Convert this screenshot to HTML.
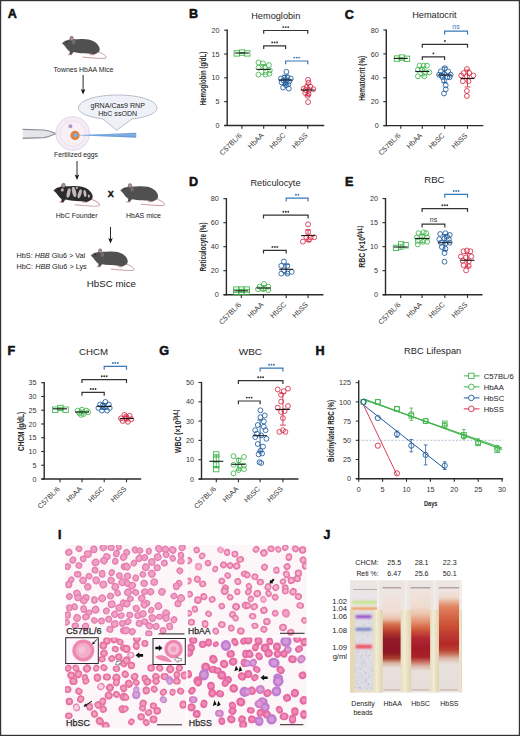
<!DOCTYPE html>
<html><head><meta charset="utf-8"><title>Figure</title>
<style>html,body{margin:0;padding:0;background:#fff;} svg{display:block;} text{font-family:"Liberation Sans", sans-serif;}</style>
</head><body>
<svg width="520" height="736" viewBox="0 0 520 736">
<rect x="0" y="0" width="520" height="736" fill="#fff"/>
<text x="7.70" y="18.30" font-size="12.6" text-anchor="start" font-weight="bold" fill="#111" stroke="#111" stroke-width="0.55" stroke-linejoin="round">A</text>
<g transform="translate(62,43.3) scale(1.0)"><path d="M35.5,8.3 C40,9.8 44.5,12.3 44.2,14.4 C43.8,16 32,14.7 20.8,13.8" fill="none" stroke="#c99a9c" stroke-width="1" stroke-linecap="round"/><path d="M28,10 L32.5,10.2 L32,11.9 L27.5,11.9 Z" fill="#d8a9aa"/><path d="M6.2,10.5 L9.6,10.5 L10.2,12 L5.8,12 Z" fill="#d8a9aa"/><path d="M0,0 C1.5,-1.6 3,-2.6 4.6,-2.9 C6.5,-3.4 8,-4 9,-4.2 C12,-4.2 14,-3.8 16,-4 C20,-4.4 24,-4.4 27.5,-3.6 C31.5,-2.6 35.8,0 37.2,3.6 C38.2,6.2 37.6,8.2 36,9.2 L33.6,10.6 L31.4,11.2 L28.6,10.4 C25,10.2 20,10 15,9.4 L11.6,8.8 L9.6,11.1 L7.4,11.1 L7.9,8.4 C6,7 4.2,5 3,3 C1.8,1.5 0.6,0.6 0,0 Z" fill="#505050"/><ellipse cx="11.8" cy="-1.2" rx="1.8" ry="2.6" fill="#7b7273" opacity="0.8"/><ellipse cx="9.6" cy="-4.9" rx="2.0" ry="2.3" fill="#857779"/><ellipse cx="9.8" cy="-4.6" rx="1.0" ry="1.3" fill="#b99c9e"/><circle cx="4.8" cy="-1.4" r="0.6" fill="#111"/><circle cx="0.3" cy="0.1" r="0.6" fill="#b99c9e"/></g>
<text x="83.50" y="72.30" font-size="6.95" text-anchor="middle" font-weight="normal" fill="#222" >Townes HbAA Mice</text>
<line x1="83.1" y1="75" x2="83.1" y2="90.5" stroke="#111" stroke-width="0.9"/>
<path d="M80.8,89.0 L83.1,94.5 L85.39999999999999,89.0 L83.1,90.2 Z" fill="#111"/>
<path d="M103,119 C88,117 78.5,113 78.5,108 C78.5,100.5 96,95 117.7,95 C139.5,95 157,100.5 157,108 C157,113 148,117 132,119 L116.6,130.3 Z" fill="#eef2f8" stroke="#8d96a6" stroke-width="0.6"/>
<text x="117.70" y="107.60" font-size="7.1" text-anchor="middle" font-weight="normal" fill="#222" >gRNA/Cas9 RNP</text>
<text x="117.70" y="115.60" font-size="7.1" text-anchor="middle" font-weight="normal" fill="#222" >HbC ssODN</text>
<path d="M22.7,129.5 L44,130 C49,130.5 52,132 55.8,133.6 C52,135.3 49,136.8 44,137.5 L22.7,138.3 Z" fill="#e4e5e9"/>
<path d="M22.7,129.4 L44,130 C49,130.5 52,132 55.8,133.6 M22.7,138.4 L44,137.6 C49,136.9 52,135.3 55.8,133.6" fill="none" stroke="#8a8e96" stroke-width="1.2"/>
<circle cx="72.7" cy="133.5" r="16.8" fill="#f3ecf7" stroke="#ddcde8" stroke-width="0.8"/>
<circle cx="72.7" cy="133.5" r="12.6" fill="#f8f0f6" stroke="#ecd2e4" stroke-width="0.6"/>
<circle cx="70.4" cy="126.2" r="2" fill="#b197c4"/>
<circle cx="75" cy="135.4" r="4.6" fill="#e07f3a"/>
<circle cx="75.6" cy="135.3" r="2.2" fill="#8aaed6"/>
<path d="M75.5,135.2 L136.2,132.7 L136.2,137.7 Z" fill="#6c9fd8"/>
<path d="M78,135 L136.2,134.2 L136.2,135.4 Z" fill="#8fbbe8"/>
<text x="76.00" y="157.00" font-size="6.77" text-anchor="middle" font-weight="normal" fill="#222" >Fertilized eggs</text>
<line x1="77" y1="161" x2="77" y2="176" stroke="#111" stroke-width="0.9"/>
<path d="M74.7,174.5 L77,180 L79.3,174.5 L77,175.7 Z" fill="#111"/>
<g transform="translate(53.5,190.4) scale(1.04)"><path d="M35.5,8.3 C40,9.8 44.5,12.3 44.2,14.4 C43.8,16 32,14.7 20.8,13.8" fill="none" stroke="#c99a9c" stroke-width="1" stroke-linecap="round"/><path d="M28,10 L32.5,10.2 L32,11.9 L27.5,11.9 Z" fill="#d8a9aa"/><path d="M6.2,10.5 L9.6,10.5 L10.2,12 L5.8,12 Z" fill="#d8a9aa"/><path d="M0,0 C1.5,-1.6 3,-2.6 4.6,-2.9 C6.5,-3.4 8,-4 9,-4.2 C12,-4.2 14,-3.8 16,-4 C20,-4.4 24,-4.4 27.5,-3.6 C31.5,-2.6 35.8,0 37.2,3.6 C38.2,6.2 37.6,8.2 36,9.2 L33.6,10.6 L31.4,11.2 L28.6,10.4 C25,10.2 20,10 15,9.4 L11.6,8.8 L9.6,11.1 L7.4,11.1 L7.9,8.4 C6,7 4.2,5 3,3 C1.8,1.5 0.6,0.6 0,0 Z" fill="#2c2c2c"/><ellipse cx="14.5" cy="2.5" rx="1.7" ry="4.6" transform="rotate(12 14.5 2.5)" fill="#c4b8b9"/><ellipse cx="19.8" cy="1.5" rx="1.9" ry="5.0" transform="rotate(-12 19.8 1.5)" fill="#c4b8b9"/><ellipse cx="25.2" cy="3.2" rx="1.6" ry="4.4" transform="rotate(18 25.2 3.2)" fill="#c4b8b9"/><ellipse cx="30.2" cy="3.0" rx="1.4" ry="3.4" transform="rotate(-8 30.2 3.0)" fill="#c4b8b9"/><ellipse cx="8.5" cy="-0.5" rx="1.4" ry="1.6" transform="rotate(0 8.5 -0.5)" fill="#c4b8b9"/><ellipse cx="22.5" cy="-2.5" rx="1.2" ry="1.0" transform="rotate(0 22.5 -2.5)" fill="#c4b8b9"/><ellipse cx="34" cy="5.5" rx="1.0" ry="1.6" transform="rotate(0 34 5.5)" fill="#c4b8b9"/><ellipse cx="9.6" cy="-4.9" rx="2.0" ry="2.3" fill="#857779"/><ellipse cx="9.8" cy="-4.6" rx="1.0" ry="1.3" fill="#b99c9e"/><circle cx="4.8" cy="-1.4" r="0.6" fill="#111"/><circle cx="0.3" cy="0.1" r="0.6" fill="#b99c9e"/></g>
<text x="110.70" y="197.40" font-size="9" text-anchor="middle" font-weight="bold" fill="#111" stroke="#111" stroke-width="0.4">X</text>
<g transform="translate(120.4,190.4) scale(1.0)"><path d="M35.5,8.3 C40,9.8 44.5,12.3 44.2,14.4 C43.8,16 32,14.7 20.8,13.8" fill="none" stroke="#c99a9c" stroke-width="1" stroke-linecap="round"/><path d="M28,10 L32.5,10.2 L32,11.9 L27.5,11.9 Z" fill="#d8a9aa"/><path d="M6.2,10.5 L9.6,10.5 L10.2,12 L5.8,12 Z" fill="#d8a9aa"/><path d="M0,0 C1.5,-1.6 3,-2.6 4.6,-2.9 C6.5,-3.4 8,-4 9,-4.2 C12,-4.2 14,-3.8 16,-4 C20,-4.4 24,-4.4 27.5,-3.6 C31.5,-2.6 35.8,0 37.2,3.6 C38.2,6.2 37.6,8.2 36,9.2 L33.6,10.6 L31.4,11.2 L28.6,10.4 C25,10.2 20,10 15,9.4 L11.6,8.8 L9.6,11.1 L7.4,11.1 L7.9,8.4 C6,7 4.2,5 3,3 C1.8,1.5 0.6,0.6 0,0 Z" fill="#505050"/><ellipse cx="11.8" cy="-1.2" rx="1.8" ry="2.6" fill="#7b7273" opacity="0.8"/><ellipse cx="9.6" cy="-4.9" rx="2.0" ry="2.3" fill="#857779"/><ellipse cx="9.8" cy="-4.6" rx="1.0" ry="1.3" fill="#b99c9e"/><circle cx="4.8" cy="-1.4" r="0.6" fill="#111"/><circle cx="0.3" cy="0.1" r="0.6" fill="#b99c9e"/></g>
<text x="76.70" y="217.80" font-size="6.96" text-anchor="middle" font-weight="normal" fill="#222" >HbC Founder</text>
<text x="143.50" y="217.80" font-size="7.0" text-anchor="middle" font-weight="normal" fill="#222" >HbAS mice</text>
<line x1="110.5" y1="227" x2="110.5" y2="239.5" stroke="#111" stroke-width="0.9"/>
<path d="M108.2,238.0 L110.5,243.5 L112.8,238.0 L110.5,239.2 Z" fill="#111"/>
<text x="16.60" y="257.50" font-size="7.25" text-anchor="start" font-weight="normal" fill="#222" >HbS: <tspan font-style="italic">HBB</tspan> Glu6 &gt; Val</text>
<text x="16.60" y="268.90" font-size="7.25" text-anchor="start" font-weight="normal" fill="#222" >HbC: <tspan font-style="italic">HBB</tspan> Glu6 &gt; Lys</text>
<g transform="translate(90.8,255.6) scale(0.98)"><path d="M35.5,8.3 C40,9.8 44.5,12.3 44.2,14.4 C43.8,16 32,14.7 20.8,13.8" fill="none" stroke="#c99a9c" stroke-width="1" stroke-linecap="round"/><path d="M28,10 L32.5,10.2 L32,11.9 L27.5,11.9 Z" fill="#d8a9aa"/><path d="M6.2,10.5 L9.6,10.5 L10.2,12 L5.8,12 Z" fill="#d8a9aa"/><path d="M0,0 C1.5,-1.6 3,-2.6 4.6,-2.9 C6.5,-3.4 8,-4 9,-4.2 C12,-4.2 14,-3.8 16,-4 C20,-4.4 24,-4.4 27.5,-3.6 C31.5,-2.6 35.8,0 37.2,3.6 C38.2,6.2 37.6,8.2 36,9.2 L33.6,10.6 L31.4,11.2 L28.6,10.4 C25,10.2 20,10 15,9.4 L11.6,8.8 L9.6,11.1 L7.4,11.1 L7.9,8.4 C6,7 4.2,5 3,3 C1.8,1.5 0.6,0.6 0,0 Z" fill="#505050"/><ellipse cx="11.8" cy="-1.2" rx="1.8" ry="2.6" fill="#7b7273" opacity="0.8"/><ellipse cx="9.6" cy="-4.9" rx="2.0" ry="2.3" fill="#857779"/><ellipse cx="9.8" cy="-4.6" rx="1.0" ry="1.3" fill="#b99c9e"/><circle cx="4.8" cy="-1.4" r="0.6" fill="#111"/><circle cx="0.3" cy="0.1" r="0.6" fill="#b99c9e"/></g>
<text x="111.40" y="287.40" font-size="9.75" text-anchor="middle" font-weight="normal" fill="#222" >HbSC mice</text>
<text x="188.90" y="18.40" font-size="12.6" text-anchor="start" font-weight="bold" fill="#111" stroke="#111" stroke-width="0.55" stroke-linejoin="round">B</text>
<text x="275.75" y="18.50" font-size="9.2" text-anchor="middle" font-weight="normal" fill="#1e1e1e" >Hemoglobin</text>
<line x1="227.2" y1="29.599999999999998" x2="227.2" y2="126.1" stroke="#2a2a2a" stroke-width="1.4"/>
<line x1="224.39999999999998" y1="125.5" x2="324.2" y2="125.5" stroke="#2a2a2a" stroke-width="1.4"/>
<line x1="224.2" y1="125.50" x2="227.2" y2="125.50" stroke="#2a2a2a" stroke-width="1.1"/>
<text x="219.60" y="128.10" font-size="7.2" text-anchor="end" font-weight="normal" fill="#333" >0</text>
<line x1="224.2" y1="101.67" x2="227.2" y2="101.67" stroke="#2a2a2a" stroke-width="1.1"/>
<text x="219.60" y="104.27" font-size="7.2" text-anchor="end" font-weight="normal" fill="#333" >5</text>
<line x1="224.2" y1="77.85" x2="227.2" y2="77.85" stroke="#2a2a2a" stroke-width="1.1"/>
<text x="219.60" y="80.45" font-size="7.2" text-anchor="end" font-weight="normal" fill="#333" >10</text>
<line x1="224.2" y1="54.03" x2="227.2" y2="54.03" stroke="#2a2a2a" stroke-width="1.1"/>
<text x="219.60" y="56.63" font-size="7.2" text-anchor="end" font-weight="normal" fill="#333" >15</text>
<line x1="224.2" y1="30.20" x2="227.2" y2="30.20" stroke="#2a2a2a" stroke-width="1.1"/>
<text x="219.60" y="32.80" font-size="7.2" text-anchor="end" font-weight="normal" fill="#333" >20</text>
<line x1="241.90" y1="125.5" x2="241.90" y2="128.7" stroke="#2a2a2a" stroke-width="1.1"/>
<text x="242.30" y="135.90" font-size="7.2" text-anchor="end" fill="#333" transform="rotate(-45 242.30 135.90)">C57BL/6</text>
<line x1="263.70" y1="125.5" x2="263.70" y2="128.7" stroke="#2a2a2a" stroke-width="1.1"/>
<text x="264.10" y="135.90" font-size="7.2" text-anchor="end" fill="#333" transform="rotate(-45 264.10 135.90)">HbAA</text>
<line x1="285.60" y1="125.5" x2="285.60" y2="128.7" stroke="#2a2a2a" stroke-width="1.1"/>
<text x="286.00" y="135.90" font-size="7.2" text-anchor="end" fill="#333" transform="rotate(-45 286.00 135.90)">HbSC</text>
<line x1="307.80" y1="125.5" x2="307.80" y2="128.7" stroke="#2a2a2a" stroke-width="1.1"/>
<text x="308.20" y="135.90" font-size="7.2" text-anchor="end" fill="#333" transform="rotate(-45 308.20 135.90)">HbSS</text>
<text x="0" y="0" font-size="9.5" font-weight="bold" text-anchor="middle" fill="#262626" textLength="53.3" lengthAdjust="spacingAndGlyphs" transform="translate(205.80,78.50) rotate(-90)">Hemoglobin (g/dL)</text>
<rect x="234.10" y="50.70" width="5.4" height="5.4" fill="none" stroke="#3db34a" stroke-width="0.85"/>
<rect x="239.30" y="49.90" width="5.4" height="5.4" fill="none" stroke="#3db34a" stroke-width="0.85"/>
<rect x="244.60" y="50.70" width="5.4" height="5.4" fill="none" stroke="#3db34a" stroke-width="0.85"/>
<path d="M238.90,52.51 H244.90 M238.90,53.49 H244.90 M241.90,52.51 V53.49" stroke="#3db34a" stroke-width="0.85" fill="none"/>
<line x1="234.90" y1="53.00" x2="248.90" y2="53.00" stroke="#1a1a1a" stroke-width="1.1"/>
<circle cx="258.50" cy="62.50" r="2.45" fill="none" stroke="#3db34a" stroke-width="0.85"/>
<circle cx="262.90" cy="63.40" r="2.45" fill="none" stroke="#3db34a" stroke-width="0.85"/>
<circle cx="268.90" cy="65.10" r="2.45" fill="none" stroke="#3db34a" stroke-width="0.85"/>
<circle cx="258.50" cy="67.70" r="2.45" fill="none" stroke="#3db34a" stroke-width="0.85"/>
<circle cx="264.60" cy="67.70" r="2.45" fill="none" stroke="#3db34a" stroke-width="0.85"/>
<circle cx="269.80" cy="70.30" r="2.45" fill="none" stroke="#3db34a" stroke-width="0.85"/>
<circle cx="258.50" cy="74.60" r="2.45" fill="none" stroke="#3db34a" stroke-width="0.85"/>
<circle cx="265.50" cy="74.60" r="2.45" fill="none" stroke="#3db34a" stroke-width="0.85"/>
<circle cx="269.40" cy="73.70" r="2.45" fill="none" stroke="#3db34a" stroke-width="0.85"/>
<path d="M260.70,64.64 H266.70 M260.70,74.16 H266.70 M263.70,64.64 V74.16" stroke="#3db34a" stroke-width="0.85" fill="none"/>
<line x1="256.70" y1="69.40" x2="270.70" y2="69.40" stroke="#1a1a1a" stroke-width="1.1"/>
<circle cx="286.40" cy="71.80" r="2.45" fill="none" stroke="#1f5c9e" stroke-width="0.85"/>
<circle cx="281.10" cy="78.50" r="2.45" fill="none" stroke="#1f5c9e" stroke-width="0.85"/>
<circle cx="284.50" cy="77.50" r="2.45" fill="none" stroke="#1f5c9e" stroke-width="0.85"/>
<circle cx="287.40" cy="77.10" r="2.45" fill="none" stroke="#1f5c9e" stroke-width="0.85"/>
<circle cx="290.80" cy="78.50" r="2.45" fill="none" stroke="#1f5c9e" stroke-width="0.85"/>
<circle cx="283.50" cy="80.40" r="2.45" fill="none" stroke="#1f5c9e" stroke-width="0.85"/>
<circle cx="286.40" cy="80.40" r="2.45" fill="none" stroke="#1f5c9e" stroke-width="0.85"/>
<circle cx="289.30" cy="81.40" r="2.45" fill="none" stroke="#1f5c9e" stroke-width="0.85"/>
<circle cx="281.60" cy="82.30" r="2.45" fill="none" stroke="#1f5c9e" stroke-width="0.85"/>
<circle cx="285.50" cy="83.30" r="2.45" fill="none" stroke="#1f5c9e" stroke-width="0.85"/>
<circle cx="288.30" cy="84.30" r="2.45" fill="none" stroke="#1f5c9e" stroke-width="0.85"/>
<circle cx="283.10" cy="87.60" r="2.45" fill="none" stroke="#1f5c9e" stroke-width="0.85"/>
<circle cx="288.80" cy="88.60" r="2.45" fill="none" stroke="#1f5c9e" stroke-width="0.85"/>
<circle cx="285.90" cy="85.20" r="2.45" fill="none" stroke="#1f5c9e" stroke-width="0.85"/>
<path d="M282.60,75.34 H288.60 M282.60,84.66 H288.60 M285.60,75.34 V84.66" stroke="#1f5c9e" stroke-width="0.85" fill="none"/>
<line x1="278.60" y1="80.00" x2="292.60" y2="80.00" stroke="#1a1a1a" stroke-width="1.1"/>
<circle cx="308.10" cy="79.90" r="2.45" fill="none" stroke="#d42a44" stroke-width="0.85"/>
<circle cx="308.50" cy="82.80" r="2.45" fill="none" stroke="#d42a44" stroke-width="0.85"/>
<circle cx="303.70" cy="88.60" r="2.45" fill="none" stroke="#d42a44" stroke-width="0.85"/>
<circle cx="306.60" cy="87.20" r="2.45" fill="none" stroke="#d42a44" stroke-width="0.85"/>
<circle cx="310.50" cy="86.70" r="2.45" fill="none" stroke="#d42a44" stroke-width="0.85"/>
<circle cx="313.30" cy="89.10" r="2.45" fill="none" stroke="#d42a44" stroke-width="0.85"/>
<circle cx="305.70" cy="90.00" r="2.45" fill="none" stroke="#d42a44" stroke-width="0.85"/>
<circle cx="309.00" cy="90.00" r="2.45" fill="none" stroke="#d42a44" stroke-width="0.85"/>
<circle cx="305.20" cy="92.90" r="2.45" fill="none" stroke="#d42a44" stroke-width="0.85"/>
<circle cx="308.50" cy="93.90" r="2.45" fill="none" stroke="#d42a44" stroke-width="0.85"/>
<circle cx="307.60" cy="95.80" r="2.45" fill="none" stroke="#d42a44" stroke-width="0.85"/>
<circle cx="308.10" cy="102.10" r="2.45" fill="none" stroke="#d42a44" stroke-width="0.85"/>
<path d="M304.80,84.13 H310.80 M304.80,95.87 H310.80 M307.80,84.13 V95.87" stroke="#d42a44" stroke-width="0.85" fill="none"/>
<line x1="300.80" y1="90.00" x2="314.80" y2="90.00" stroke="#1a1a1a" stroke-width="1.1"/>
<path d="M263.70,33.80 L263.70,30.50 L307.80,30.50 L307.80,33.80" fill="none" stroke="#333" stroke-width="1.2"/>
<circle cx="283.30" cy="27.10" r="0.95" fill="#333"/>
<circle cx="285.75" cy="27.10" r="0.95" fill="#333"/>
<circle cx="288.20" cy="27.10" r="0.95" fill="#333"/>
<path d="M263.70,49.10 L263.70,45.80 L285.60,45.80 L285.60,49.10" fill="none" stroke="#333" stroke-width="1.2"/>
<circle cx="272.20" cy="42.40" r="0.95" fill="#333"/>
<circle cx="274.65" cy="42.40" r="0.95" fill="#333"/>
<circle cx="277.10" cy="42.40" r="0.95" fill="#333"/>
<path d="M285.60,64.30 L285.60,61.00 L307.80,61.00 L307.80,64.30" fill="none" stroke="#3a78b8" stroke-width="1.2"/>
<circle cx="294.25" cy="57.60" r="0.95" fill="#3a78b8"/>
<circle cx="296.70" cy="57.60" r="0.95" fill="#3a78b8"/>
<circle cx="299.15" cy="57.60" r="0.95" fill="#3a78b8"/>
<text x="344.70" y="18.50" font-size="12.6" text-anchor="start" font-weight="bold" fill="#111" stroke="#111" stroke-width="0.55" stroke-linejoin="round">C</text>
<text x="434.40" y="18.10" font-size="9.2" text-anchor="middle" font-weight="normal" fill="#1e1e1e" >Hematocrit</text>
<line x1="386.3" y1="29.4" x2="386.3" y2="126.19999999999999" stroke="#2a2a2a" stroke-width="1.4"/>
<line x1="383.5" y1="125.6" x2="483.3" y2="125.6" stroke="#2a2a2a" stroke-width="1.4"/>
<line x1="383.3" y1="125.60" x2="386.3" y2="125.60" stroke="#2a2a2a" stroke-width="1.1"/>
<text x="378.70" y="128.20" font-size="7.2" text-anchor="end" font-weight="normal" fill="#333" >0</text>
<line x1="383.3" y1="101.70" x2="386.3" y2="101.70" stroke="#2a2a2a" stroke-width="1.1"/>
<text x="378.70" y="104.30" font-size="7.2" text-anchor="end" font-weight="normal" fill="#333" >20</text>
<line x1="383.3" y1="77.80" x2="386.3" y2="77.80" stroke="#2a2a2a" stroke-width="1.1"/>
<text x="378.70" y="80.40" font-size="7.2" text-anchor="end" font-weight="normal" fill="#333" >40</text>
<line x1="383.3" y1="53.90" x2="386.3" y2="53.90" stroke="#2a2a2a" stroke-width="1.1"/>
<text x="378.70" y="56.50" font-size="7.2" text-anchor="end" font-weight="normal" fill="#333" >60</text>
<line x1="383.3" y1="30.00" x2="386.3" y2="30.00" stroke="#2a2a2a" stroke-width="1.1"/>
<text x="378.70" y="32.60" font-size="7.2" text-anchor="end" font-weight="normal" fill="#333" >80</text>
<line x1="400.80" y1="125.6" x2="400.80" y2="128.79999999999998" stroke="#2a2a2a" stroke-width="1.1"/>
<text x="401.20" y="136.00" font-size="7.2" text-anchor="end" fill="#333" transform="rotate(-45 401.20 136.00)">C57BL/6</text>
<line x1="422.30" y1="125.6" x2="422.30" y2="128.79999999999998" stroke="#2a2a2a" stroke-width="1.1"/>
<text x="422.70" y="136.00" font-size="7.2" text-anchor="end" fill="#333" transform="rotate(-45 422.70 136.00)">HbAA</text>
<line x1="444.60" y1="125.6" x2="444.60" y2="128.79999999999998" stroke="#2a2a2a" stroke-width="1.1"/>
<text x="445.00" y="136.00" font-size="7.2" text-anchor="end" fill="#333" transform="rotate(-45 445.00 136.00)">HbSC</text>
<line x1="467.50" y1="125.6" x2="467.50" y2="128.79999999999998" stroke="#2a2a2a" stroke-width="1.1"/>
<text x="467.90" y="136.00" font-size="7.2" text-anchor="end" fill="#333" transform="rotate(-45 467.90 136.00)">HbSS</text>
<text x="0" y="0" font-size="9.5" font-weight="bold" text-anchor="middle" fill="#262626" textLength="45" lengthAdjust="spacingAndGlyphs" transform="translate(364.90,78.30) rotate(-90)">Hematocrit (%)</text>
<rect x="394.30" y="55.90" width="5.4" height="5.4" fill="none" stroke="#3db34a" stroke-width="0.85"/>
<rect x="399.30" y="54.90" width="5.4" height="5.4" fill="none" stroke="#3db34a" stroke-width="0.85"/>
<rect x="404.30" y="56.10" width="5.4" height="5.4" fill="none" stroke="#3db34a" stroke-width="0.85"/>
<path d="M397.80,57.75 H403.80 M397.80,59.05 H403.80 M400.80,57.75 V59.05" stroke="#3db34a" stroke-width="0.85" fill="none"/>
<line x1="393.80" y1="58.40" x2="407.80" y2="58.40" stroke="#1a1a1a" stroke-width="1.1"/>
<circle cx="419.50" cy="65.70" r="2.45" fill="none" stroke="#3db34a" stroke-width="0.85"/>
<circle cx="423.60" cy="65.70" r="2.45" fill="none" stroke="#3db34a" stroke-width="0.85"/>
<circle cx="426.90" cy="65.70" r="2.45" fill="none" stroke="#3db34a" stroke-width="0.85"/>
<circle cx="417.90" cy="69.80" r="2.45" fill="none" stroke="#3db34a" stroke-width="0.85"/>
<circle cx="422.00" cy="69.80" r="2.45" fill="none" stroke="#3db34a" stroke-width="0.85"/>
<circle cx="425.20" cy="72.30" r="2.45" fill="none" stroke="#3db34a" stroke-width="0.85"/>
<circle cx="429.30" cy="72.30" r="2.45" fill="none" stroke="#3db34a" stroke-width="0.85"/>
<circle cx="417.90" cy="76.30" r="2.45" fill="none" stroke="#3db34a" stroke-width="0.85"/>
<circle cx="424.40" cy="76.30" r="2.45" fill="none" stroke="#3db34a" stroke-width="0.85"/>
<path d="M419.30,67.11 H425.30 M419.30,75.89 H425.30 M422.30,67.11 V75.89" stroke="#3db34a" stroke-width="0.85" fill="none"/>
<line x1="415.30" y1="71.50" x2="429.30" y2="71.50" stroke="#1a1a1a" stroke-width="1.1"/>
<circle cx="444.80" cy="68.20" r="2.45" fill="none" stroke="#1f5c9e" stroke-width="0.85"/>
<circle cx="440.80" cy="71.40" r="2.45" fill="none" stroke="#1f5c9e" stroke-width="0.85"/>
<circle cx="448.10" cy="71.40" r="2.45" fill="none" stroke="#1f5c9e" stroke-width="0.85"/>
<circle cx="439.10" cy="74.70" r="2.45" fill="none" stroke="#1f5c9e" stroke-width="0.85"/>
<circle cx="444.00" cy="73.90" r="2.45" fill="none" stroke="#1f5c9e" stroke-width="0.85"/>
<circle cx="450.60" cy="74.70" r="2.45" fill="none" stroke="#1f5c9e" stroke-width="0.85"/>
<circle cx="442.40" cy="77.20" r="2.45" fill="none" stroke="#1f5c9e" stroke-width="0.85"/>
<circle cx="447.30" cy="77.20" r="2.45" fill="none" stroke="#1f5c9e" stroke-width="0.85"/>
<circle cx="444.00" cy="80.40" r="2.45" fill="none" stroke="#1f5c9e" stroke-width="0.85"/>
<circle cx="445.70" cy="85.30" r="2.45" fill="none" stroke="#1f5c9e" stroke-width="0.85"/>
<circle cx="445.70" cy="89.40" r="2.45" fill="none" stroke="#1f5c9e" stroke-width="0.85"/>
<circle cx="444.00" cy="93.50" r="2.45" fill="none" stroke="#1f5c9e" stroke-width="0.85"/>
<circle cx="441.60" cy="75.50" r="2.45" fill="none" stroke="#1f5c9e" stroke-width="0.85"/>
<circle cx="449.70" cy="77.20" r="2.45" fill="none" stroke="#1f5c9e" stroke-width="0.85"/>
<path d="M441.60,67.29 H447.60 M441.60,82.71 H447.60 M444.60,67.29 V82.71" stroke="#1f5c9e" stroke-width="0.85" fill="none"/>
<line x1="437.60" y1="75.00" x2="451.60" y2="75.00" stroke="#1a1a1a" stroke-width="1.1"/>
<circle cx="466.90" cy="69.00" r="2.45" fill="none" stroke="#d42a44" stroke-width="0.85"/>
<circle cx="463.60" cy="73.10" r="2.45" fill="none" stroke="#d42a44" stroke-width="0.85"/>
<circle cx="469.30" cy="73.10" r="2.45" fill="none" stroke="#d42a44" stroke-width="0.85"/>
<circle cx="473.40" cy="75.50" r="2.45" fill="none" stroke="#d42a44" stroke-width="0.85"/>
<circle cx="461.20" cy="75.50" r="2.45" fill="none" stroke="#d42a44" stroke-width="0.85"/>
<circle cx="466.90" cy="76.30" r="2.45" fill="none" stroke="#d42a44" stroke-width="0.85"/>
<circle cx="462.80" cy="81.20" r="2.45" fill="none" stroke="#d42a44" stroke-width="0.85"/>
<circle cx="468.50" cy="81.20" r="2.45" fill="none" stroke="#d42a44" stroke-width="0.85"/>
<circle cx="466.90" cy="91.00" r="2.45" fill="none" stroke="#d42a44" stroke-width="0.85"/>
<circle cx="466.90" cy="96.00" r="2.45" fill="none" stroke="#d42a44" stroke-width="0.85"/>
<path d="M464.50,70.01 H470.50 M464.50,86.99 H470.50 M467.50,70.01 V86.99" stroke="#d42a44" stroke-width="0.85" fill="none"/>
<line x1="460.50" y1="78.50" x2="474.50" y2="78.50" stroke="#1a1a1a" stroke-width="1.1"/>
<path d="M444.60,34.50 L444.60,31.20 L467.50,31.20 L467.50,34.50" fill="none" stroke="#3a78b8" stroke-width="1.2"/>
<text x="456.05" y="29.00" font-size="7.0" text-anchor="middle" font-weight="normal" fill="#3a78b8" >ns</text>
<path d="M422.30,47.70 L422.30,44.40 L467.50,44.40 L467.50,47.70" fill="none" stroke="#333" stroke-width="1.2"/>
<circle cx="444.90" cy="41.00" r="0.95" fill="#333"/>
<path d="M422.30,60.10 L422.30,56.80 L444.60,56.80 L444.60,60.10" fill="none" stroke="#333" stroke-width="1.2"/>
<circle cx="433.45" cy="53.40" r="0.95" fill="#333"/>
<text x="188.90" y="185.80" font-size="12.6" text-anchor="start" font-weight="bold" fill="#111" stroke="#111" stroke-width="0.55" stroke-linejoin="round">D</text>
<text x="275.50" y="186.00" font-size="9.2" text-anchor="middle" font-weight="normal" fill="#1e1e1e" >Reticulocyte</text>
<line x1="226.4" y1="198.1" x2="226.4" y2="295.3" stroke="#2a2a2a" stroke-width="1.4"/>
<line x1="223.6" y1="294.7" x2="323.4" y2="294.7" stroke="#2a2a2a" stroke-width="1.4"/>
<line x1="223.4" y1="294.70" x2="226.4" y2="294.70" stroke="#2a2a2a" stroke-width="1.1"/>
<text x="218.80" y="297.30" font-size="7.2" text-anchor="end" font-weight="normal" fill="#333" >0</text>
<line x1="223.4" y1="270.70" x2="226.4" y2="270.70" stroke="#2a2a2a" stroke-width="1.1"/>
<text x="218.80" y="273.30" font-size="7.2" text-anchor="end" font-weight="normal" fill="#333" >20</text>
<line x1="223.4" y1="246.70" x2="226.4" y2="246.70" stroke="#2a2a2a" stroke-width="1.1"/>
<text x="218.80" y="249.30" font-size="7.2" text-anchor="end" font-weight="normal" fill="#333" >40</text>
<line x1="223.4" y1="222.70" x2="226.4" y2="222.70" stroke="#2a2a2a" stroke-width="1.1"/>
<text x="218.80" y="225.30" font-size="7.2" text-anchor="end" font-weight="normal" fill="#333" >60</text>
<line x1="223.4" y1="198.70" x2="226.4" y2="198.70" stroke="#2a2a2a" stroke-width="1.1"/>
<text x="218.80" y="201.30" font-size="7.2" text-anchor="end" font-weight="normal" fill="#333" >80</text>
<line x1="241.30" y1="294.7" x2="241.30" y2="297.9" stroke="#2a2a2a" stroke-width="1.1"/>
<text x="241.70" y="305.10" font-size="7.2" text-anchor="end" fill="#333" transform="rotate(-45 241.70 305.10)">C57BL/6</text>
<line x1="263.50" y1="294.7" x2="263.50" y2="297.9" stroke="#2a2a2a" stroke-width="1.1"/>
<text x="263.90" y="305.10" font-size="7.2" text-anchor="end" fill="#333" transform="rotate(-45 263.90 305.10)">HbAA</text>
<line x1="286.20" y1="294.7" x2="286.20" y2="297.9" stroke="#2a2a2a" stroke-width="1.1"/>
<text x="286.60" y="305.10" font-size="7.2" text-anchor="end" fill="#333" transform="rotate(-45 286.60 305.10)">HbSC</text>
<line x1="308.10" y1="294.7" x2="308.10" y2="297.9" stroke="#2a2a2a" stroke-width="1.1"/>
<text x="308.50" y="305.10" font-size="7.2" text-anchor="end" fill="#333" transform="rotate(-45 308.50 305.10)">HbSS</text>
<text x="0" y="0" font-size="9.5" font-weight="bold" text-anchor="middle" fill="#262626" textLength="49" lengthAdjust="spacingAndGlyphs" transform="translate(206.20,247.00) rotate(-90)">Reticulocyte (%)</text>
<rect x="233.60" y="286.90" width="5.4" height="5.4" fill="none" stroke="#3db34a" stroke-width="0.85"/>
<rect x="238.80" y="286.90" width="5.4" height="5.4" fill="none" stroke="#3db34a" stroke-width="0.85"/>
<rect x="244.00" y="286.90" width="5.4" height="5.4" fill="none" stroke="#3db34a" stroke-width="0.85"/>
<rect x="233.60" y="289.30" width="5.4" height="5.4" fill="none" stroke="#3db34a" stroke-width="0.85"/>
<rect x="238.80" y="289.30" width="5.4" height="5.4" fill="none" stroke="#3db34a" stroke-width="0.85"/>
<rect x="244.00" y="289.30" width="5.4" height="5.4" fill="none" stroke="#3db34a" stroke-width="0.85"/>
<path d="M238.30,289.49 H244.30 M238.30,292.11 H244.30 M241.30,289.49 V292.11" stroke="#3db34a" stroke-width="0.85" fill="none"/>
<line x1="234.30" y1="290.80" x2="248.30" y2="290.80" stroke="#1a1a1a" stroke-width="1.1"/>
<circle cx="264.00" cy="284.00" r="2.45" fill="none" stroke="#3db34a" stroke-width="0.85"/>
<circle cx="259.70" cy="286.60" r="2.45" fill="none" stroke="#3db34a" stroke-width="0.85"/>
<circle cx="268.30" cy="286.60" r="2.45" fill="none" stroke="#3db34a" stroke-width="0.85"/>
<circle cx="258.00" cy="289.20" r="2.45" fill="none" stroke="#3db34a" stroke-width="0.85"/>
<circle cx="263.10" cy="289.20" r="2.45" fill="none" stroke="#3db34a" stroke-width="0.85"/>
<circle cx="268.30" cy="290.10" r="2.45" fill="none" stroke="#3db34a" stroke-width="0.85"/>
<path d="M260.50,285.67 H266.50 M260.50,290.33 H266.50 M263.50,285.67 V290.33" stroke="#3db34a" stroke-width="0.85" fill="none"/>
<line x1="256.50" y1="288.00" x2="270.50" y2="288.00" stroke="#1a1a1a" stroke-width="1.1"/>
<circle cx="283.90" cy="261.50" r="2.45" fill="none" stroke="#1f5c9e" stroke-width="0.85"/>
<circle cx="281.30" cy="265.80" r="2.45" fill="none" stroke="#1f5c9e" stroke-width="0.85"/>
<circle cx="287.40" cy="265.80" r="2.45" fill="none" stroke="#1f5c9e" stroke-width="0.85"/>
<circle cx="283.90" cy="270.20" r="2.45" fill="none" stroke="#1f5c9e" stroke-width="0.85"/>
<circle cx="281.30" cy="273.60" r="2.45" fill="none" stroke="#1f5c9e" stroke-width="0.85"/>
<circle cx="287.40" cy="273.60" r="2.45" fill="none" stroke="#1f5c9e" stroke-width="0.85"/>
<circle cx="291.70" cy="271.90" r="2.45" fill="none" stroke="#1f5c9e" stroke-width="0.85"/>
<path d="M283.20,264.65 H289.20 M283.20,273.95 H289.20 M286.20,264.65 V273.95" stroke="#1f5c9e" stroke-width="0.85" fill="none"/>
<line x1="279.20" y1="269.30" x2="293.20" y2="269.30" stroke="#1a1a1a" stroke-width="1.1"/>
<circle cx="308.10" cy="224.30" r="2.45" fill="none" stroke="#d42a44" stroke-width="0.85"/>
<circle cx="308.10" cy="232.10" r="2.45" fill="none" stroke="#d42a44" stroke-width="0.85"/>
<circle cx="306.40" cy="237.30" r="2.45" fill="none" stroke="#d42a44" stroke-width="0.85"/>
<circle cx="310.70" cy="237.30" r="2.45" fill="none" stroke="#d42a44" stroke-width="0.85"/>
<circle cx="302.90" cy="241.60" r="2.45" fill="none" stroke="#d42a44" stroke-width="0.85"/>
<circle cx="309.00" cy="239.90" r="2.45" fill="none" stroke="#d42a44" stroke-width="0.85"/>
<circle cx="314.20" cy="237.30" r="2.45" fill="none" stroke="#d42a44" stroke-width="0.85"/>
<path d="M305.10,229.78 H311.10 M305.10,241.42 H311.10 M308.10,229.78 V241.42" stroke="#d42a44" stroke-width="0.85" fill="none"/>
<line x1="301.10" y1="235.60" x2="315.10" y2="235.60" stroke="#1a1a1a" stroke-width="1.1"/>
<path d="M286.20,201.50 L286.20,198.20 L308.10,198.20 L308.10,201.50" fill="none" stroke="#3a78b8" stroke-width="1.2"/>
<circle cx="295.92" cy="194.80" r="0.95" fill="#3a78b8"/>
<circle cx="298.38" cy="194.80" r="0.95" fill="#3a78b8"/>
<path d="M263.50,218.40 L263.50,215.10 L308.10,215.10 L308.10,218.40" fill="none" stroke="#333" stroke-width="1.2"/>
<circle cx="283.35" cy="211.70" r="0.95" fill="#333"/>
<circle cx="285.80" cy="211.70" r="0.95" fill="#333"/>
<circle cx="288.25" cy="211.70" r="0.95" fill="#333"/>
<path d="M263.50,253.60 L263.50,250.30 L286.20,250.30 L286.20,253.60" fill="none" stroke="#333" stroke-width="1.2"/>
<circle cx="272.40" cy="246.90" r="0.95" fill="#333"/>
<circle cx="274.85" cy="246.90" r="0.95" fill="#333"/>
<circle cx="277.30" cy="246.90" r="0.95" fill="#333"/>
<text x="344.90" y="185.80" font-size="12.6" text-anchor="start" font-weight="bold" fill="#111" stroke="#111" stroke-width="0.55" stroke-linejoin="round">E</text>
<text x="434.4" y="182.7" font-size="9.5" text-anchor="middle" fill="#1e1e1e" textLength="20.4" lengthAdjust="spacingAndGlyphs">RBC</text>
<line x1="385.5" y1="198.0" x2="385.5" y2="295.3" stroke="#2a2a2a" stroke-width="1.4"/>
<line x1="382.7" y1="294.7" x2="482.5" y2="294.7" stroke="#2a2a2a" stroke-width="1.4"/>
<line x1="382.5" y1="294.70" x2="385.5" y2="294.70" stroke="#2a2a2a" stroke-width="1.1"/>
<text x="377.90" y="297.30" font-size="7.2" text-anchor="end" font-weight="normal" fill="#333" >0</text>
<line x1="382.5" y1="270.68" x2="385.5" y2="270.68" stroke="#2a2a2a" stroke-width="1.1"/>
<text x="377.90" y="273.28" font-size="7.2" text-anchor="end" font-weight="normal" fill="#333" >5</text>
<line x1="382.5" y1="246.65" x2="385.5" y2="246.65" stroke="#2a2a2a" stroke-width="1.1"/>
<text x="377.90" y="249.25" font-size="7.2" text-anchor="end" font-weight="normal" fill="#333" >10</text>
<line x1="382.5" y1="222.62" x2="385.5" y2="222.62" stroke="#2a2a2a" stroke-width="1.1"/>
<text x="377.90" y="225.22" font-size="7.2" text-anchor="end" font-weight="normal" fill="#333" >15</text>
<line x1="382.5" y1="198.60" x2="385.5" y2="198.60" stroke="#2a2a2a" stroke-width="1.1"/>
<text x="377.90" y="201.20" font-size="7.2" text-anchor="end" font-weight="normal" fill="#333" >20</text>
<line x1="400.70" y1="294.7" x2="400.70" y2="297.9" stroke="#2a2a2a" stroke-width="1.1"/>
<text x="401.10" y="305.10" font-size="7.2" text-anchor="end" fill="#333" transform="rotate(-45 401.10 305.10)">C57BL/6</text>
<line x1="422.10" y1="294.7" x2="422.10" y2="297.9" stroke="#2a2a2a" stroke-width="1.1"/>
<text x="422.50" y="305.10" font-size="7.2" text-anchor="end" fill="#333" transform="rotate(-45 422.50 305.10)">HbAA</text>
<line x1="444.80" y1="294.7" x2="444.80" y2="297.9" stroke="#2a2a2a" stroke-width="1.1"/>
<text x="445.20" y="305.10" font-size="7.2" text-anchor="end" fill="#333" transform="rotate(-45 445.20 305.10)">HbSC</text>
<line x1="467.50" y1="294.7" x2="467.50" y2="297.9" stroke="#2a2a2a" stroke-width="1.1"/>
<text x="467.90" y="305.10" font-size="7.2" text-anchor="end" fill="#333" transform="rotate(-45 467.90 305.10)">HbSS</text>
<text x="0" y="0" font-size="9.5" font-weight="bold" text-anchor="middle" fill="#262626" textLength="42" lengthAdjust="spacingAndGlyphs" transform="translate(364.90,246.80) rotate(-90)">RBC (×10<tspan font-size="6.5" dy="-3">6/μL)</tspan></tspan></text>
<rect x="393.30" y="245.20" width="5.4" height="5.4" fill="none" stroke="#3db34a" stroke-width="0.85"/>
<rect x="398.50" y="241.70" width="5.4" height="5.4" fill="none" stroke="#3db34a" stroke-width="0.85"/>
<rect x="402.90" y="242.60" width="5.4" height="5.4" fill="none" stroke="#3db34a" stroke-width="0.85"/>
<path d="M397.70,244.71 H403.70 M397.70,249.29 H403.70 M400.70,244.71 V249.29" stroke="#3db34a" stroke-width="0.85" fill="none"/>
<line x1="393.70" y1="247.00" x2="407.70" y2="247.00" stroke="#1a1a1a" stroke-width="1.1"/>
<circle cx="418.50" cy="233.20" r="2.45" fill="none" stroke="#3db34a" stroke-width="0.85"/>
<circle cx="423.70" cy="232.30" r="2.45" fill="none" stroke="#3db34a" stroke-width="0.85"/>
<circle cx="426.30" cy="233.20" r="2.45" fill="none" stroke="#3db34a" stroke-width="0.85"/>
<circle cx="416.80" cy="237.50" r="2.45" fill="none" stroke="#3db34a" stroke-width="0.85"/>
<circle cx="422.00" cy="236.60" r="2.45" fill="none" stroke="#3db34a" stroke-width="0.85"/>
<circle cx="427.20" cy="237.50" r="2.45" fill="none" stroke="#3db34a" stroke-width="0.85"/>
<circle cx="417.70" cy="241.00" r="2.45" fill="none" stroke="#3db34a" stroke-width="0.85"/>
<circle cx="422.90" cy="241.80" r="2.45" fill="none" stroke="#3db34a" stroke-width="0.85"/>
<circle cx="427.20" cy="241.80" r="2.45" fill="none" stroke="#3db34a" stroke-width="0.85"/>
<circle cx="417.70" cy="244.40" r="2.45" fill="none" stroke="#3db34a" stroke-width="0.85"/>
<path d="M419.10,234.16 H425.10 M419.10,242.64 H425.10 M422.10,234.16 V242.64" stroke="#3db34a" stroke-width="0.85" fill="none"/>
<line x1="415.10" y1="238.40" x2="429.10" y2="238.40" stroke="#1a1a1a" stroke-width="1.1"/>
<circle cx="440.20" cy="234.00" r="2.45" fill="none" stroke="#1f5c9e" stroke-width="0.85"/>
<circle cx="445.40" cy="233.20" r="2.45" fill="none" stroke="#1f5c9e" stroke-width="0.85"/>
<circle cx="449.70" cy="234.90" r="2.45" fill="none" stroke="#1f5c9e" stroke-width="0.85"/>
<circle cx="439.30" cy="239.20" r="2.45" fill="none" stroke="#1f5c9e" stroke-width="0.85"/>
<circle cx="444.50" cy="238.40" r="2.45" fill="none" stroke="#1f5c9e" stroke-width="0.85"/>
<circle cx="448.80" cy="239.20" r="2.45" fill="none" stroke="#1f5c9e" stroke-width="0.85"/>
<circle cx="441.00" cy="242.70" r="2.45" fill="none" stroke="#1f5c9e" stroke-width="0.85"/>
<circle cx="445.40" cy="243.50" r="2.45" fill="none" stroke="#1f5c9e" stroke-width="0.85"/>
<circle cx="449.70" cy="242.70" r="2.45" fill="none" stroke="#1f5c9e" stroke-width="0.85"/>
<circle cx="441.90" cy="247.00" r="2.45" fill="none" stroke="#1f5c9e" stroke-width="0.85"/>
<circle cx="445.40" cy="248.70" r="2.45" fill="none" stroke="#1f5c9e" stroke-width="0.85"/>
<circle cx="444.50" cy="253.10" r="2.45" fill="none" stroke="#1f5c9e" stroke-width="0.85"/>
<circle cx="444.50" cy="261.70" r="2.45" fill="none" stroke="#1f5c9e" stroke-width="0.85"/>
<circle cx="447.10" cy="236.60" r="2.45" fill="none" stroke="#1f5c9e" stroke-width="0.85"/>
<path d="M441.80,234.70 H447.80 M441.80,250.70 H447.80 M444.80,234.70 V250.70" stroke="#1f5c9e" stroke-width="0.85" fill="none"/>
<line x1="437.80" y1="242.70" x2="451.80" y2="242.70" stroke="#1a1a1a" stroke-width="1.1"/>
<circle cx="463.50" cy="251.30" r="2.45" fill="none" stroke="#d42a44" stroke-width="0.85"/>
<circle cx="467.00" cy="250.50" r="2.45" fill="none" stroke="#d42a44" stroke-width="0.85"/>
<circle cx="470.40" cy="251.30" r="2.45" fill="none" stroke="#d42a44" stroke-width="0.85"/>
<circle cx="460.90" cy="256.50" r="2.45" fill="none" stroke="#d42a44" stroke-width="0.85"/>
<circle cx="466.10" cy="257.40" r="2.45" fill="none" stroke="#d42a44" stroke-width="0.85"/>
<circle cx="471.30" cy="256.50" r="2.45" fill="none" stroke="#d42a44" stroke-width="0.85"/>
<circle cx="462.70" cy="260.80" r="2.45" fill="none" stroke="#d42a44" stroke-width="0.85"/>
<circle cx="468.70" cy="261.70" r="2.45" fill="none" stroke="#d42a44" stroke-width="0.85"/>
<circle cx="463.50" cy="265.20" r="2.45" fill="none" stroke="#d42a44" stroke-width="0.85"/>
<circle cx="468.70" cy="266.00" r="2.45" fill="none" stroke="#d42a44" stroke-width="0.85"/>
<circle cx="466.10" cy="270.40" r="2.45" fill="none" stroke="#d42a44" stroke-width="0.85"/>
<path d="M464.50,253.55 H470.50 M464.50,267.05 H470.50 M467.50,253.55 V267.05" stroke="#d42a44" stroke-width="0.85" fill="none"/>
<line x1="460.50" y1="260.30" x2="474.50" y2="260.30" stroke="#1a1a1a" stroke-width="1.1"/>
<path d="M444.80,197.70 L444.80,194.40 L467.50,194.40 L467.50,197.70" fill="none" stroke="#3a78b8" stroke-width="1.2"/>
<circle cx="453.70" cy="191.00" r="0.95" fill="#3a78b8"/>
<circle cx="456.15" cy="191.00" r="0.95" fill="#3a78b8"/>
<circle cx="458.60" cy="191.00" r="0.95" fill="#3a78b8"/>
<path d="M422.10,212.00 L422.10,208.70 L467.50,208.70 L467.50,212.00" fill="none" stroke="#333" stroke-width="1.2"/>
<circle cx="442.35" cy="205.30" r="0.95" fill="#333"/>
<circle cx="444.80" cy="205.30" r="0.95" fill="#333"/>
<circle cx="447.25" cy="205.30" r="0.95" fill="#333"/>
<path d="M422.10,227.50 L422.10,224.20 L444.80,224.20 L444.80,227.50" fill="none" stroke="#333" stroke-width="1.2"/>
<text x="433.45" y="222.00" font-size="7.0" text-anchor="middle" font-weight="normal" fill="#333" >ns</text>
<text x="7.50" y="354.50" font-size="12.6" text-anchor="start" font-weight="bold" fill="#111" stroke="#111" stroke-width="0.55" stroke-linejoin="round">F</text>
<text x="93.5" y="354.6" font-size="9.5" text-anchor="middle" fill="#1e1e1e" textLength="28.9" lengthAdjust="spacingAndGlyphs">CHCM</text>
<line x1="44.2" y1="382.09999999999997" x2="44.2" y2="479.6" stroke="#2a2a2a" stroke-width="1.4"/>
<line x1="41.400000000000006" y1="479.0" x2="141.2" y2="479.0" stroke="#2a2a2a" stroke-width="1.4"/>
<line x1="41.2" y1="479.00" x2="44.2" y2="479.00" stroke="#2a2a2a" stroke-width="1.1"/>
<text x="36.60" y="481.60" font-size="7.2" text-anchor="end" font-weight="normal" fill="#333" >0</text>
<line x1="41.2" y1="465.24" x2="44.2" y2="465.24" stroke="#2a2a2a" stroke-width="1.1"/>
<text x="36.60" y="467.84" font-size="7.2" text-anchor="end" font-weight="normal" fill="#333" >5</text>
<line x1="41.2" y1="451.49" x2="44.2" y2="451.49" stroke="#2a2a2a" stroke-width="1.1"/>
<text x="36.60" y="454.09" font-size="7.2" text-anchor="end" font-weight="normal" fill="#333" >10</text>
<line x1="41.2" y1="437.73" x2="44.2" y2="437.73" stroke="#2a2a2a" stroke-width="1.1"/>
<text x="36.60" y="440.33" font-size="7.2" text-anchor="end" font-weight="normal" fill="#333" >15</text>
<line x1="41.2" y1="423.97" x2="44.2" y2="423.97" stroke="#2a2a2a" stroke-width="1.1"/>
<text x="36.60" y="426.57" font-size="7.2" text-anchor="end" font-weight="normal" fill="#333" >20</text>
<line x1="41.2" y1="410.21" x2="44.2" y2="410.21" stroke="#2a2a2a" stroke-width="1.1"/>
<text x="36.60" y="412.81" font-size="7.2" text-anchor="end" font-weight="normal" fill="#333" >25</text>
<line x1="41.2" y1="396.46" x2="44.2" y2="396.46" stroke="#2a2a2a" stroke-width="1.1"/>
<text x="36.60" y="399.06" font-size="7.2" text-anchor="end" font-weight="normal" fill="#333" >30</text>
<line x1="41.2" y1="382.70" x2="44.2" y2="382.70" stroke="#2a2a2a" stroke-width="1.1"/>
<text x="36.60" y="385.30" font-size="7.2" text-anchor="end" font-weight="normal" fill="#333" >35</text>
<line x1="60.00" y1="479.0" x2="60.00" y2="482.2" stroke="#2a2a2a" stroke-width="1.1"/>
<text x="60.40" y="489.40" font-size="7.2" text-anchor="end" fill="#333" transform="rotate(-45 60.40 489.40)">C57BL/6</text>
<line x1="82.00" y1="479.0" x2="82.00" y2="482.2" stroke="#2a2a2a" stroke-width="1.1"/>
<text x="82.40" y="489.40" font-size="7.2" text-anchor="end" fill="#333" transform="rotate(-45 82.40 489.40)">HbAA</text>
<line x1="104.20" y1="479.0" x2="104.20" y2="482.2" stroke="#2a2a2a" stroke-width="1.1"/>
<text x="104.60" y="489.40" font-size="7.2" text-anchor="end" fill="#333" transform="rotate(-45 104.60 489.40)">HbSC</text>
<line x1="126.50" y1="479.0" x2="126.50" y2="482.2" stroke="#2a2a2a" stroke-width="1.1"/>
<text x="126.90" y="489.40" font-size="7.2" text-anchor="end" fill="#333" transform="rotate(-45 126.90 489.40)">HbSS</text>
<text x="0" y="0" font-size="9.5" font-weight="bold" text-anchor="middle" fill="#262626" textLength="39" lengthAdjust="spacingAndGlyphs" transform="translate(23.70,431.40) rotate(-90)">CHCM (g/dL)</text>
<rect x="52.50" y="407.00" width="5.4" height="5.4" fill="none" stroke="#3db34a" stroke-width="0.85"/>
<rect x="57.70" y="405.30" width="5.4" height="5.4" fill="none" stroke="#3db34a" stroke-width="0.85"/>
<rect x="62.90" y="407.00" width="5.4" height="5.4" fill="none" stroke="#3db34a" stroke-width="0.85"/>
<path d="M57.00,407.74 H63.00 M57.00,409.86 H63.00 M60.00,407.74 V409.86" stroke="#3db34a" stroke-width="0.85" fill="none"/>
<line x1="53.00" y1="408.80" x2="67.00" y2="408.80" stroke="#1a1a1a" stroke-width="1.1"/>
<circle cx="77.70" cy="410.60" r="2.45" fill="none" stroke="#3db34a" stroke-width="0.85"/>
<circle cx="82.00" cy="409.70" r="2.45" fill="none" stroke="#3db34a" stroke-width="0.85"/>
<circle cx="86.30" cy="410.60" r="2.45" fill="none" stroke="#3db34a" stroke-width="0.85"/>
<circle cx="79.40" cy="413.20" r="2.45" fill="none" stroke="#3db34a" stroke-width="0.85"/>
<circle cx="83.70" cy="414.00" r="2.45" fill="none" stroke="#3db34a" stroke-width="0.85"/>
<circle cx="88.10" cy="412.30" r="2.45" fill="none" stroke="#3db34a" stroke-width="0.85"/>
<circle cx="81.10" cy="414.90" r="2.45" fill="none" stroke="#3db34a" stroke-width="0.85"/>
<path d="M79.00,410.04 H85.00 M79.00,413.96 H85.00 M82.00,410.04 V413.96" stroke="#3db34a" stroke-width="0.85" fill="none"/>
<line x1="75.00" y1="412.00" x2="89.00" y2="412.00" stroke="#1a1a1a" stroke-width="1.1"/>
<circle cx="105.40" cy="401.90" r="2.45" fill="none" stroke="#1f5c9e" stroke-width="0.85"/>
<circle cx="100.20" cy="404.50" r="2.45" fill="none" stroke="#1f5c9e" stroke-width="0.85"/>
<circle cx="108.80" cy="404.50" r="2.45" fill="none" stroke="#1f5c9e" stroke-width="0.85"/>
<circle cx="98.40" cy="408.00" r="2.45" fill="none" stroke="#1f5c9e" stroke-width="0.85"/>
<circle cx="103.60" cy="407.10" r="2.45" fill="none" stroke="#1f5c9e" stroke-width="0.85"/>
<circle cx="109.70" cy="408.00" r="2.45" fill="none" stroke="#1f5c9e" stroke-width="0.85"/>
<circle cx="101.90" cy="410.60" r="2.45" fill="none" stroke="#1f5c9e" stroke-width="0.85"/>
<circle cx="107.10" cy="410.60" r="2.45" fill="none" stroke="#1f5c9e" stroke-width="0.85"/>
<circle cx="102.80" cy="405.40" r="2.45" fill="none" stroke="#1f5c9e" stroke-width="0.85"/>
<path d="M101.20,403.57 H107.20 M101.20,409.43 H107.20 M104.20,403.57 V409.43" stroke="#1f5c9e" stroke-width="0.85" fill="none"/>
<line x1="97.20" y1="406.50" x2="111.20" y2="406.50" stroke="#1a1a1a" stroke-width="1.1"/>
<circle cx="124.40" cy="414.90" r="2.45" fill="none" stroke="#d42a44" stroke-width="0.85"/>
<circle cx="129.60" cy="415.80" r="2.45" fill="none" stroke="#d42a44" stroke-width="0.85"/>
<circle cx="120.90" cy="418.40" r="2.45" fill="none" stroke="#d42a44" stroke-width="0.85"/>
<circle cx="126.10" cy="418.40" r="2.45" fill="none" stroke="#d42a44" stroke-width="0.85"/>
<circle cx="131.30" cy="419.20" r="2.45" fill="none" stroke="#d42a44" stroke-width="0.85"/>
<circle cx="122.70" cy="421.00" r="2.45" fill="none" stroke="#d42a44" stroke-width="0.85"/>
<circle cx="127.90" cy="421.80" r="2.45" fill="none" stroke="#d42a44" stroke-width="0.85"/>
<circle cx="126.10" cy="416.60" r="2.45" fill="none" stroke="#d42a44" stroke-width="0.85"/>
<path d="M123.50,416.06 H129.50 M123.50,420.94 H129.50 M126.50,416.06 V420.94" stroke="#d42a44" stroke-width="0.85" fill="none"/>
<line x1="119.50" y1="418.50" x2="133.50" y2="418.50" stroke="#1a1a1a" stroke-width="1.1"/>
<path d="M104.20,369.70 L104.20,366.40 L126.50,366.40 L126.50,369.70" fill="none" stroke="#3a78b8" stroke-width="1.2"/>
<circle cx="112.90" cy="363.00" r="0.95" fill="#3a78b8"/>
<circle cx="115.35" cy="363.00" r="0.95" fill="#3a78b8"/>
<circle cx="117.80" cy="363.00" r="0.95" fill="#3a78b8"/>
<path d="M82.00,382.90 L82.00,379.60 L126.50,379.60 L126.50,382.90" fill="none" stroke="#333" stroke-width="1.2"/>
<circle cx="101.80" cy="376.20" r="0.95" fill="#333"/>
<circle cx="104.25" cy="376.20" r="0.95" fill="#333"/>
<circle cx="106.70" cy="376.20" r="0.95" fill="#333"/>
<path d="M82.00,395.70 L82.00,392.40 L104.20,392.40 L104.20,395.70" fill="none" stroke="#333" stroke-width="1.2"/>
<circle cx="90.65" cy="389.00" r="0.95" fill="#333"/>
<circle cx="93.10" cy="389.00" r="0.95" fill="#333"/>
<circle cx="95.55" cy="389.00" r="0.95" fill="#333"/>
<text x="159.30" y="354.50" font-size="12.6" text-anchor="start" font-weight="bold" fill="#111" stroke="#111" stroke-width="0.55" stroke-linejoin="round">G</text>
<text x="250.4" y="354.6" font-size="9.5" text-anchor="middle" fill="#1e1e1e" textLength="23.5" lengthAdjust="spacingAndGlyphs">WBC</text>
<line x1="201.5" y1="381.9" x2="201.5" y2="479.6" stroke="#2a2a2a" stroke-width="1.4"/>
<line x1="198.7" y1="479.0" x2="298.5" y2="479.0" stroke="#2a2a2a" stroke-width="1.4"/>
<line x1="198.5" y1="479.00" x2="201.5" y2="479.00" stroke="#2a2a2a" stroke-width="1.1"/>
<text x="193.90" y="481.60" font-size="7.2" text-anchor="end" font-weight="normal" fill="#333" >0</text>
<line x1="198.5" y1="459.70" x2="201.5" y2="459.70" stroke="#2a2a2a" stroke-width="1.1"/>
<text x="193.90" y="462.30" font-size="7.2" text-anchor="end" font-weight="normal" fill="#333" >10</text>
<line x1="198.5" y1="440.40" x2="201.5" y2="440.40" stroke="#2a2a2a" stroke-width="1.1"/>
<text x="193.90" y="443.00" font-size="7.2" text-anchor="end" font-weight="normal" fill="#333" >20</text>
<line x1="198.5" y1="421.10" x2="201.5" y2="421.10" stroke="#2a2a2a" stroke-width="1.1"/>
<text x="193.90" y="423.70" font-size="7.2" text-anchor="end" font-weight="normal" fill="#333" >30</text>
<line x1="198.5" y1="401.80" x2="201.5" y2="401.80" stroke="#2a2a2a" stroke-width="1.1"/>
<text x="193.90" y="404.40" font-size="7.2" text-anchor="end" font-weight="normal" fill="#333" >40</text>
<line x1="198.5" y1="382.50" x2="201.5" y2="382.50" stroke="#2a2a2a" stroke-width="1.1"/>
<text x="193.90" y="385.10" font-size="7.2" text-anchor="end" font-weight="normal" fill="#333" >50</text>
<line x1="216.30" y1="479.0" x2="216.30" y2="482.2" stroke="#2a2a2a" stroke-width="1.1"/>
<text x="216.70" y="489.40" font-size="7.2" text-anchor="end" fill="#333" transform="rotate(-45 216.70 489.40)">C57BL/6</text>
<line x1="238.40" y1="479.0" x2="238.40" y2="482.2" stroke="#2a2a2a" stroke-width="1.1"/>
<text x="238.80" y="489.40" font-size="7.2" text-anchor="end" fill="#333" transform="rotate(-45 238.80 489.40)">HbAA</text>
<line x1="260.10" y1="479.0" x2="260.10" y2="482.2" stroke="#2a2a2a" stroke-width="1.1"/>
<text x="260.50" y="489.40" font-size="7.2" text-anchor="end" fill="#333" transform="rotate(-45 260.50 489.40)">HbSC</text>
<line x1="282.90" y1="479.0" x2="282.90" y2="482.2" stroke="#2a2a2a" stroke-width="1.1"/>
<text x="283.30" y="489.40" font-size="7.2" text-anchor="end" fill="#333" transform="rotate(-45 283.30 489.40)">HbSS</text>
<text x="0" y="0" font-size="9.5" font-weight="bold" text-anchor="middle" fill="#262626" textLength="43.4" lengthAdjust="spacingAndGlyphs" transform="translate(180.60,431.30) rotate(-90)">WBC (×10<tspan font-size="6.5" dy="-3">3/μL)</tspan></tspan></text>
<rect x="213.50" y="451.70" width="5.4" height="5.4" fill="none" stroke="#3db34a" stroke-width="0.85"/>
<rect x="213.50" y="456.00" width="5.4" height="5.4" fill="none" stroke="#3db34a" stroke-width="0.85"/>
<rect x="213.50" y="462.10" width="5.4" height="5.4" fill="none" stroke="#3db34a" stroke-width="0.85"/>
<rect x="213.50" y="466.40" width="5.4" height="5.4" fill="none" stroke="#3db34a" stroke-width="0.85"/>
<path d="M213.30,454.78 H219.30 M213.30,467.82 H219.30 M216.30,454.78 V467.82" stroke="#3db34a" stroke-width="0.85" fill="none"/>
<line x1="209.30" y1="461.30" x2="223.30" y2="461.30" stroke="#1a1a1a" stroke-width="1.1"/>
<circle cx="233.50" cy="456.10" r="2.45" fill="none" stroke="#3db34a" stroke-width="0.85"/>
<circle cx="243.90" cy="457.00" r="2.45" fill="none" stroke="#3db34a" stroke-width="0.85"/>
<circle cx="238.70" cy="460.40" r="2.45" fill="none" stroke="#3db34a" stroke-width="0.85"/>
<circle cx="233.50" cy="464.80" r="2.45" fill="none" stroke="#3db34a" stroke-width="0.85"/>
<circle cx="239.60" cy="465.60" r="2.45" fill="none" stroke="#3db34a" stroke-width="0.85"/>
<circle cx="243.90" cy="465.60" r="2.45" fill="none" stroke="#3db34a" stroke-width="0.85"/>
<circle cx="233.50" cy="473.40" r="2.45" fill="none" stroke="#3db34a" stroke-width="0.85"/>
<circle cx="243.90" cy="469.10" r="2.45" fill="none" stroke="#3db34a" stroke-width="0.85"/>
<circle cx="238.70" cy="470.00" r="2.45" fill="none" stroke="#3db34a" stroke-width="0.85"/>
<path d="M235.40,458.41 H241.40 M235.40,470.19 H241.40 M238.40,458.41 V470.19" stroke="#3db34a" stroke-width="0.85" fill="none"/>
<line x1="231.40" y1="464.30" x2="245.40" y2="464.30" stroke="#1a1a1a" stroke-width="1.1"/>
<circle cx="260.40" cy="410.30" r="2.45" fill="none" stroke="#1f5c9e" stroke-width="0.85"/>
<circle cx="264.70" cy="415.50" r="2.45" fill="none" stroke="#1f5c9e" stroke-width="0.85"/>
<circle cx="260.40" cy="417.20" r="2.45" fill="none" stroke="#1f5c9e" stroke-width="0.85"/>
<circle cx="263.80" cy="421.50" r="2.45" fill="none" stroke="#1f5c9e" stroke-width="0.85"/>
<circle cx="257.80" cy="425.00" r="2.45" fill="none" stroke="#1f5c9e" stroke-width="0.85"/>
<circle cx="263.80" cy="426.70" r="2.45" fill="none" stroke="#1f5c9e" stroke-width="0.85"/>
<circle cx="255.20" cy="430.20" r="2.45" fill="none" stroke="#1f5c9e" stroke-width="0.85"/>
<circle cx="265.60" cy="430.20" r="2.45" fill="none" stroke="#1f5c9e" stroke-width="0.85"/>
<circle cx="256.90" cy="433.60" r="2.45" fill="none" stroke="#1f5c9e" stroke-width="0.85"/>
<circle cx="261.20" cy="435.40" r="2.45" fill="none" stroke="#1f5c9e" stroke-width="0.85"/>
<circle cx="255.20" cy="437.10" r="2.45" fill="none" stroke="#1f5c9e" stroke-width="0.85"/>
<circle cx="266.40" cy="438.80" r="2.45" fill="none" stroke="#1f5c9e" stroke-width="0.85"/>
<circle cx="257.80" cy="444.00" r="2.45" fill="none" stroke="#1f5c9e" stroke-width="0.85"/>
<circle cx="263.00" cy="446.60" r="2.45" fill="none" stroke="#1f5c9e" stroke-width="0.85"/>
<circle cx="260.40" cy="450.90" r="2.45" fill="none" stroke="#1f5c9e" stroke-width="0.85"/>
<circle cx="262.10" cy="453.50" r="2.45" fill="none" stroke="#1f5c9e" stroke-width="0.85"/>
<circle cx="258.60" cy="454.40" r="2.45" fill="none" stroke="#1f5c9e" stroke-width="0.85"/>
<circle cx="259.50" cy="462.20" r="2.45" fill="none" stroke="#1f5c9e" stroke-width="0.85"/>
<circle cx="261.20" cy="463.00" r="2.45" fill="none" stroke="#1f5c9e" stroke-width="0.85"/>
<path d="M257.10,420.06 H263.10 M257.10,451.34 H263.10 M260.10,420.06 V451.34" stroke="#1f5c9e" stroke-width="0.85" fill="none"/>
<line x1="253.10" y1="435.70" x2="267.10" y2="435.70" stroke="#1a1a1a" stroke-width="1.1"/>
<circle cx="277.70" cy="389.50" r="2.45" fill="none" stroke="#d42a44" stroke-width="0.85"/>
<circle cx="283.70" cy="391.20" r="2.45" fill="none" stroke="#d42a44" stroke-width="0.85"/>
<circle cx="288.00" cy="388.70" r="2.45" fill="none" stroke="#d42a44" stroke-width="0.85"/>
<circle cx="281.10" cy="394.70" r="2.45" fill="none" stroke="#d42a44" stroke-width="0.85"/>
<circle cx="281.10" cy="401.60" r="2.45" fill="none" stroke="#d42a44" stroke-width="0.85"/>
<circle cx="277.70" cy="407.70" r="2.45" fill="none" stroke="#d42a44" stroke-width="0.85"/>
<circle cx="288.00" cy="406.00" r="2.45" fill="none" stroke="#d42a44" stroke-width="0.85"/>
<circle cx="281.10" cy="412.00" r="2.45" fill="none" stroke="#d42a44" stroke-width="0.85"/>
<circle cx="284.60" cy="411.10" r="2.45" fill="none" stroke="#d42a44" stroke-width="0.85"/>
<circle cx="282.90" cy="418.10" r="2.45" fill="none" stroke="#d42a44" stroke-width="0.85"/>
<circle cx="279.40" cy="431.90" r="2.45" fill="none" stroke="#d42a44" stroke-width="0.85"/>
<circle cx="285.40" cy="431.90" r="2.45" fill="none" stroke="#d42a44" stroke-width="0.85"/>
<circle cx="282.90" cy="430.20" r="2.45" fill="none" stroke="#d42a44" stroke-width="0.85"/>
<path d="M279.90,393.65 H285.90 M279.90,425.15 H285.90 M282.90,393.65 V425.15" stroke="#d42a44" stroke-width="0.85" fill="none"/>
<line x1="275.90" y1="409.40" x2="289.90" y2="409.40" stroke="#1a1a1a" stroke-width="1.1"/>
<path d="M260.10,371.40 L260.10,368.10 L282.90,368.10 L282.90,371.40" fill="none" stroke="#3a78b8" stroke-width="1.2"/>
<circle cx="269.05" cy="364.70" r="0.95" fill="#3a78b8"/>
<circle cx="271.50" cy="364.70" r="0.95" fill="#3a78b8"/>
<circle cx="273.95" cy="364.70" r="0.95" fill="#3a78b8"/>
<path d="M238.40,383.90 L238.40,380.60 L282.90,380.60 L282.90,383.90" fill="none" stroke="#333" stroke-width="1.2"/>
<circle cx="258.20" cy="377.20" r="0.95" fill="#333"/>
<circle cx="260.65" cy="377.20" r="0.95" fill="#333"/>
<circle cx="263.10" cy="377.20" r="0.95" fill="#333"/>
<path d="M238.40,404.30 L238.40,401.00 L260.10,401.00 L260.10,404.30" fill="none" stroke="#333" stroke-width="1.2"/>
<circle cx="246.80" cy="397.60" r="0.95" fill="#333"/>
<circle cx="249.25" cy="397.60" r="0.95" fill="#333"/>
<circle cx="251.70" cy="397.60" r="0.95" fill="#333"/>
<text x="315.60" y="354.50" font-size="12.6" text-anchor="start" font-weight="bold" fill="#111" stroke="#111" stroke-width="0.55" stroke-linejoin="round">H</text>
<text x="432.6" y="354.1" font-size="9.3" text-anchor="middle" fill="#1e1e1e" textLength="57.2" lengthAdjust="spacingAndGlyphs">RBC Lifespan</text>
<line x1="358.7" y1="440.30" x2="503.1" y2="440.30" stroke="#9fb2c6" stroke-width="0.8" stroke-dasharray="2,1.6"/>
<line x1="358.7" y1="380.20" x2="358.7" y2="479.3" stroke="#2a2a2a" stroke-width="1.4"/>
<line x1="355.9" y1="478.7" x2="503.1" y2="478.7" stroke="#2a2a2a" stroke-width="1.4"/>
<line x1="355.7" y1="478.70" x2="358.7" y2="478.70" stroke="#2a2a2a" stroke-width="1"/>
<text x="351.10" y="481.30" font-size="7.2" text-anchor="end" font-weight="normal" fill="#333" >0</text>
<line x1="355.7" y1="459.50" x2="358.7" y2="459.50" stroke="#2a2a2a" stroke-width="1"/>
<text x="351.10" y="462.10" font-size="7.2" text-anchor="end" font-weight="normal" fill="#333" >25</text>
<line x1="355.7" y1="440.30" x2="358.7" y2="440.30" stroke="#2a2a2a" stroke-width="1"/>
<text x="351.10" y="442.90" font-size="7.2" text-anchor="end" font-weight="normal" fill="#333" >50</text>
<line x1="355.7" y1="421.10" x2="358.7" y2="421.10" stroke="#2a2a2a" stroke-width="1"/>
<text x="351.10" y="423.70" font-size="7.2" text-anchor="end" font-weight="normal" fill="#333" >75</text>
<line x1="355.7" y1="401.90" x2="358.7" y2="401.90" stroke="#2a2a2a" stroke-width="1"/>
<text x="351.10" y="404.50" font-size="7.2" text-anchor="end" font-weight="normal" fill="#333" >100</text>
<line x1="355.7" y1="382.70" x2="358.7" y2="382.70" stroke="#2a2a2a" stroke-width="1"/>
<text x="351.10" y="385.30" font-size="7.2" text-anchor="end" font-weight="normal" fill="#333" >125</text>
<line x1="358.70" y1="478.7" x2="358.70" y2="481.7" stroke="#2a2a2a" stroke-width="1.1"/>
<text x="358.70" y="492.00" font-size="7.2" text-anchor="middle" font-weight="normal" fill="#333" >0</text>
<line x1="382.60" y1="478.7" x2="382.60" y2="481.7" stroke="#2a2a2a" stroke-width="1.1"/>
<text x="382.60" y="492.00" font-size="7.2" text-anchor="middle" font-weight="normal" fill="#333" >5</text>
<line x1="406.50" y1="478.7" x2="406.50" y2="481.7" stroke="#2a2a2a" stroke-width="1.1"/>
<text x="406.50" y="492.00" font-size="7.2" text-anchor="middle" font-weight="normal" fill="#333" >10</text>
<line x1="430.40" y1="478.7" x2="430.40" y2="481.7" stroke="#2a2a2a" stroke-width="1.1"/>
<text x="430.40" y="492.00" font-size="7.2" text-anchor="middle" font-weight="normal" fill="#333" >15</text>
<line x1="454.30" y1="478.7" x2="454.30" y2="481.7" stroke="#2a2a2a" stroke-width="1.1"/>
<text x="454.30" y="492.00" font-size="7.2" text-anchor="middle" font-weight="normal" fill="#333" >20</text>
<line x1="478.20" y1="478.7" x2="478.20" y2="481.7" stroke="#2a2a2a" stroke-width="1.1"/>
<text x="478.20" y="492.00" font-size="7.2" text-anchor="middle" font-weight="normal" fill="#333" >25</text>
<line x1="502.10" y1="478.7" x2="502.10" y2="481.7" stroke="#2a2a2a" stroke-width="1.1"/>
<text x="502.10" y="492.00" font-size="7.2" text-anchor="middle" font-weight="normal" fill="#333" >30</text>
<text x="0" y="0" font-size="7.6" font-weight="bold" text-anchor="middle" fill="#262626" textLength="13.4" lengthAdjust="spacingAndGlyphs" transform="translate(430.7,505.5)">Days</text>
<text x="0" y="0" font-size="9.5" font-weight="bold" text-anchor="middle" fill="#262626" textLength="62" lengthAdjust="spacingAndGlyphs" transform="translate(334.4,431) rotate(-90)">Biotinylated RBC (%)</text>
<line x1="363.48" y1="398.83" x2="502.10" y2="449.52" stroke="#3db34a" stroke-width="1.2"/>
<line x1="363.48" y1="399.60" x2="502.10" y2="447.98" stroke="#3db34a" stroke-width="1.0"/>
<line x1="363.48" y1="404.97" x2="444.74" y2="468.72" stroke="#1f5c9e" stroke-width="1.0"/>
<line x1="363.48" y1="404.97" x2="396.94" y2="474.86" stroke="#d42a44" stroke-width="0.9"/>
<path d="M409.48,408.04 H413.08 M411.28,408.04 V420.33 M409.48,420.33 H413.08" stroke="#3db34a" stroke-width="0.8" fill="none"/>
<path d="M462.06,429.55 H465.66 M463.86,429.55 V438.76 M462.06,438.76 H465.66" stroke="#3db34a" stroke-width="0.8" fill="none"/>
<path d="M476.40,438.76 H480.00 M478.20,438.76 V444.91 M476.40,444.91 H480.00" stroke="#3db34a" stroke-width="0.8" fill="none"/>
<path d="M495.52,445.68 H499.12 M497.32,445.68 V451.82 M495.52,451.82 H499.12" stroke="#3db34a" stroke-width="0.8" fill="none"/>
<path d="M442.94,422.64 H446.54 M444.74,422.64 V427.24 M442.94,427.24 H446.54" stroke="#3db34a" stroke-width="0.8" fill="none"/>
<path d="M409.48,439.53 H413.08 M411.28,439.53 V451.82 M409.48,451.82 H413.08" stroke="#1f5c9e" stroke-width="0.8" fill="none"/>
<path d="M423.82,444.91 H427.42 M425.62,444.91 V464.88 M423.82,464.88 H427.42" stroke="#1f5c9e" stroke-width="0.8" fill="none"/>
<path d="M442.94,461.80 H446.54 M444.74,461.80 V469.48 M442.94,469.48 H446.54" stroke="#1f5c9e" stroke-width="0.8" fill="none"/>
<path d="M395.14,431.08 H398.74 M396.94,431.08 V437.23 M395.14,437.23 H398.74" stroke="#1f5c9e" stroke-width="0.8" fill="none"/>
<rect x="361.08" y="399.50" width="4.8" height="4.8" fill="#fff" fill-opacity="0" stroke="#3db34a" stroke-width="0.8"/>
<rect x="375.42" y="399.50" width="4.8" height="4.8" fill="#fff" fill-opacity="0" stroke="#3db34a" stroke-width="0.8"/>
<rect x="394.54" y="406.41" width="4.8" height="4.8" fill="#fff" fill-opacity="0" stroke="#3db34a" stroke-width="0.8"/>
<rect x="408.88" y="413.32" width="4.8" height="4.8" fill="#fff" fill-opacity="0" stroke="#3db34a" stroke-width="0.8"/>
<rect x="423.22" y="418.70" width="4.8" height="4.8" fill="#fff" fill-opacity="0" stroke="#3db34a" stroke-width="0.8"/>
<rect x="442.34" y="421.00" width="4.8" height="4.8" fill="#fff" fill-opacity="0" stroke="#3db34a" stroke-width="0.8"/>
<rect x="461.46" y="432.52" width="4.8" height="4.8" fill="#fff" fill-opacity="0" stroke="#3db34a" stroke-width="0.8"/>
<rect x="475.80" y="440.97" width="4.8" height="4.8" fill="#fff" fill-opacity="0" stroke="#3db34a" stroke-width="0.8"/>
<rect x="494.92" y="447.88" width="4.8" height="4.8" fill="#fff" fill-opacity="0" stroke="#3db34a" stroke-width="0.8"/>
<circle cx="363.48" cy="401.90" r="2.6" fill="none" stroke="#3db34a" stroke-width="0.9"/>
<circle cx="377.82" cy="401.90" r="2.6" fill="none" stroke="#3db34a" stroke-width="0.9"/>
<circle cx="396.94" cy="408.81" r="2.6" fill="none" stroke="#3db34a" stroke-width="0.9"/>
<circle cx="411.28" cy="414.19" r="2.6" fill="none" stroke="#3db34a" stroke-width="0.9"/>
<circle cx="425.62" cy="421.10" r="2.6" fill="none" stroke="#3db34a" stroke-width="0.9"/>
<circle cx="444.74" cy="425.71" r="2.6" fill="none" stroke="#3db34a" stroke-width="0.9"/>
<circle cx="463.86" cy="436.46" r="2.6" fill="none" stroke="#3db34a" stroke-width="0.9"/>
<circle cx="478.20" cy="442.60" r="2.6" fill="none" stroke="#3db34a" stroke-width="0.9"/>
<circle cx="497.32" cy="447.98" r="2.6" fill="none" stroke="#3db34a" stroke-width="0.9"/>
<circle cx="363.48" cy="401.90" r="2.6" fill="none" stroke="#1f5c9e" stroke-width="0.9"/>
<circle cx="377.82" cy="418.03" r="2.6" fill="none" stroke="#1f5c9e" stroke-width="0.9"/>
<circle cx="396.94" cy="434.16" r="2.6" fill="none" stroke="#1f5c9e" stroke-width="0.9"/>
<circle cx="411.28" cy="445.68" r="2.6" fill="none" stroke="#1f5c9e" stroke-width="0.9"/>
<circle cx="425.62" cy="454.89" r="2.6" fill="none" stroke="#1f5c9e" stroke-width="0.9"/>
<circle cx="444.74" cy="465.64" r="2.6" fill="none" stroke="#1f5c9e" stroke-width="0.9"/>
<circle cx="377.82" cy="445.68" r="2.6" fill="none" stroke="#d42a44" stroke-width="0.9"/>
<circle cx="396.94" cy="473.32" r="2.6" fill="none" stroke="#d42a44" stroke-width="0.9"/>
<line x1="463.8" y1="375.9" x2="479.5" y2="375.9" stroke="#3db34a" stroke-width="1"/>
<rect x="468.6" y="373.2" width="5.4" height="5.4" fill="#fff" stroke="#3db34a" stroke-width="0.9"/>
<text x="483.80" y="378.60" font-size="7.7" text-anchor="start" font-weight="normal" fill="#222" >C57BL/6</text>
<line x1="463.8" y1="386.9" x2="479.5" y2="386.9" stroke="#3db34a" stroke-width="1"/>
<circle cx="471.3" cy="386.9" r="2.8" fill="#fff" stroke="#3db34a" stroke-width="0.9"/>
<text x="483.80" y="389.60" font-size="7.7" text-anchor="start" font-weight="normal" fill="#222" >HbAA</text>
<line x1="463.8" y1="397.9" x2="479.5" y2="397.9" stroke="#1f5c9e" stroke-width="1"/>
<circle cx="471.3" cy="397.9" r="2.8" fill="#fff" stroke="#1f5c9e" stroke-width="0.9"/>
<text x="483.80" y="400.60" font-size="7.7" text-anchor="start" font-weight="normal" fill="#222" >HbSC</text>
<line x1="463.8" y1="408.9" x2="479.5" y2="408.9" stroke="#d42a44" stroke-width="1"/>
<circle cx="471.3" cy="408.9" r="2.8" fill="#fff" stroke="#d42a44" stroke-width="0.9"/>
<text x="483.80" y="411.60" font-size="7.7" text-anchor="start" font-weight="normal" fill="#222" >HbSS</text>
<text x="57.90" y="538.60" font-size="12.3" text-anchor="start" font-weight="bold" fill="#111" stroke="#111" stroke-width="0.55" stroke-linejoin="round">I</text>
<defs><filter id="soft" x="-5%" y="-5%" width="110%" height="110%"><feGaussianBlur stdDeviation="0.55"/></filter><filter id="soft2" x="-5%" y="-5%" width="110%" height="110%"><feGaussianBlur stdDeviation="0.75"/></filter></defs>
<clipPath id="c1"><rect x="65" y="545" width="121.30000000000001" height="91.29999999999995"/></clipPath>
<rect x="65" y="545" width="121.30000000000001" height="91.29999999999995" fill="#fcf6f9"/>
<g clip-path="url(#c1)"><g filter="url(#soft)">
<ellipse cx="78.9" cy="548.8" rx="2.84" ry="2.49" transform="rotate(31 78.9 548.8)" fill="#f0a0c5" stroke="#e57eae" stroke-width="1.3"/>
<ellipse cx="93.8" cy="549.4" rx="3.15" ry="2.98" transform="rotate(94 93.8 549.4)" fill="#f0a0c5" stroke="#e57eae" stroke-width="1.3"/>
<ellipse cx="103.3" cy="547.6" rx="3.11" ry="3.01" transform="rotate(133 103.3 547.6)" fill="#f0a0c5" stroke="#e57eae" stroke-width="1.3"/>
<ellipse cx="111.1" cy="547.6" rx="3.07" ry="2.67" transform="rotate(21 111.1 547.6)" fill="#f0a0c5" stroke="#e57eae" stroke-width="1.3"/>
<ellipse cx="118.8" cy="547.0" rx="2.79" ry="2.30" transform="rotate(76 118.8 547.0)" fill="#f0a0c5" stroke="#e57eae" stroke-width="1.3"/>
<ellipse cx="68.8" cy="552.3" rx="3.09" ry="2.79" transform="rotate(150 68.8 552.3)" fill="#f0a0c5" stroke="#e57eae" stroke-width="1.3"/>
<ellipse cx="87.8" cy="554.1" rx="3.29" ry="3.26" transform="rotate(169 87.8 554.1)" fill="#f0a0c5" stroke="#e57eae" stroke-width="1.3"/>
<ellipse cx="116.4" cy="553.5" rx="3.21" ry="2.64" transform="rotate(112 116.4 553.5)" fill="#f0a0c5" stroke="#e57eae" stroke-width="1.3"/>
<ellipse cx="123.6" cy="557.1" rx="3.37" ry="2.88" transform="rotate(133 123.6 557.1)" fill="#f0a0c5" stroke="#e57eae" stroke-width="1.3"/>
<ellipse cx="106.9" cy="556.5" rx="3.20" ry="2.67" transform="rotate(27 106.9 556.5)" fill="#f0a0c5" stroke="#e57eae" stroke-width="1.3"/>
<ellipse cx="72.9" cy="560.1" rx="3.03" ry="2.65" transform="rotate(124 72.9 560.1)" fill="#f0a0c5" stroke="#e57eae" stroke-width="1.3"/>
<ellipse cx="83.1" cy="558.9" rx="2.76" ry="2.54" transform="rotate(67 83.1 558.9)" fill="#f0a0c5" stroke="#e57eae" stroke-width="1.3"/>
<ellipse cx="95.6" cy="562.5" rx="3.39" ry="3.11" transform="rotate(138 95.6 562.5)" fill="#f0a0c5" stroke="#e57eae" stroke-width="1.3"/>
<ellipse cx="103.9" cy="560.7" rx="3.28" ry="3.04" transform="rotate(38 103.9 560.7)" fill="#f0a0c5" stroke="#e57eae" stroke-width="1.3"/>
<ellipse cx="115.3" cy="561.3" rx="2.79" ry="2.59" transform="rotate(99 115.3 561.3)" fill="#f0a0c5" stroke="#e57eae" stroke-width="1.3"/>
<ellipse cx="67.6" cy="566.6" rx="2.88" ry="2.63" transform="rotate(108 67.6 566.6)" fill="#f0a0c5" stroke="#e57eae" stroke-width="1.3"/>
<ellipse cx="78.9" cy="565.5" rx="2.84" ry="2.64" transform="rotate(21 78.9 565.5)" fill="#f0a0c5" stroke="#e57eae" stroke-width="1.3"/>
<ellipse cx="124.2" cy="566.6" rx="2.77" ry="2.74" transform="rotate(53 124.2 566.6)" fill="#f0a0c5" stroke="#e57eae" stroke-width="1.3"/>
<ellipse cx="95.0" cy="570.2" rx="2.84" ry="2.73" transform="rotate(7 95.0 570.2)" fill="#f0a0c5" stroke="#e57eae" stroke-width="1.3"/>
<ellipse cx="111.7" cy="572.6" rx="2.87" ry="2.44" transform="rotate(120 111.7 572.6)" fill="#f0a0c5" stroke="#e57eae" stroke-width="1.3"/>
<ellipse cx="77.7" cy="574.4" rx="3.18" ry="2.67" transform="rotate(5 77.7 574.4)" fill="#f0a0c5" stroke="#e57eae" stroke-width="1.3"/>
<ellipse cx="102.1" cy="573.8" rx="3.30" ry="2.77" transform="rotate(83 102.1 573.8)" fill="#f0a0c5" stroke="#e57eae" stroke-width="1.3"/>
<ellipse cx="89.0" cy="576.2" rx="2.77" ry="2.54" transform="rotate(34 89.0 576.2)" fill="#f0a0c5" stroke="#e57eae" stroke-width="1.3"/>
<ellipse cx="119.4" cy="575.6" rx="2.78" ry="2.75" transform="rotate(82 119.4 575.6)" fill="#f0a0c5" stroke="#e57eae" stroke-width="1.3"/>
<ellipse cx="71.2" cy="579.8" rx="2.82" ry="2.40" transform="rotate(127 71.2 579.8)" fill="#f0a0c5" stroke="#e57eae" stroke-width="1.3"/>
<ellipse cx="83.1" cy="580.4" rx="3.14" ry="3.12" transform="rotate(28 83.1 580.4)" fill="#f0a0c5" stroke="#e57eae" stroke-width="1.3"/>
<ellipse cx="96.2" cy="580.4" rx="3.39" ry="3.10" transform="rotate(70 96.2 580.4)" fill="#f0a0c5" stroke="#e57eae" stroke-width="1.3"/>
<ellipse cx="111.1" cy="580.4" rx="3.04" ry="2.97" transform="rotate(26 111.1 580.4)" fill="#f0a0c5" stroke="#e57eae" stroke-width="1.3"/>
<ellipse cx="122.4" cy="582.1" rx="3.41" ry="3.24" transform="rotate(128 122.4 582.1)" fill="#f0a0c5" stroke="#e57eae" stroke-width="1.3"/>
<ellipse cx="68.8" cy="584.5" rx="3.18" ry="2.92" transform="rotate(92 68.8 584.5)" fill="#f0a0c5" stroke="#e57eae" stroke-width="1.3"/>
<ellipse cx="87.8" cy="586.9" rx="3.07" ry="2.96" transform="rotate(65 87.8 586.9)" fill="#f0a0c5" stroke="#e57eae" stroke-width="1.3"/>
<ellipse cx="103.3" cy="584.5" rx="3.33" ry="3.17" transform="rotate(155 103.3 584.5)" fill="#f0a0c5" stroke="#e57eae" stroke-width="1.3"/>
<ellipse cx="115.3" cy="586.9" rx="3.31" ry="3.20" transform="rotate(115 115.3 586.9)" fill="#f0a0c5" stroke="#e57eae" stroke-width="1.3"/>
<ellipse cx="126.8" cy="552.3" rx="2.87" ry="2.49" transform="rotate(51 126.8 552.3)" fill="#f0a0c5" stroke="#e57eae" stroke-width="1.3"/>
<ellipse cx="135.1" cy="550.0" rx="3.03" ry="2.58" transform="rotate(66 135.1 550.0)" fill="#f0a0c5" stroke="#e57eae" stroke-width="1.3"/>
<ellipse cx="139.9" cy="550.6" rx="2.77" ry="2.55" transform="rotate(150 139.9 550.6)" fill="#f0a0c5" stroke="#e57eae" stroke-width="1.3"/>
<ellipse cx="148.8" cy="551.2" rx="2.84" ry="2.39" transform="rotate(101 148.8 551.2)" fill="#f0a0c5" stroke="#e57eae" stroke-width="1.3"/>
<ellipse cx="159.0" cy="548.8" rx="3.42" ry="3.05" transform="rotate(47 159.0 548.8)" fill="#f0a0c5" stroke="#e57eae" stroke-width="1.3"/>
<ellipse cx="165.5" cy="549.4" rx="3.11" ry="2.97" transform="rotate(36 165.5 549.4)" fill="#f0a0c5" stroke="#e57eae" stroke-width="1.3"/>
<ellipse cx="172.7" cy="550.0" rx="3.29" ry="2.98" transform="rotate(29 172.7 550.0)" fill="#f0a0c5" stroke="#e57eae" stroke-width="1.3"/>
<ellipse cx="182.2" cy="547.6" rx="3.04" ry="2.85" transform="rotate(134 182.2 547.6)" fill="#f0a0c5" stroke="#e57eae" stroke-width="1.3"/>
<ellipse cx="139.3" cy="558.3" rx="3.33" ry="2.88" transform="rotate(137 139.3 558.3)" fill="#f0a0c5" stroke="#e57eae" stroke-width="1.3"/>
<ellipse cx="144.7" cy="557.7" rx="2.94" ry="2.63" transform="rotate(132 144.7 557.7)" fill="#f0a0c5" stroke="#e57eae" stroke-width="1.3"/>
<ellipse cx="157.8" cy="557.1" rx="3.29" ry="3.17" transform="rotate(63 157.8 557.1)" fill="#f0a0c5" stroke="#e57eae" stroke-width="1.3"/>
<ellipse cx="166.1" cy="554.7" rx="2.83" ry="2.66" transform="rotate(37 166.1 554.7)" fill="#f0a0c5" stroke="#e57eae" stroke-width="1.3"/>
<ellipse cx="172.7" cy="558.3" rx="2.85" ry="2.51" transform="rotate(72 172.7 558.3)" fill="#f0a0c5" stroke="#e57eae" stroke-width="1.3"/>
<ellipse cx="181.0" cy="555.3" rx="2.95" ry="2.55" transform="rotate(79 181.0 555.3)" fill="#f0a0c5" stroke="#e57eae" stroke-width="1.3"/>
<ellipse cx="133.9" cy="563.1" rx="2.76" ry="2.45" transform="rotate(121 133.9 563.1)" fill="#f0a0c5" stroke="#e57eae" stroke-width="1.3"/>
<ellipse cx="151.8" cy="561.9" rx="3.18" ry="3.11" transform="rotate(79 151.8 561.9)" fill="#f0a0c5" stroke="#e57eae" stroke-width="1.3"/>
<ellipse cx="164.3" cy="563.1" rx="2.83" ry="2.72" transform="rotate(161 164.3 563.1)" fill="#f0a0c5" stroke="#e57eae" stroke-width="1.3"/>
<ellipse cx="181.0" cy="561.3" rx="3.12" ry="2.61" transform="rotate(10 181.0 561.3)" fill="#f0a0c5" stroke="#e57eae" stroke-width="1.3"/>
<ellipse cx="126.8" cy="566.6" rx="3.40" ry="3.03" transform="rotate(38 126.8 566.6)" fill="#f0a0c5" stroke="#e57eae" stroke-width="1.3"/>
<ellipse cx="145.9" cy="567.2" rx="3.33" ry="3.32" transform="rotate(107 145.9 567.2)" fill="#f0a0c5" stroke="#e57eae" stroke-width="1.3"/>
<ellipse cx="157.2" cy="567.8" rx="2.98" ry="2.89" transform="rotate(172 157.2 567.8)" fill="#f0a0c5" stroke="#e57eae" stroke-width="1.3"/>
<ellipse cx="179.8" cy="570.8" rx="2.81" ry="2.64" transform="rotate(47 179.8 570.8)" fill="#f0a0c5" stroke="#e57eae" stroke-width="1.3"/>
<ellipse cx="142.9" cy="574.4" rx="2.79" ry="2.53" transform="rotate(20 142.9 574.4)" fill="#f0a0c5" stroke="#e57eae" stroke-width="1.3"/>
<ellipse cx="151.8" cy="573.8" rx="3.40" ry="3.17" transform="rotate(54 151.8 573.8)" fill="#f0a0c5" stroke="#e57eae" stroke-width="1.3"/>
<ellipse cx="127.4" cy="576.2" rx="3.18" ry="2.81" transform="rotate(148 127.4 576.2)" fill="#f0a0c5" stroke="#e57eae" stroke-width="1.3"/>
<ellipse cx="135.7" cy="578.0" rx="2.94" ry="2.65" transform="rotate(110 135.7 578.0)" fill="#f0a0c5" stroke="#e57eae" stroke-width="1.3"/>
<ellipse cx="154.2" cy="582.1" rx="3.23" ry="3.19" transform="rotate(107 154.2 582.1)" fill="#f0a0c5" stroke="#e57eae" stroke-width="1.3"/>
<ellipse cx="144.1" cy="583.3" rx="3.09" ry="2.89" transform="rotate(34 144.1 583.3)" fill="#f0a0c5" stroke="#e57eae" stroke-width="1.3"/>
<ellipse cx="179.2" cy="583.3" rx="2.86" ry="2.51" transform="rotate(66 179.2 583.3)" fill="#f0a0c5" stroke="#e57eae" stroke-width="1.3"/>
<ellipse cx="176.3" cy="586.3" rx="3.29" ry="2.79" transform="rotate(85 176.3 586.3)" fill="#f0a0c5" stroke="#e57eae" stroke-width="1.3"/>
<ellipse cx="127.4" cy="583.3" rx="2.85" ry="2.77" transform="rotate(52 127.4 583.3)" fill="#f0a0c5" stroke="#e57eae" stroke-width="1.3"/>
<ellipse cx="132.2" cy="585.7" rx="3.38" ry="2.81" transform="rotate(138 132.2 585.7)" fill="#f0a0c5" stroke="#e57eae" stroke-width="1.3"/>
<ellipse cx="69.4" cy="596.6" rx="2.80" ry="2.63" transform="rotate(139 69.4 596.6)" fill="#f0a0c5" stroke="#e57eae" stroke-width="1.3"/>
<ellipse cx="77.1" cy="593.6" rx="3.41" ry="3.04" transform="rotate(59 77.1 593.6)" fill="#f0a0c5" stroke="#e57eae" stroke-width="1.3"/>
<ellipse cx="78.3" cy="597.7" rx="3.38" ry="2.87" transform="rotate(166 78.3 597.7)" fill="#f0a0c5" stroke="#e57eae" stroke-width="1.3"/>
<ellipse cx="86.0" cy="597.7" rx="3.04" ry="2.87" transform="rotate(12 86.0 597.7)" fill="#f0a0c5" stroke="#e57eae" stroke-width="1.3"/>
<ellipse cx="83.7" cy="600.7" rx="3.22" ry="2.81" transform="rotate(29 83.7 600.7)" fill="#f0a0c5" stroke="#e57eae" stroke-width="1.3"/>
<ellipse cx="94.4" cy="600.1" rx="3.09" ry="2.77" transform="rotate(89 94.4 600.1)" fill="#f0a0c5" stroke="#e57eae" stroke-width="1.3"/>
<ellipse cx="102.1" cy="598.3" rx="3.29" ry="3.19" transform="rotate(129 102.1 598.3)" fill="#f0a0c5" stroke="#e57eae" stroke-width="1.3"/>
<ellipse cx="110.5" cy="596.0" rx="2.90" ry="2.75" transform="rotate(30 110.5 596.0)" fill="#f0a0c5" stroke="#e57eae" stroke-width="1.3"/>
<ellipse cx="117.6" cy="593.0" rx="2.81" ry="2.53" transform="rotate(61 117.6 593.0)" fill="#f0a0c5" stroke="#e57eae" stroke-width="1.3"/>
<ellipse cx="123.6" cy="603.1" rx="3.31" ry="2.80" transform="rotate(34 123.6 603.1)" fill="#f0a0c5" stroke="#e57eae" stroke-width="1.3"/>
<ellipse cx="69.4" cy="607.9" rx="2.97" ry="2.70" transform="rotate(84 69.4 607.9)" fill="#f0a0c5" stroke="#e57eae" stroke-width="1.3"/>
<ellipse cx="74.7" cy="606.7" rx="2.89" ry="2.53" transform="rotate(77 74.7 606.7)" fill="#f0a0c5" stroke="#e57eae" stroke-width="1.3"/>
<ellipse cx="83.7" cy="609.1" rx="3.27" ry="2.74" transform="rotate(77 83.7 609.1)" fill="#f0a0c5" stroke="#e57eae" stroke-width="1.3"/>
<ellipse cx="95.6" cy="609.7" rx="3.30" ry="3.20" transform="rotate(63 95.6 609.7)" fill="#f0a0c5" stroke="#e57eae" stroke-width="1.3"/>
<ellipse cx="106.3" cy="610.9" rx="2.88" ry="2.65" transform="rotate(129 106.3 610.9)" fill="#f0a0c5" stroke="#e57eae" stroke-width="1.3"/>
<ellipse cx="111.7" cy="604.3" rx="3.35" ry="3.23" transform="rotate(169 111.7 604.3)" fill="#f0a0c5" stroke="#e57eae" stroke-width="1.3"/>
<ellipse cx="119.4" cy="607.9" rx="3.33" ry="3.22" transform="rotate(173 119.4 607.9)" fill="#f0a0c5" stroke="#e57eae" stroke-width="1.3"/>
<ellipse cx="67.6" cy="615.0" rx="3.06" ry="2.70" transform="rotate(98 67.6 615.0)" fill="#f0a0c5" stroke="#e57eae" stroke-width="1.3"/>
<ellipse cx="77.1" cy="618.0" rx="3.37" ry="3.12" transform="rotate(117 77.1 618.0)" fill="#f0a0c5" stroke="#e57eae" stroke-width="1.3"/>
<ellipse cx="86.0" cy="616.8" rx="3.30" ry="2.78" transform="rotate(152 86.0 616.8)" fill="#f0a0c5" stroke="#e57eae" stroke-width="1.3"/>
<ellipse cx="89.0" cy="612.6" rx="2.87" ry="2.34" transform="rotate(163 89.0 612.6)" fill="#f0a0c5" stroke="#e57eae" stroke-width="1.3"/>
<ellipse cx="94.4" cy="620.4" rx="2.77" ry="2.50" transform="rotate(37 94.4 620.4)" fill="#f0a0c5" stroke="#e57eae" stroke-width="1.3"/>
<ellipse cx="101.5" cy="621.0" rx="2.88" ry="2.77" transform="rotate(86 101.5 621.0)" fill="#f0a0c5" stroke="#e57eae" stroke-width="1.3"/>
<ellipse cx="108.7" cy="619.2" rx="2.83" ry="2.79" transform="rotate(38 108.7 619.2)" fill="#f0a0c5" stroke="#e57eae" stroke-width="1.3"/>
<ellipse cx="114.7" cy="614.4" rx="2.94" ry="2.89" transform="rotate(131 114.7 614.4)" fill="#f0a0c5" stroke="#e57eae" stroke-width="1.3"/>
<ellipse cx="121.2" cy="615.6" rx="2.97" ry="2.51" transform="rotate(149 121.2 615.6)" fill="#f0a0c5" stroke="#e57eae" stroke-width="1.3"/>
<ellipse cx="66.4" cy="622.2" rx="2.88" ry="2.79" transform="rotate(164 66.4 622.2)" fill="#f0a0c5" stroke="#e57eae" stroke-width="1.3"/>
<ellipse cx="114.7" cy="624.0" rx="3.29" ry="3.21" transform="rotate(173 114.7 624.0)" fill="#f0a0c5" stroke="#e57eae" stroke-width="1.3"/>
<ellipse cx="122.4" cy="623.4" rx="2.80" ry="2.67" transform="rotate(79 122.4 623.4)" fill="#f0a0c5" stroke="#e57eae" stroke-width="1.3"/>
<ellipse cx="109.9" cy="629.3" rx="2.97" ry="2.77" transform="rotate(22 109.9 629.3)" fill="#f0a0c5" stroke="#e57eae" stroke-width="1.3"/>
<ellipse cx="75.3" cy="625.8" rx="3.06" ry="2.56" transform="rotate(172 75.3 625.8)" fill="#f0a0c5" stroke="#e57eae" stroke-width="1.3"/>
<ellipse cx="85.5" cy="626.4" rx="3.17" ry="3.03" transform="rotate(145 85.5 626.4)" fill="#f0a0c5" stroke="#e57eae" stroke-width="1.3"/>
<ellipse cx="123.6" cy="630.5" rx="3.04" ry="2.82" transform="rotate(166 123.6 630.5)" fill="#f0a0c5" stroke="#e57eae" stroke-width="1.3"/>
<ellipse cx="128.0" cy="592.4" rx="3.24" ry="3.23" transform="rotate(135 128.0 592.4)" fill="#f0a0c5" stroke="#e57eae" stroke-width="1.3"/>
<ellipse cx="135.7" cy="592.4" rx="3.02" ry="2.60" transform="rotate(35 135.7 592.4)" fill="#f0a0c5" stroke="#e57eae" stroke-width="1.3"/>
<ellipse cx="144.7" cy="591.8" rx="2.96" ry="2.71" transform="rotate(145 144.7 591.8)" fill="#f0a0c5" stroke="#e57eae" stroke-width="1.3"/>
<ellipse cx="150.6" cy="591.8" rx="3.00" ry="2.97" transform="rotate(146 150.6 591.8)" fill="#f0a0c5" stroke="#e57eae" stroke-width="1.3"/>
<ellipse cx="162.0" cy="591.8" rx="3.27" ry="3.10" transform="rotate(114 162.0 591.8)" fill="#f0a0c5" stroke="#e57eae" stroke-width="1.3"/>
<ellipse cx="130.4" cy="598.9" rx="2.83" ry="2.42" transform="rotate(157 130.4 598.9)" fill="#f0a0c5" stroke="#e57eae" stroke-width="1.3"/>
<ellipse cx="141.7" cy="598.3" rx="3.14" ry="2.91" transform="rotate(139 141.7 598.3)" fill="#f0a0c5" stroke="#e57eae" stroke-width="1.3"/>
<ellipse cx="147.0" cy="603.1" rx="2.75" ry="2.52" transform="rotate(33 147.0 603.1)" fill="#f0a0c5" stroke="#e57eae" stroke-width="1.3"/>
<ellipse cx="144.1" cy="604.9" rx="2.95" ry="2.82" transform="rotate(45 144.1 604.9)" fill="#f0a0c5" stroke="#e57eae" stroke-width="1.3"/>
<ellipse cx="158.4" cy="606.1" rx="3.22" ry="3.13" transform="rotate(146 158.4 606.1)" fill="#f0a0c5" stroke="#e57eae" stroke-width="1.3"/>
<ellipse cx="136.3" cy="608.5" rx="3.10" ry="2.87" transform="rotate(58 136.3 608.5)" fill="#f0a0c5" stroke="#e57eae" stroke-width="1.3"/>
<ellipse cx="126.8" cy="603.7" rx="3.16" ry="2.92" transform="rotate(49 126.8 603.7)" fill="#f0a0c5" stroke="#e57eae" stroke-width="1.3"/>
<ellipse cx="173.9" cy="596.0" rx="2.88" ry="2.51" transform="rotate(153 173.9 596.0)" fill="#f0a0c5" stroke="#e57eae" stroke-width="1.3"/>
<ellipse cx="181.0" cy="598.3" rx="3.39" ry="3.35" transform="rotate(134 181.0 598.3)" fill="#f0a0c5" stroke="#e57eae" stroke-width="1.3"/>
<ellipse cx="178.0" cy="603.7" rx="2.91" ry="2.87" transform="rotate(99 178.0 603.7)" fill="#f0a0c5" stroke="#e57eae" stroke-width="1.3"/>
<ellipse cx="151.2" cy="610.3" rx="2.85" ry="2.34" transform="rotate(119 151.2 610.3)" fill="#f0a0c5" stroke="#e57eae" stroke-width="1.3"/>
<ellipse cx="166.1" cy="613.2" rx="3.33" ry="3.07" transform="rotate(30 166.1 613.2)" fill="#f0a0c5" stroke="#e57eae" stroke-width="1.3"/>
<ellipse cx="129.8" cy="615.0" rx="2.97" ry="2.50" transform="rotate(13 129.8 615.0)" fill="#f0a0c5" stroke="#e57eae" stroke-width="1.3"/>
<ellipse cx="138.1" cy="615.6" rx="3.16" ry="2.67" transform="rotate(170 138.1 615.6)" fill="#f0a0c5" stroke="#e57eae" stroke-width="1.3"/>
<ellipse cx="142.9" cy="613.8" rx="3.25" ry="3.00" transform="rotate(151 142.9 613.8)" fill="#f0a0c5" stroke="#e57eae" stroke-width="1.3"/>
<ellipse cx="152.4" cy="618.0" rx="3.37" ry="3.03" transform="rotate(59 152.4 618.0)" fill="#f0a0c5" stroke="#e57eae" stroke-width="1.3"/>
<ellipse cx="159.6" cy="616.8" rx="2.84" ry="2.33" transform="rotate(4 159.6 616.8)" fill="#f0a0c5" stroke="#e57eae" stroke-width="1.3"/>
<ellipse cx="166.1" cy="618.0" rx="3.14" ry="3.04" transform="rotate(72 166.1 618.0)" fill="#f0a0c5" stroke="#e57eae" stroke-width="1.3"/>
<ellipse cx="173.9" cy="619.8" rx="2.98" ry="2.63" transform="rotate(126 173.9 619.8)" fill="#f0a0c5" stroke="#e57eae" stroke-width="1.3"/>
<ellipse cx="128.0" cy="621.6" rx="3.03" ry="2.57" transform="rotate(139 128.0 621.6)" fill="#f0a0c5" stroke="#e57eae" stroke-width="1.3"/>
<ellipse cx="139.3" cy="623.4" rx="3.01" ry="2.80" transform="rotate(20 139.3 623.4)" fill="#f0a0c5" stroke="#e57eae" stroke-width="1.3"/>
<ellipse cx="144.7" cy="621.6" rx="2.88" ry="2.60" transform="rotate(18 144.7 621.6)" fill="#f0a0c5" stroke="#e57eae" stroke-width="1.3"/>
<ellipse cx="149.4" cy="625.8" rx="3.20" ry="2.78" transform="rotate(27 149.4 625.8)" fill="#f0a0c5" stroke="#e57eae" stroke-width="1.3"/>
<ellipse cx="156.0" cy="626.4" rx="2.98" ry="2.73" transform="rotate(152 156.0 626.4)" fill="#f0a0c5" stroke="#e57eae" stroke-width="1.3"/>
<ellipse cx="169.7" cy="626.4" rx="3.21" ry="2.79" transform="rotate(75 169.7 626.4)" fill="#f0a0c5" stroke="#e57eae" stroke-width="1.3"/>
<ellipse cx="132.2" cy="631.7" rx="3.00" ry="2.80" transform="rotate(127 132.2 631.7)" fill="#f0a0c5" stroke="#e57eae" stroke-width="1.3"/>
<ellipse cx="126.2" cy="630.5" rx="3.38" ry="3.01" transform="rotate(147 126.2 630.5)" fill="#f0a0c5" stroke="#e57eae" stroke-width="1.3"/>
<ellipse cx="148.8" cy="633.5" rx="2.99" ry="2.50" transform="rotate(175 148.8 633.5)" fill="#f0a0c5" stroke="#e57eae" stroke-width="1.3"/>
<ellipse cx="163.1" cy="630.5" rx="2.87" ry="2.75" transform="rotate(83 163.1 630.5)" fill="#f0a0c5" stroke="#e57eae" stroke-width="1.3"/>
</g></g>
<clipPath id="c2"><rect x="187.6" y="545" width="118.9" height="91.29999999999995"/></clipPath>
<rect x="187.6" y="545" width="118.9" height="91.29999999999995" fill="#fcf6f9"/>
<g clip-path="url(#c2)"><g filter="url(#soft)">
<ellipse cx="196.7" cy="550.0" rx="3.43" ry="3.22" transform="rotate(77 196.7 550.0)" fill="#e77aa9"/><circle cx="196.7" cy="550.0" r="1.78" fill="#f4b4cf"/>
<ellipse cx="202.1" cy="555.9" rx="3.52" ry="3.01" transform="rotate(134 202.1 555.9)" fill="#e77aa9"/><circle cx="202.1" cy="555.9" r="1.83" fill="#f4b4cf"/>
<ellipse cx="188.4" cy="560.7" rx="3.92" ry="3.50" transform="rotate(144 188.4 560.7)" fill="#e77aa9"/><circle cx="188.4" cy="560.7" r="2.04" fill="#f4b4cf"/>
<ellipse cx="198.5" cy="566.6" rx="3.92" ry="3.76" transform="rotate(90 198.5 566.6)" fill="#f09cc2"/><circle cx="198.5" cy="566.6" r="1.96" fill="#f5b8d2"/>
<ellipse cx="208.0" cy="563.1" rx="3.37" ry="3.28" transform="rotate(70 208.0 563.1)" fill="#e77aa9"/><circle cx="208.0" cy="563.1" r="1.75" fill="#f4b4cf"/>
<ellipse cx="215.2" cy="569.0" rx="3.31" ry="2.90" transform="rotate(105 215.2 569.0)" fill="#e77aa9"/><circle cx="215.2" cy="569.0" r="1.72" fill="#f4b4cf"/>
<ellipse cx="220.6" cy="550.0" rx="3.45" ry="3.25" transform="rotate(29 220.6 550.0)" fill="#f09cc2"/><circle cx="220.6" cy="550.0" r="1.73" fill="#f5b8d2"/>
<ellipse cx="227.1" cy="552.3" rx="3.60" ry="3.21" transform="rotate(94 227.1 552.3)" fill="#e77aa9"/><circle cx="227.1" cy="552.3" r="1.87" fill="#f4b4cf"/>
<ellipse cx="234.9" cy="554.1" rx="3.46" ry="3.33" transform="rotate(170 234.9 554.1)" fill="#e77aa9"/><circle cx="234.9" cy="554.1" r="1.80" fill="#f4b4cf"/>
<ellipse cx="240.2" cy="559.5" rx="3.92" ry="3.37" transform="rotate(174 240.2 559.5)" fill="#e77aa9"/><circle cx="240.2" cy="559.5" r="2.04" fill="#f4b4cf"/>
<ellipse cx="223.5" cy="564.9" rx="3.49" ry="3.43" transform="rotate(117 223.5 564.9)" fill="#e77aa9"/><circle cx="223.5" cy="564.9" r="1.81" fill="#f4b4cf"/>
<ellipse cx="230.1" cy="565.5" rx="3.42" ry="3.32" transform="rotate(127 230.1 565.5)" fill="#e77aa9"/><circle cx="230.1" cy="565.5" r="1.78" fill="#f4b4cf"/>
<ellipse cx="236.7" cy="566.0" rx="3.71" ry="3.70" transform="rotate(153 236.7 566.0)" fill="#e77aa9"/><circle cx="236.7" cy="566.0" r="1.93" fill="#f4b4cf"/>
<ellipse cx="227.7" cy="575.6" rx="3.38" ry="3.12" transform="rotate(44 227.7 575.6)" fill="#e77aa9"/><circle cx="227.7" cy="575.6" r="1.76" fill="#f4b4cf"/>
<ellipse cx="244.4" cy="573.8" rx="3.68" ry="3.13" transform="rotate(161 244.4 573.8)" fill="#e77aa9"/><circle cx="244.4" cy="573.8" r="1.91" fill="#f4b4cf"/>
<ellipse cx="197.3" cy="579.2" rx="3.52" ry="3.48" transform="rotate(121 197.3 579.2)" fill="#e77aa9"/><circle cx="197.3" cy="579.2" r="1.83" fill="#f4b4cf"/>
<ellipse cx="202.7" cy="583.9" rx="3.64" ry="3.31" transform="rotate(164 202.7 583.9)" fill="#e77aa9"/><circle cx="202.7" cy="583.9" r="1.89" fill="#f4b4cf"/>
<ellipse cx="221.8" cy="581.0" rx="3.49" ry="3.48" transform="rotate(108 221.8 581.0)" fill="#e77aa9"/><circle cx="221.8" cy="581.0" r="1.81" fill="#f4b4cf"/>
<ellipse cx="237.8" cy="581.5" rx="3.65" ry="3.34" transform="rotate(64 237.8 581.5)" fill="#e77aa9"/><circle cx="237.8" cy="581.5" r="1.90" fill="#f4b4cf"/>
<ellipse cx="225.3" cy="588.1" rx="3.67" ry="3.56" transform="rotate(109 225.3 588.1)" fill="#e77aa9"/><circle cx="225.3" cy="588.1" r="1.91" fill="#f4b4cf"/>
<ellipse cx="188.4" cy="581.0" rx="3.57" ry="3.22" transform="rotate(109 188.4 581.0)" fill="#e77aa9"/><circle cx="188.4" cy="581.0" r="1.86" fill="#f4b4cf"/>
<ellipse cx="256.1" cy="549.4" rx="3.65" ry="3.21" transform="rotate(126 256.1 549.4)" fill="#e77aa9"/><circle cx="256.1" cy="549.4" r="1.90" fill="#f4b4cf"/>
<ellipse cx="263.9" cy="552.9" rx="3.80" ry="3.66" transform="rotate(154 263.9 552.9)" fill="#e77aa9"/><circle cx="263.9" cy="552.9" r="1.98" fill="#f4b4cf"/>
<ellipse cx="271.0" cy="548.8" rx="3.60" ry="3.28" transform="rotate(12 271.0 548.8)" fill="#e77aa9"/><circle cx="271.0" cy="548.8" r="1.87" fill="#f4b4cf"/>
<ellipse cx="278.2" cy="549.4" rx="3.42" ry="2.94" transform="rotate(57 278.2 549.4)" fill="#e77aa9"/><circle cx="278.2" cy="549.4" r="1.78" fill="#f4b4cf"/>
<ellipse cx="285.3" cy="547.6" rx="3.40" ry="3.12" transform="rotate(140 285.3 547.6)" fill="#e77aa9"/><circle cx="285.3" cy="547.6" r="1.77" fill="#f4b4cf"/>
<ellipse cx="295.5" cy="548.8" rx="3.67" ry="3.39" transform="rotate(33 295.5 548.8)" fill="#e77aa9"/><circle cx="295.5" cy="548.8" r="1.91" fill="#f4b4cf"/>
<ellipse cx="302.6" cy="550.0" rx="3.74" ry="3.73" transform="rotate(83 302.6 550.0)" fill="#e77aa9"/><circle cx="302.6" cy="550.0" r="1.94" fill="#f4b4cf"/>
<ellipse cx="288.9" cy="557.1" rx="3.87" ry="3.30" transform="rotate(100 288.9 557.1)" fill="#e77aa9"/><circle cx="288.9" cy="557.1" r="2.01" fill="#f4b4cf"/>
<ellipse cx="303.2" cy="560.1" rx="3.71" ry="3.57" transform="rotate(57 303.2 560.1)" fill="#e77aa9"/><circle cx="303.2" cy="560.1" r="1.93" fill="#f4b4cf"/>
<ellipse cx="305.6" cy="566.0" rx="3.86" ry="3.52" transform="rotate(163 305.6 566.0)" fill="#e77aa9"/><circle cx="305.6" cy="566.0" r="2.01" fill="#f4b4cf"/>
<ellipse cx="264.5" cy="567.2" rx="3.56" ry="3.39" transform="rotate(129 264.5 567.2)" fill="#e77aa9"/><circle cx="264.5" cy="567.2" r="1.85" fill="#f4b4cf"/>
<ellipse cx="276.4" cy="570.2" rx="3.63" ry="3.22" transform="rotate(80 276.4 570.2)" fill="#e77aa9"/><circle cx="276.4" cy="570.2" r="1.89" fill="#f4b4cf"/>
<ellipse cx="287.1" cy="566.6" rx="3.51" ry="3.40" transform="rotate(139 287.1 566.6)" fill="#e77aa9"/><circle cx="287.1" cy="566.6" r="1.83" fill="#f4b4cf"/>
<ellipse cx="286.5" cy="574.4" rx="3.92" ry="3.49" transform="rotate(70 286.5 574.4)" fill="#e77aa9"/><circle cx="286.5" cy="574.4" r="2.04" fill="#f4b4cf"/>
<ellipse cx="298.4" cy="573.2" rx="3.76" ry="3.74" transform="rotate(84 298.4 573.2)" fill="#e77aa9"/><circle cx="298.4" cy="573.2" r="1.95" fill="#f4b4cf"/>
<ellipse cx="247.2" cy="575.0" rx="3.40" ry="3.38" transform="rotate(55 247.2 575.0)" fill="#e77aa9"/><circle cx="247.2" cy="575.0" r="1.77" fill="#f4b4cf"/>
<ellipse cx="254.9" cy="576.8" rx="3.54" ry="3.38" transform="rotate(12 254.9 576.8)" fill="#e77aa9"/><circle cx="254.9" cy="576.8" r="1.84" fill="#f4b4cf"/>
<ellipse cx="260.3" cy="582.1" rx="3.64" ry="3.26" transform="rotate(180 260.3 582.1)" fill="#e77aa9"/><circle cx="260.3" cy="582.1" r="1.89" fill="#f4b4cf"/>
<ellipse cx="283.0" cy="581.5" rx="3.35" ry="2.99" transform="rotate(143 283.0 581.5)" fill="#e77aa9"/><circle cx="283.0" cy="581.5" r="1.74" fill="#f4b4cf"/>
<ellipse cx="291.3" cy="580.4" rx="3.71" ry="3.68" transform="rotate(81 291.3 580.4)" fill="#e77aa9"/><circle cx="291.3" cy="580.4" r="1.93" fill="#f4b4cf"/>
<ellipse cx="297.3" cy="578.6" rx="3.60" ry="3.59" transform="rotate(85 297.3 578.6)" fill="#e77aa9"/><circle cx="297.3" cy="578.6" r="1.87" fill="#f4b4cf"/>
<ellipse cx="249.0" cy="586.3" rx="3.46" ry="3.04" transform="rotate(57 249.0 586.3)" fill="#e77aa9"/><circle cx="249.0" cy="586.3" r="1.80" fill="#f4b4cf"/>
<ellipse cx="268.0" cy="586.9" rx="3.93" ry="3.48" transform="rotate(109 268.0 586.9)" fill="#e77aa9"/><circle cx="268.0" cy="586.9" r="2.05" fill="#f4b4cf"/>
<ellipse cx="275.8" cy="587.5" rx="3.74" ry="3.29" transform="rotate(133 275.8 587.5)" fill="#e77aa9"/><circle cx="275.8" cy="587.5" r="1.95" fill="#f4b4cf"/>
<ellipse cx="285.3" cy="588.1" rx="3.76" ry="3.38" transform="rotate(76 285.3 588.1)" fill="#e77aa9"/><circle cx="285.3" cy="588.1" r="1.95" fill="#f4b4cf"/>
<ellipse cx="189.6" cy="594.2" rx="3.41" ry="3.32" transform="rotate(51 189.6 594.2)" fill="#e77aa9"/><circle cx="189.6" cy="594.2" r="1.77" fill="#f4b4cf"/>
<ellipse cx="197.9" cy="600.1" rx="3.83" ry="3.81" transform="rotate(7 197.9 600.1)" fill="#e77aa9"/><circle cx="197.9" cy="600.1" r="1.99" fill="#f4b4cf"/>
<ellipse cx="203.9" cy="596.6" rx="3.64" ry="3.52" transform="rotate(74 203.9 596.6)" fill="#e77aa9"/><circle cx="203.9" cy="596.6" r="1.89" fill="#f4b4cf"/>
<ellipse cx="212.2" cy="599.5" rx="3.55" ry="3.28" transform="rotate(156 212.2 599.5)" fill="#e77aa9"/><circle cx="212.2" cy="599.5" r="1.85" fill="#f4b4cf"/>
<ellipse cx="224.7" cy="591.2" rx="3.88" ry="3.88" transform="rotate(149 224.7 591.2)" fill="#e77aa9"/><circle cx="224.7" cy="591.2" r="2.02" fill="#f4b4cf"/>
<ellipse cx="230.1" cy="597.2" rx="3.39" ry="3.10" transform="rotate(36 230.1 597.2)" fill="#e77aa9"/><circle cx="230.1" cy="597.2" r="1.77" fill="#f4b4cf"/>
<ellipse cx="237.3" cy="591.8" rx="3.37" ry="3.15" transform="rotate(81 237.3 591.8)" fill="#e77aa9"/><circle cx="237.3" cy="591.8" r="1.75" fill="#f4b4cf"/>
<ellipse cx="221.8" cy="606.1" rx="3.37" ry="3.28" transform="rotate(71 221.8 606.1)" fill="#e77aa9"/><circle cx="221.8" cy="606.1" r="1.75" fill="#f4b4cf"/>
<ellipse cx="236.1" cy="606.7" rx="3.93" ry="3.81" transform="rotate(32 236.1 606.7)" fill="#e77aa9"/><circle cx="236.1" cy="606.7" r="2.04" fill="#f4b4cf"/>
<ellipse cx="245.6" cy="605.5" rx="3.96" ry="3.62" transform="rotate(45 245.6 605.5)" fill="#e77aa9"/><circle cx="245.6" cy="605.5" r="2.06" fill="#f4b4cf"/>
<ellipse cx="194.9" cy="609.1" rx="3.52" ry="3.19" transform="rotate(76 194.9 609.1)" fill="#e77aa9"/><circle cx="194.9" cy="609.1" r="1.83" fill="#f4b4cf"/>
<ellipse cx="208.6" cy="613.8" rx="3.48" ry="3.09" transform="rotate(34 208.6 613.8)" fill="#e77aa9"/><circle cx="208.6" cy="613.8" r="1.81" fill="#f4b4cf"/>
<ellipse cx="189.0" cy="613.2" rx="3.32" ry="3.25" transform="rotate(57 189.0 613.2)" fill="#e77aa9"/><circle cx="189.0" cy="613.2" r="1.73" fill="#f4b4cf"/>
<ellipse cx="232.5" cy="614.4" rx="3.63" ry="3.39" transform="rotate(119 232.5 614.4)" fill="#e77aa9"/><circle cx="232.5" cy="614.4" r="1.89" fill="#f4b4cf"/>
<ellipse cx="235.5" cy="618.0" rx="3.55" ry="3.16" transform="rotate(64 235.5 618.0)" fill="#e77aa9"/><circle cx="235.5" cy="618.0" r="1.85" fill="#f4b4cf"/>
<ellipse cx="191.4" cy="622.2" rx="3.63" ry="3.41" transform="rotate(8 191.4 622.2)" fill="#e77aa9"/><circle cx="191.4" cy="622.2" r="1.89" fill="#f4b4cf"/>
<ellipse cx="205.1" cy="624.0" rx="3.88" ry="3.37" transform="rotate(88 205.1 624.0)" fill="#e77aa9"/><circle cx="205.1" cy="624.0" r="2.02" fill="#f4b4cf"/>
<ellipse cx="221.8" cy="624.6" rx="3.86" ry="3.39" transform="rotate(14 221.8 624.6)" fill="#e77aa9"/><circle cx="221.8" cy="624.6" r="2.01" fill="#f4b4cf"/>
<ellipse cx="231.3" cy="628.1" rx="3.56" ry="3.34" transform="rotate(75 231.3 628.1)" fill="#e77aa9"/><circle cx="231.3" cy="628.1" r="1.85" fill="#f4b4cf"/>
<ellipse cx="240.8" cy="631.1" rx="3.88" ry="3.63" transform="rotate(16 240.8 631.1)" fill="#e77aa9"/><circle cx="240.8" cy="631.1" r="2.02" fill="#f4b4cf"/>
<ellipse cx="215.8" cy="631.1" rx="3.56" ry="3.21" transform="rotate(61 215.8 631.1)" fill="#e77aa9"/><circle cx="215.8" cy="631.1" r="1.85" fill="#f4b4cf"/>
<ellipse cx="248.4" cy="591.8" rx="3.70" ry="3.19" transform="rotate(123 248.4 591.8)" fill="#e77aa9"/><circle cx="248.4" cy="591.8" r="1.92" fill="#f4b4cf"/>
<ellipse cx="257.3" cy="593.6" rx="3.92" ry="3.61" transform="rotate(156 257.3 593.6)" fill="#e77aa9"/><circle cx="257.3" cy="593.6" r="2.04" fill="#f4b4cf"/>
<ellipse cx="268.6" cy="593.6" rx="3.45" ry="3.13" transform="rotate(60 268.6 593.6)" fill="#e77aa9"/><circle cx="268.6" cy="593.6" r="1.79" fill="#f4b4cf"/>
<ellipse cx="275.2" cy="597.2" rx="3.40" ry="3.29" transform="rotate(47 275.2 597.2)" fill="#e77aa9"/><circle cx="275.2" cy="597.2" r="1.77" fill="#f4b4cf"/>
<ellipse cx="285.3" cy="591.2" rx="3.52" ry="3.25" transform="rotate(169 285.3 591.2)" fill="#e77aa9"/><circle cx="285.3" cy="591.2" r="1.83" fill="#f4b4cf"/>
<ellipse cx="293.1" cy="591.8" rx="3.93" ry="3.46" transform="rotate(124 293.1 591.8)" fill="#e77aa9"/><circle cx="293.1" cy="591.8" r="2.05" fill="#f4b4cf"/>
<ellipse cx="298.4" cy="596.6" rx="3.62" ry="3.45" transform="rotate(20 298.4 596.6)" fill="#e77aa9"/><circle cx="298.4" cy="596.6" r="1.88" fill="#f4b4cf"/>
<ellipse cx="250.8" cy="598.9" rx="3.32" ry="3.15" transform="rotate(112 250.8 598.9)" fill="#e77aa9"/><circle cx="250.8" cy="598.9" r="1.73" fill="#f4b4cf"/>
<ellipse cx="263.3" cy="599.5" rx="3.64" ry="3.18" transform="rotate(59 263.3 599.5)" fill="#f09cc2"/><circle cx="263.3" cy="599.5" r="1.82" fill="#f5b8d2"/>
<ellipse cx="247.8" cy="605.5" rx="3.48" ry="3.14" transform="rotate(92 247.8 605.5)" fill="#e77aa9"/><circle cx="247.8" cy="605.5" r="1.81" fill="#f4b4cf"/>
<ellipse cx="254.3" cy="606.7" rx="3.92" ry="3.35" transform="rotate(149 254.3 606.7)" fill="#e77aa9"/><circle cx="254.3" cy="606.7" r="2.04" fill="#f4b4cf"/>
<ellipse cx="263.9" cy="610.3" rx="3.84" ry="3.61" transform="rotate(155 263.9 610.3)" fill="#e77aa9"/><circle cx="263.9" cy="610.3" r="2.00" fill="#f4b4cf"/>
<ellipse cx="275.2" cy="613.2" rx="3.34" ry="3.31" transform="rotate(47 275.2 613.2)" fill="#e77aa9"/><circle cx="275.2" cy="613.2" r="1.73" fill="#f4b4cf"/>
<ellipse cx="285.9" cy="613.2" rx="4.63" ry="4.06" transform="rotate(67 285.9 613.2)" fill="#ee8ab6"/><circle cx="285.9" cy="613.2" r="2.32" fill="#f2a2c6"/>
<ellipse cx="300.2" cy="605.5" rx="3.86" ry="3.30" transform="rotate(6 300.2 605.5)" fill="#e77aa9"/><circle cx="300.2" cy="605.5" r="2.01" fill="#f4b4cf"/>
<ellipse cx="252.6" cy="616.2" rx="3.79" ry="3.24" transform="rotate(10 252.6 616.2)" fill="#e77aa9"/><circle cx="252.6" cy="616.2" r="1.97" fill="#f4b4cf"/>
<ellipse cx="266.9" cy="621.6" rx="3.83" ry="3.68" transform="rotate(178 266.9 621.6)" fill="#e77aa9"/><circle cx="266.9" cy="621.6" r="1.99" fill="#f4b4cf"/>
<ellipse cx="254.9" cy="625.8" rx="3.57" ry="3.12" transform="rotate(171 254.9 625.8)" fill="#e77aa9"/><circle cx="254.9" cy="625.8" r="1.85" fill="#f4b4cf"/>
<ellipse cx="263.9" cy="629.3" rx="3.60" ry="3.48" transform="rotate(25 263.9 629.3)" fill="#e77aa9"/><circle cx="263.9" cy="629.3" r="1.87" fill="#f4b4cf"/>
<ellipse cx="283.0" cy="627.5" rx="3.94" ry="3.75" transform="rotate(180 283.0 627.5)" fill="#e77aa9"/><circle cx="283.0" cy="627.5" r="2.05" fill="#f4b4cf"/>
<ellipse cx="304.4" cy="620.4" rx="3.34" ry="3.12" transform="rotate(36 304.4 620.4)" fill="#e77aa9"/><circle cx="304.4" cy="620.4" r="1.74" fill="#f4b4cf"/>
<ellipse cx="290.7" cy="632.3" rx="3.67" ry="3.36" transform="rotate(161 290.7 632.3)" fill="#e77aa9"/><circle cx="290.7" cy="632.3" r="1.91" fill="#f4b4cf"/>
</g></g>
<clipPath id="c3"><rect x="65" y="637.6" width="121.30000000000001" height="90.0"/></clipPath>
<rect x="65" y="637.6" width="121.30000000000001" height="90.0" fill="#fcf6f9"/>
<g clip-path="url(#c3)"><g filter="url(#soft)">
<ellipse cx="106.9" cy="640.8" rx="3.95" ry="3.76" transform="rotate(88 106.9 640.8)" fill="#e8739f"/><circle cx="106.9" cy="640.8" r="2.05" fill="#f0a0c2"/>
<ellipse cx="114.1" cy="639.6" rx="3.88" ry="3.50" transform="rotate(150 114.1 639.6)" fill="#e8739f"/><circle cx="114.1" cy="639.6" r="2.02" fill="#f0a0c2"/>
<ellipse cx="120.0" cy="642.0" rx="3.72" ry="3.22" transform="rotate(31 120.0 642.0)" fill="#e8739f"/><circle cx="120.0" cy="642.0" r="1.94" fill="#f0a0c2"/>
<ellipse cx="103.3" cy="645.5" rx="3.93" ry="3.85" transform="rotate(97 103.3 645.5)" fill="#e8739f"/><circle cx="103.3" cy="645.5" r="2.04" fill="#f0a0c2"/>
<ellipse cx="115.3" cy="649.1" rx="3.57" ry="3.17" transform="rotate(18 115.3 649.1)" fill="#e8739f"/><circle cx="115.3" cy="649.1" r="1.86" fill="#f0a0c2"/>
<ellipse cx="123.6" cy="647.9" rx="3.76" ry="3.38" transform="rotate(163 123.6 647.9)" fill="#e8739f"/><circle cx="123.6" cy="647.9" r="1.96" fill="#f0a0c2"/>
<ellipse cx="103.9" cy="653.3" rx="3.88" ry="3.77" transform="rotate(145 103.9 653.3)" fill="#e8739f"/><circle cx="103.9" cy="653.3" r="2.02" fill="#f0a0c2"/>
<ellipse cx="102.1" cy="659.2" rx="3.62" ry="3.15" transform="rotate(170 102.1 659.2)" fill="#e8739f"/><circle cx="102.1" cy="659.2" r="1.88" fill="#f0a0c2"/>
<ellipse cx="111.7" cy="658.6" rx="3.55" ry="3.25" transform="rotate(143 111.7 658.6)" fill="#e8739f"/><circle cx="111.7" cy="658.6" r="1.84" fill="#f0a0c2"/>
<ellipse cx="118.8" cy="656.9" rx="3.71" ry="3.58" transform="rotate(159 118.8 656.9)" fill="#e8739f"/><circle cx="118.8" cy="656.9" r="1.93" fill="#f0a0c2"/>
<ellipse cx="123.6" cy="663.4" rx="4.13" ry="3.69" transform="rotate(48 123.6 663.4)" fill="#e8739f"/><circle cx="123.6" cy="663.4" r="2.15" fill="#f0a0c2"/>
<ellipse cx="116.4" cy="668.8" rx="3.78" ry="3.23" transform="rotate(4 116.4 668.8)" fill="#e8739f"/><circle cx="116.4" cy="668.8" r="1.97" fill="#f0a0c2"/>
<ellipse cx="68.2" cy="668.2" rx="3.71" ry="3.25" transform="rotate(133 68.2 668.2)" fill="#e8739f"/><circle cx="68.2" cy="668.2" r="1.93" fill="#f0a0c2"/>
<ellipse cx="75.9" cy="668.2" rx="3.77" ry="3.24" transform="rotate(55 75.9 668.2)" fill="#e8739f"/><circle cx="75.9" cy="668.2" r="1.96" fill="#f0a0c2"/>
<ellipse cx="96.2" cy="668.2" rx="3.63" ry="3.10" transform="rotate(108 96.2 668.2)" fill="#e8739f"/><circle cx="96.2" cy="668.2" r="1.89" fill="#f0a0c2"/>
<ellipse cx="103.9" cy="667.6" rx="3.71" ry="3.30" transform="rotate(35 103.9 667.6)" fill="#e8739f"/><circle cx="103.9" cy="667.6" r="1.93" fill="#f0a0c2"/>
<ellipse cx="71.2" cy="675.3" rx="3.96" ry="3.84" transform="rotate(169 71.2 675.3)" fill="#e8739f"/><circle cx="71.2" cy="675.3" r="2.06" fill="#f0a0c2"/>
<ellipse cx="78.3" cy="674.1" rx="4.18" ry="3.70" transform="rotate(112 78.3 674.1)" fill="#e8739f"/><circle cx="78.3" cy="674.1" r="2.17" fill="#f0a0c2"/>
<ellipse cx="84.9" cy="677.7" rx="3.74" ry="3.25" transform="rotate(88 84.9 677.7)" fill="#e8739f"/><circle cx="84.9" cy="677.7" r="1.94" fill="#f0a0c2"/>
<ellipse cx="97.4" cy="677.7" rx="4.19" ry="3.78" transform="rotate(92 97.4 677.7)" fill="#e8739f"/><circle cx="97.4" cy="677.7" r="2.18" fill="#f0a0c2"/>
<ellipse cx="106.9" cy="677.1" rx="4.07" ry="3.51" transform="rotate(1 106.9 677.1)" fill="#e8739f"/><circle cx="106.9" cy="677.1" r="2.12" fill="#f0a0c2"/>
<ellipse cx="116.4" cy="677.7" rx="4.15" ry="4.07" transform="rotate(113 116.4 677.7)" fill="#e8739f"/><circle cx="116.4" cy="677.7" r="2.16" fill="#f0a0c2"/>
<ellipse cx="87.0" cy="668.5" rx="4.10" ry="4.03" transform="rotate(130 87.0 668.5)" fill="#e8739f"/><circle cx="87.0" cy="668.5" r="2.13" fill="#f0a0c2"/>
<ellipse cx="126.5" cy="648.9" rx="4.21" ry="4.10" transform="rotate(177 126.5 648.9)" fill="#e8739f"/><circle cx="126.5" cy="648.9" r="2.19" fill="#f0a0c2"/>
<ellipse cx="136.3" cy="645.8" rx="4.12" ry="3.52" transform="rotate(85 136.3 645.8)" fill="#e8739f"/><circle cx="136.3" cy="645.8" r="2.14" fill="#f0a0c2"/>
<ellipse cx="144.9" cy="643.4" rx="3.59" ry="3.45" transform="rotate(8 144.9 643.4)" fill="#e8739f"/><circle cx="144.9" cy="643.4" r="1.87" fill="#f0a0c2"/>
<ellipse cx="136.9" cy="638.5" rx="4.05" ry="3.91" transform="rotate(8 136.9 638.5)" fill="#e8739f"/><circle cx="136.9" cy="638.5" r="2.11" fill="#f0a0c2"/>
<ellipse cx="130.8" cy="655.1" rx="3.59" ry="3.33" transform="rotate(173 130.8 655.1)" fill="#e889b3"/><circle cx="130.8" cy="655.1" r="2.23" fill="#f8d2e2"/>
<ellipse cx="126.5" cy="660.5" rx="4.22" ry="4.07" transform="rotate(145 126.5 660.5)" fill="#e8739f"/><circle cx="126.5" cy="660.5" r="2.19" fill="#f0a0c2"/>
<ellipse cx="131.5" cy="665.5" rx="3.77" ry="3.64" transform="rotate(102 131.5 665.5)" fill="#e8739f"/><circle cx="131.5" cy="665.5" r="1.96" fill="#f0a0c2"/>
<ellipse cx="151.1" cy="668.0" rx="3.86" ry="3.67" transform="rotate(4 151.1 668.0)" fill="#e8739f"/><circle cx="151.1" cy="668.0" r="2.00" fill="#f0a0c2"/>
<ellipse cx="159.7" cy="668.0" rx="3.77" ry="3.47" transform="rotate(37 159.7 668.0)" fill="#e8739f"/><circle cx="159.7" cy="668.0" r="1.96" fill="#f0a0c2"/>
<ellipse cx="170.2" cy="669.2" rx="4.03" ry="4.02" transform="rotate(45 170.2 669.2)" fill="#e8739f"/><circle cx="170.2" cy="669.2" r="2.10" fill="#f0a0c2"/>
<ellipse cx="179.4" cy="668.0" rx="3.73" ry="3.55" transform="rotate(106 179.4 668.0)" fill="#e8739f"/><circle cx="179.4" cy="668.0" r="1.94" fill="#f0a0c2"/>
<ellipse cx="125.2" cy="674.2" rx="3.81" ry="3.52" transform="rotate(51 125.2 674.2)" fill="#e8739f"/><circle cx="125.2" cy="674.2" r="1.98" fill="#f0a0c2"/>
<ellipse cx="134.5" cy="676.6" rx="4.04" ry="3.44" transform="rotate(144 134.5 676.6)" fill="#e8739f"/><circle cx="134.5" cy="676.6" r="2.10" fill="#f0a0c2"/>
<ellipse cx="144.9" cy="678.5" rx="3.71" ry="3.38" transform="rotate(80 144.9 678.5)" fill="#e8739f"/><circle cx="144.9" cy="678.5" r="1.93" fill="#f0a0c2"/>
<ellipse cx="156.0" cy="676.6" rx="3.94" ry="3.54" transform="rotate(34 156.0 676.6)" fill="#e8739f"/><circle cx="156.0" cy="676.6" r="2.05" fill="#f0a0c2"/>
<ellipse cx="164.6" cy="676.6" rx="4.16" ry="3.54" transform="rotate(177 164.6 676.6)" fill="#e8739f"/><circle cx="164.6" cy="676.6" r="2.16" fill="#f0a0c2"/>
<ellipse cx="176.9" cy="674.8" rx="3.73" ry="3.38" transform="rotate(102 176.9 674.8)" fill="#e8739f"/><circle cx="176.9" cy="674.8" r="1.94" fill="#f0a0c2"/>
<ellipse cx="169.5" cy="679.7" rx="3.75" ry="3.60" transform="rotate(40 169.5 679.7)" fill="#c98fd0"/><circle cx="169.5" cy="679.7" r="1.88" fill="#d9aadd"/>
<ellipse cx="184.3" cy="675.4" rx="4.04" ry="3.57" transform="rotate(82 184.3 675.4)" fill="#e8739f"/><circle cx="184.3" cy="675.4" r="2.10" fill="#f0a0c2"/>
<ellipse cx="67.6" cy="689.5" rx="3.93" ry="3.45" transform="rotate(172 67.6 689.5)" fill="#e8739f"/><circle cx="67.6" cy="689.5" r="2.04" fill="#f0a0c2"/>
<ellipse cx="73.5" cy="681.2" rx="4.17" ry="3.87" transform="rotate(173 73.5 681.2)" fill="#e8739f"/><circle cx="73.5" cy="681.2" r="2.17" fill="#f0a0c2"/>
<ellipse cx="86.0" cy="681.2" rx="3.66" ry="3.15" transform="rotate(140 86.0 681.2)" fill="#e8739f"/><circle cx="86.0" cy="681.2" r="1.90" fill="#f0a0c2"/>
<ellipse cx="78.9" cy="691.3" rx="3.80" ry="3.48" transform="rotate(26 78.9 691.3)" fill="#e8739f"/><circle cx="78.9" cy="691.3" r="1.98" fill="#f0a0c2"/>
<ellipse cx="80.7" cy="699.1" rx="3.96" ry="3.60" transform="rotate(110 80.7 699.1)" fill="#e8739f"/><circle cx="80.7" cy="699.1" r="2.06" fill="#f0a0c2"/>
<ellipse cx="69.4" cy="701.5" rx="3.76" ry="3.76" transform="rotate(166 69.4 701.5)" fill="#e8739f"/><circle cx="69.4" cy="701.5" r="1.95" fill="#f0a0c2"/>
<ellipse cx="76.5" cy="707.4" rx="4.02" ry="3.45" transform="rotate(64 76.5 707.4)" fill="#e889b3"/><circle cx="76.5" cy="707.4" r="2.49" fill="#f8d2e2"/>
<ellipse cx="89.6" cy="706.8" rx="3.95" ry="3.52" transform="rotate(78 89.6 706.8)" fill="#e8739f"/><circle cx="89.6" cy="706.8" r="2.05" fill="#f0a0c2"/>
<ellipse cx="98.0" cy="705.0" rx="3.86" ry="3.42" transform="rotate(59 98.0 705.0)" fill="#e8739f"/><circle cx="98.0" cy="705.0" r="2.01" fill="#f0a0c2"/>
<ellipse cx="102.7" cy="701.5" rx="4.10" ry="3.51" transform="rotate(100 102.7 701.5)" fill="#e8739f"/><circle cx="102.7" cy="701.5" r="2.13" fill="#f0a0c2"/>
<ellipse cx="103.3" cy="709.2" rx="3.67" ry="3.64" transform="rotate(52 103.3 709.2)" fill="#e8739f"/><circle cx="103.3" cy="709.2" r="1.91" fill="#f0a0c2"/>
<ellipse cx="94.4" cy="714.0" rx="3.83" ry="3.53" transform="rotate(69 94.4 714.0)" fill="#e8739f"/><circle cx="94.4" cy="714.0" r="1.99" fill="#f0a0c2"/>
<ellipse cx="99.8" cy="721.1" rx="4.16" ry="3.85" transform="rotate(47 99.8 721.1)" fill="#e8739f"/><circle cx="99.8" cy="721.1" r="2.16" fill="#f0a0c2"/>
<ellipse cx="68.8" cy="715.8" rx="3.85" ry="3.37" transform="rotate(176 68.8 715.8)" fill="#e8739f"/><circle cx="68.8" cy="715.8" r="2.00" fill="#f0a0c2"/>
<ellipse cx="100.9" cy="686.6" rx="3.92" ry="3.49" transform="rotate(140 100.9 686.6)" fill="#e889b3"/><circle cx="100.9" cy="686.6" r="2.43" fill="#f8d2e2"/>
<ellipse cx="109.9" cy="687.7" rx="3.98" ry="3.90" transform="rotate(139 109.9 687.7)" fill="#e8739f"/><circle cx="109.9" cy="687.7" r="2.07" fill="#f0a0c2"/>
<ellipse cx="116.4" cy="682.4" rx="3.92" ry="3.47" transform="rotate(105 116.4 682.4)" fill="#e8739f"/><circle cx="116.4" cy="682.4" r="2.04" fill="#f0a0c2"/>
<ellipse cx="108.7" cy="695.5" rx="4.15" ry="4.11" transform="rotate(74 108.7 695.5)" fill="#e8739f"/><circle cx="108.7" cy="695.5" r="2.16" fill="#f0a0c2"/>
<ellipse cx="116.4" cy="694.3" rx="3.60" ry="3.44" transform="rotate(26 116.4 694.3)" fill="#e8739f"/><circle cx="116.4" cy="694.3" r="1.87" fill="#f0a0c2"/>
<ellipse cx="123.6" cy="696.7" rx="4.07" ry="3.93" transform="rotate(128 123.6 696.7)" fill="#e8739f"/><circle cx="123.6" cy="696.7" r="2.11" fill="#f0a0c2"/>
<ellipse cx="123.6" cy="688.3" rx="3.86" ry="3.53" transform="rotate(70 123.6 688.3)" fill="#e8739f"/><circle cx="123.6" cy="688.3" r="2.00" fill="#f0a0c2"/>
<ellipse cx="105.7" cy="725.9" rx="3.95" ry="3.83" transform="rotate(138 105.7 725.9)" fill="#e8739f"/><circle cx="105.7" cy="725.9" r="2.05" fill="#f0a0c2"/>
<ellipse cx="122.4" cy="709.2" rx="4.06" ry="3.79" transform="rotate(66 122.4 709.2)" fill="#e8739f"/><circle cx="122.4" cy="709.2" r="2.11" fill="#f0a0c2"/>
<ellipse cx="128.9" cy="683.7" rx="4.12" ry="3.80" transform="rotate(64 128.9 683.7)" fill="#e8739f"/><circle cx="128.9" cy="683.7" r="2.14" fill="#f0a0c2"/>
<ellipse cx="136.3" cy="682.5" rx="3.58" ry="3.14" transform="rotate(44 136.3 682.5)" fill="#e8739f"/><circle cx="136.3" cy="682.5" r="1.86" fill="#f0a0c2"/>
<ellipse cx="147.4" cy="681.8" rx="4.14" ry="3.80" transform="rotate(143 147.4 681.8)" fill="#e8739f"/><circle cx="147.4" cy="681.8" r="2.15" fill="#f0a0c2"/>
<ellipse cx="156.0" cy="681.2" rx="3.68" ry="3.63" transform="rotate(46 156.0 681.2)" fill="#e8739f"/><circle cx="156.0" cy="681.2" r="1.92" fill="#f0a0c2"/>
<ellipse cx="169.5" cy="681.2" rx="3.69" ry="3.15" transform="rotate(66 169.5 681.2)" fill="#c98fd0"/><circle cx="169.5" cy="681.2" r="1.84" fill="#d9aadd"/>
<ellipse cx="176.9" cy="681.2" rx="3.88" ry="3.37" transform="rotate(8 176.9 681.2)" fill="#e8739f"/><circle cx="176.9" cy="681.2" r="2.02" fill="#f0a0c2"/>
<ellipse cx="125.8" cy="697.2" rx="3.71" ry="3.24" transform="rotate(57 125.8 697.2)" fill="#e8739f"/><circle cx="125.8" cy="697.2" r="1.93" fill="#f0a0c2"/>
<ellipse cx="136.3" cy="694.8" rx="4.48" ry="4.16" transform="rotate(118 136.3 694.8)" fill="#c38ad0"/><circle cx="136.3" cy="694.8" r="2.24" fill="#d6a6dc"/>
<ellipse cx="136.3" cy="689.8" rx="3.61" ry="3.12" transform="rotate(98 136.3 689.8)" fill="#c98fd0"/><circle cx="136.3" cy="689.8" r="1.80" fill="#d9aadd"/>
<ellipse cx="146.2" cy="690.5" rx="4.03" ry="3.70" transform="rotate(82 146.2 690.5)" fill="#e8739f"/><circle cx="146.2" cy="690.5" r="2.10" fill="#f0a0c2"/>
<ellipse cx="154.2" cy="689.2" rx="3.58" ry="3.38" transform="rotate(46 154.2 689.2)" fill="#e8739f"/><circle cx="154.2" cy="689.2" r="1.86" fill="#f0a0c2"/>
<ellipse cx="163.4" cy="692.3" rx="3.82" ry="3.31" transform="rotate(134 163.4 692.3)" fill="#e8739f"/><circle cx="163.4" cy="692.3" r="1.99" fill="#f0a0c2"/>
<ellipse cx="172.6" cy="692.3" rx="3.57" ry="3.05" transform="rotate(100 172.6 692.3)" fill="#e8739f"/><circle cx="172.6" cy="692.3" r="1.86" fill="#f0a0c2"/>
<ellipse cx="180.6" cy="691.1" rx="3.70" ry="3.36" transform="rotate(29 180.6 691.1)" fill="#e8739f"/><circle cx="180.6" cy="691.1" r="1.92" fill="#f0a0c2"/>
<ellipse cx="163.4" cy="699.7" rx="3.82" ry="3.25" transform="rotate(32 163.4 699.7)" fill="#c98fd0"/><circle cx="163.4" cy="699.7" r="1.91" fill="#d9aadd"/>
<ellipse cx="143.1" cy="703.4" rx="3.81" ry="3.66" transform="rotate(111 143.1 703.4)" fill="#e8739f"/><circle cx="143.1" cy="703.4" r="1.98" fill="#f0a0c2"/>
<ellipse cx="153.5" cy="705.8" rx="3.68" ry="3.41" transform="rotate(6 153.5 705.8)" fill="#e8739f"/><circle cx="153.5" cy="705.8" r="1.92" fill="#f0a0c2"/>
<ellipse cx="125.2" cy="708.9" rx="3.65" ry="3.11" transform="rotate(144 125.2 708.9)" fill="#e8739f"/><circle cx="125.2" cy="708.9" r="1.90" fill="#f0a0c2"/>
<ellipse cx="142.5" cy="708.3" rx="3.62" ry="3.13" transform="rotate(26 142.5 708.3)" fill="#e8739f"/><circle cx="142.5" cy="708.3" r="1.88" fill="#f0a0c2"/>
<ellipse cx="148.6" cy="712.6" rx="3.78" ry="3.32" transform="rotate(152 148.6 712.6)" fill="#e8739f"/><circle cx="148.6" cy="712.6" r="1.97" fill="#f0a0c2"/>
<ellipse cx="157.2" cy="710.8" rx="3.90" ry="3.90" transform="rotate(176 157.2 710.8)" fill="#e8739f"/><circle cx="157.2" cy="710.8" r="2.03" fill="#f0a0c2"/>
<ellipse cx="141.2" cy="716.9" rx="3.80" ry="3.57" transform="rotate(171 141.2 716.9)" fill="#e8739f"/><circle cx="141.2" cy="716.9" r="1.97" fill="#f0a0c2"/>
<ellipse cx="153.5" cy="719.4" rx="3.99" ry="3.87" transform="rotate(178 153.5 719.4)" fill="#e8739f"/><circle cx="153.5" cy="719.4" r="2.07" fill="#f0a0c2"/>
<ellipse cx="146.2" cy="722.5" rx="3.55" ry="3.29" transform="rotate(50 146.2 722.5)" fill="#e8739f"/><circle cx="146.2" cy="722.5" r="1.85" fill="#f0a0c2"/>
<ellipse cx="131.4" cy="721.8" rx="3.60" ry="3.09" transform="rotate(123 131.4 721.8)" fill="#e8739f"/><circle cx="131.4" cy="721.8" r="1.87" fill="#f0a0c2"/>
<ellipse cx="183.1" cy="704.6" rx="4.06" ry="3.72" transform="rotate(93 183.1 704.6)" fill="#e8739f"/><circle cx="183.1" cy="704.6" r="2.11" fill="#f0a0c2"/>
</g></g>
<clipPath id="c4"><rect x="187.6" y="637.6" width="118.9" height="90.0"/></clipPath>
<rect x="187.6" y="637.6" width="118.9" height="90.0" fill="#fcf6f9"/>
<g clip-path="url(#c4)"><g filter="url(#soft2)">
<ellipse cx="193.2" cy="640.2" rx="4.17" ry="3.87" transform="rotate(175 193.2 640.2)" fill="#e66aa0"/><circle cx="193.2" cy="640.2" r="2.08" fill="#ee8cba"/>
<ellipse cx="202.7" cy="644.3" rx="3.89" ry="3.64" transform="rotate(176 202.7 644.3)" fill="#e66aa0"/><circle cx="202.7" cy="644.3" r="1.95" fill="#ee8cba"/>
<ellipse cx="208.6" cy="642.6" rx="4.08" ry="3.35" transform="rotate(90 208.6 642.6)" fill="#e66aa0"/><circle cx="208.6" cy="642.6" r="2.04" fill="#ee8cba"/>
<ellipse cx="215.8" cy="644.3" rx="3.14" ry="2.67" transform="rotate(148 215.8 644.3)" fill="#e66aa0"/><circle cx="215.8" cy="644.3" r="1.57" fill="#ee8cba"/>
<ellipse cx="225.9" cy="645.5" rx="5.45" ry="5.13" transform="rotate(75 225.9 645.5)" fill="#c07cd0"/><circle cx="225.9" cy="645.5" r="2.73" fill="#d29ad8"/>
<ellipse cx="234.9" cy="642.0" rx="4.17" ry="3.35" transform="rotate(61 234.9 642.0)" fill="#e66aa0"/><circle cx="234.9" cy="642.0" r="2.09" fill="#ee8cba"/>
<ellipse cx="244.4" cy="640.8" rx="4.39" ry="3.53" transform="rotate(147 244.4 640.8)" fill="#e66aa0"/><circle cx="244.4" cy="640.8" r="2.19" fill="#ee8cba"/>
<ellipse cx="190.8" cy="647.9" rx="4.58" ry="4.21" transform="rotate(101 190.8 647.9)" fill="#e66aa0"/><circle cx="190.8" cy="647.9" r="2.29" fill="#ee8cba"/>
<ellipse cx="189.0" cy="652.7" rx="4.25" ry="4.24" transform="rotate(178 189.0 652.7)" fill="#e66aa0"/><circle cx="189.0" cy="652.7" r="2.12" fill="#ee8cba"/>
<ellipse cx="230.7" cy="653.9" rx="4.19" ry="3.71" transform="rotate(166 230.7 653.9)" fill="#e66aa0"/><circle cx="230.7" cy="653.9" r="2.10" fill="#ee8cba"/>
<ellipse cx="245.6" cy="653.9" rx="4.22" ry="3.48" transform="rotate(94 245.6 653.9)" fill="#e66aa0"/><circle cx="245.6" cy="653.9" r="2.11" fill="#ee8cba"/>
<ellipse cx="213.4" cy="659.2" rx="4.53" ry="4.11" transform="rotate(58 213.4 659.2)" fill="#e66aa0"/><circle cx="213.4" cy="659.2" r="2.26" fill="#ee8cba"/>
<ellipse cx="224.1" cy="664.0" rx="4.39" ry="4.01" transform="rotate(44 224.1 664.0)" fill="#e66aa0"/><circle cx="224.1" cy="664.0" r="2.20" fill="#ee8cba"/>
<ellipse cx="233.1" cy="661.6" rx="4.36" ry="4.08" transform="rotate(164 233.1 661.6)" fill="#e66aa0"/><circle cx="233.1" cy="661.6" r="2.18" fill="#ee8cba"/>
<ellipse cx="244.4" cy="662.8" rx="4.43" ry="3.79" transform="rotate(83 244.4 662.8)" fill="#e66aa0"/><circle cx="244.4" cy="662.8" r="2.22" fill="#ee8cba"/>
<ellipse cx="205.7" cy="667.0" rx="4.57" ry="4.53" transform="rotate(49 205.7 667.0)" fill="#e66aa0"/><circle cx="205.7" cy="667.0" r="2.29" fill="#ee8cba"/>
<ellipse cx="212.8" cy="669.4" rx="4.21" ry="3.53" transform="rotate(173 212.8 669.4)" fill="#e66aa0"/><circle cx="212.8" cy="669.4" r="2.11" fill="#ee8cba"/>
<ellipse cx="217.6" cy="670.6" rx="4.08" ry="3.47" transform="rotate(2 217.6 670.6)" fill="#e66aa0"/><circle cx="217.6" cy="670.6" r="2.04" fill="#ee8cba"/>
<ellipse cx="203.9" cy="674.7" rx="5.69" ry="5.10" transform="rotate(98 203.9 674.7)" fill="#c07cd0"/><circle cx="203.9" cy="674.7" r="2.85" fill="#d29ad8"/>
<ellipse cx="221.8" cy="675.3" rx="4.56" ry="4.35" transform="rotate(138 221.8 675.3)" fill="#e66aa0"/><circle cx="221.8" cy="675.3" r="2.28" fill="#ee8cba"/>
<ellipse cx="188.4" cy="674.1" rx="4.15" ry="3.65" transform="rotate(81 188.4 674.1)" fill="#e66aa0"/><circle cx="188.4" cy="674.1" r="2.08" fill="#ee8cba"/>
<ellipse cx="242.0" cy="676.5" rx="4.47" ry="4.01" transform="rotate(39 242.0 676.5)" fill="#e66aa0"/><circle cx="242.0" cy="676.5" r="2.23" fill="#ee8cba"/>
<ellipse cx="197.9" cy="680.7" rx="4.56" ry="4.46" transform="rotate(141 197.9 680.7)" fill="#e66aa0"/><circle cx="197.9" cy="680.7" r="2.28" fill="#ee8cba"/>
<ellipse cx="227.7" cy="680.1" rx="4.45" ry="3.98" transform="rotate(151 227.7 680.1)" fill="#e66aa0"/><circle cx="227.7" cy="680.1" r="2.22" fill="#ee8cba"/>
<ellipse cx="248.4" cy="640.2" rx="4.21" ry="4.07" transform="rotate(108 248.4 640.2)" fill="#e66aa0"/><circle cx="248.4" cy="640.2" r="2.11" fill="#ee8cba"/>
<ellipse cx="258.5" cy="640.8" rx="4.58" ry="3.94" transform="rotate(67 258.5 640.8)" fill="#e66aa0"/><circle cx="258.5" cy="640.8" r="2.29" fill="#ee8cba"/>
<ellipse cx="269.8" cy="641.4" rx="3.94" ry="3.38" transform="rotate(79 269.8 641.4)" fill="#e66aa0"/><circle cx="269.8" cy="641.4" r="1.97" fill="#ee8cba"/>
<ellipse cx="285.9" cy="641.4" rx="5.63" ry="5.55" transform="rotate(114 285.9 641.4)" fill="#c07cd0"/><circle cx="285.9" cy="641.4" r="2.81" fill="#d29ad8"/>
<ellipse cx="297.3" cy="639.0" rx="4.09" ry="3.74" transform="rotate(164 297.3 639.0)" fill="#e66aa0"/><circle cx="297.3" cy="639.0" r="2.05" fill="#ee8cba"/>
<ellipse cx="304.4" cy="642.0" rx="4.61" ry="3.98" transform="rotate(104 304.4 642.0)" fill="#e66aa0"/><circle cx="304.4" cy="642.0" r="2.31" fill="#ee8cba"/>
<ellipse cx="255.5" cy="647.3" rx="4.07" ry="3.36" transform="rotate(111 255.5 647.3)" fill="#e66aa0"/><circle cx="255.5" cy="647.3" r="2.04" fill="#ee8cba"/>
<ellipse cx="265.1" cy="647.9" rx="4.50" ry="4.49" transform="rotate(144 265.1 647.9)" fill="#e66aa0"/><circle cx="265.1" cy="647.9" r="2.25" fill="#ee8cba"/>
<ellipse cx="277.0" cy="646.7" rx="4.17" ry="4.00" transform="rotate(93 277.0 646.7)" fill="#e66aa0"/><circle cx="277.0" cy="646.7" r="2.08" fill="#ee8cba"/>
<ellipse cx="287.7" cy="649.7" rx="3.93" ry="3.92" transform="rotate(35 287.7 649.7)" fill="#d080c8"/><circle cx="287.7" cy="649.7" r="1.96" fill="#de9ed6"/>
<ellipse cx="299.0" cy="649.1" rx="4.15" ry="3.42" transform="rotate(144 299.0 649.1)" fill="#e66aa0"/><circle cx="299.0" cy="649.1" r="2.08" fill="#ee8cba"/>
<ellipse cx="249.6" cy="653.9" rx="4.30" ry="3.64" transform="rotate(58 249.6 653.9)" fill="#e66aa0"/><circle cx="249.6" cy="653.9" r="2.15" fill="#ee8cba"/>
<ellipse cx="259.1" cy="656.3" rx="4.12" ry="3.33" transform="rotate(56 259.1 656.3)" fill="#e66aa0"/><circle cx="259.1" cy="656.3" r="2.06" fill="#ee8cba"/>
<ellipse cx="268.6" cy="653.3" rx="4.35" ry="4.17" transform="rotate(145 268.6 653.3)" fill="#e66aa0"/><circle cx="268.6" cy="653.3" r="2.17" fill="#ee8cba"/>
<ellipse cx="277.6" cy="653.9" rx="3.89" ry="3.74" transform="rotate(147 277.6 653.9)" fill="#e66aa0"/><circle cx="277.6" cy="653.9" r="1.94" fill="#ee8cba"/>
<ellipse cx="284.1" cy="653.9" rx="3.91" ry="3.44" transform="rotate(84 284.1 653.9)" fill="#e66aa0"/><circle cx="284.1" cy="653.9" r="1.96" fill="#ee8cba"/>
<ellipse cx="292.5" cy="659.2" rx="4.33" ry="3.89" transform="rotate(14 292.5 659.2)" fill="#e66aa0"/><circle cx="292.5" cy="659.2" r="2.17" fill="#ee8cba"/>
<ellipse cx="301.4" cy="659.2" rx="4.43" ry="3.78" transform="rotate(129 301.4 659.2)" fill="#d080c8"/><circle cx="301.4" cy="659.2" r="2.21" fill="#de9ed6"/>
<ellipse cx="247.2" cy="663.4" rx="3.94" ry="3.44" transform="rotate(176 247.2 663.4)" fill="#d080c8"/><circle cx="247.2" cy="663.4" r="1.97" fill="#de9ed6"/>
<ellipse cx="253.2" cy="662.8" rx="4.17" ry="3.51" transform="rotate(118 253.2 662.8)" fill="#d080c8"/><circle cx="253.2" cy="662.8" r="2.08" fill="#de9ed6"/>
<ellipse cx="274.0" cy="662.8" rx="5.75" ry="5.00" transform="rotate(17 274.0 662.8)" fill="#c07cd0"/><circle cx="274.0" cy="662.8" r="2.88" fill="#d29ad8"/>
<ellipse cx="256.7" cy="669.4" rx="3.97" ry="3.18" transform="rotate(32 256.7 669.4)" fill="#e66aa0"/><circle cx="256.7" cy="669.4" r="1.98" fill="#ee8cba"/>
<ellipse cx="280.6" cy="670.0" rx="4.32" ry="3.64" transform="rotate(42 280.6 670.0)" fill="#e66aa0"/><circle cx="280.6" cy="670.0" r="2.16" fill="#ee8cba"/>
<ellipse cx="248.4" cy="674.1" rx="4.10" ry="3.93" transform="rotate(79 248.4 674.1)" fill="#e66aa0"/><circle cx="248.4" cy="674.1" r="2.05" fill="#ee8cba"/>
<ellipse cx="254.9" cy="677.7" rx="3.92" ry="3.18" transform="rotate(138 254.9 677.7)" fill="#e66aa0"/><circle cx="254.9" cy="677.7" r="1.96" fill="#ee8cba"/>
<ellipse cx="278.2" cy="677.7" rx="4.97" ry="4.13" transform="rotate(19 278.2 677.7)" fill="#c07cd0"/><circle cx="278.2" cy="677.7" r="2.49" fill="#d29ad8"/>
<ellipse cx="302.6" cy="675.3" rx="3.99" ry="3.78" transform="rotate(153 302.6 675.3)" fill="#e66aa0"/><circle cx="302.6" cy="675.3" r="2.00" fill="#ee8cba"/>
<ellipse cx="197.9" cy="682.4" rx="4.21" ry="3.61" transform="rotate(44 197.9 682.4)" fill="#e66aa0"/><circle cx="197.9" cy="682.4" r="2.10" fill="#ee8cba"/>
<ellipse cx="211.0" cy="686.0" rx="4.23" ry="3.86" transform="rotate(82 211.0 686.0)" fill="#e66aa0"/><circle cx="211.0" cy="686.0" r="2.11" fill="#ee8cba"/>
<ellipse cx="225.3" cy="683.0" rx="3.94" ry="3.58" transform="rotate(111 225.3 683.0)" fill="#e66aa0"/><circle cx="225.3" cy="683.0" r="1.97" fill="#ee8cba"/>
<ellipse cx="233.7" cy="688.3" rx="4.37" ry="4.36" transform="rotate(26 233.7 688.3)" fill="#e66aa0"/><circle cx="233.7" cy="688.3" r="2.18" fill="#ee8cba"/>
<ellipse cx="244.4" cy="691.9" rx="5.02" ry="4.99" transform="rotate(120 244.4 691.9)" fill="#c07cd0"/><circle cx="244.4" cy="691.9" r="2.51" fill="#d29ad8"/>
<ellipse cx="192.0" cy="690.7" rx="4.10" ry="3.37" transform="rotate(130 192.0 690.7)" fill="#e66aa0"/><circle cx="192.0" cy="690.7" r="2.05" fill="#ee8cba"/>
<ellipse cx="212.2" cy="693.1" rx="4.44" ry="3.97" transform="rotate(91 212.2 693.1)" fill="#e66aa0"/><circle cx="212.2" cy="693.1" r="2.22" fill="#ee8cba"/>
<ellipse cx="220.0" cy="693.7" rx="4.21" ry="3.49" transform="rotate(21 220.0 693.7)" fill="#e66aa0"/><circle cx="220.0" cy="693.7" r="2.11" fill="#ee8cba"/>
<ellipse cx="193.2" cy="699.7" rx="4.28" ry="3.57" transform="rotate(4 193.2 699.7)" fill="#d080c8"/><circle cx="193.2" cy="699.7" r="2.14" fill="#de9ed6"/>
<ellipse cx="203.9" cy="703.8" rx="4.26" ry="3.50" transform="rotate(105 203.9 703.8)" fill="#e66aa0"/><circle cx="203.9" cy="703.8" r="2.13" fill="#ee8cba"/>
<ellipse cx="240.8" cy="702.0" rx="4.59" ry="4.38" transform="rotate(25 240.8 702.0)" fill="#e66aa0"/><circle cx="240.8" cy="702.0" r="2.30" fill="#ee8cba"/>
<ellipse cx="232.5" cy="705.6" rx="4.14" ry="3.48" transform="rotate(71 232.5 705.6)" fill="#e66aa0"/><circle cx="232.5" cy="705.6" r="2.07" fill="#ee8cba"/>
<ellipse cx="191.4" cy="707.4" rx="4.33" ry="3.99" transform="rotate(162 191.4 707.4)" fill="#e66aa0"/><circle cx="191.4" cy="707.4" r="2.16" fill="#ee8cba"/>
<ellipse cx="232.5" cy="711.0" rx="4.00" ry="3.92" transform="rotate(130 232.5 711.0)" fill="#e66aa0"/><circle cx="232.5" cy="711.0" r="2.00" fill="#ee8cba"/>
<ellipse cx="219.4" cy="713.4" rx="4.37" ry="3.65" transform="rotate(3 219.4 713.4)" fill="#d080c8"/><circle cx="219.4" cy="713.4" r="2.18" fill="#de9ed6"/>
<ellipse cx="196.7" cy="714.0" rx="4.00" ry="3.94" transform="rotate(10 196.7 714.0)" fill="#e66aa0"/><circle cx="196.7" cy="714.0" r="2.00" fill="#ee8cba"/>
<ellipse cx="242.0" cy="719.3" rx="3.91" ry="3.76" transform="rotate(116 242.0 719.3)" fill="#e66aa0"/><circle cx="242.0" cy="719.3" r="1.96" fill="#ee8cba"/>
<ellipse cx="231.3" cy="719.3" rx="4.32" ry="4.02" transform="rotate(32 231.3 719.3)" fill="#e66aa0"/><circle cx="231.3" cy="719.3" r="2.16" fill="#ee8cba"/>
<ellipse cx="221.8" cy="721.1" rx="3.89" ry="3.39" transform="rotate(79 221.8 721.1)" fill="#e66aa0"/><circle cx="221.8" cy="721.1" r="1.94" fill="#ee8cba"/>
<ellipse cx="243.2" cy="724.7" rx="4.37" ry="4.04" transform="rotate(113 243.2 724.7)" fill="#e66aa0"/><circle cx="243.2" cy="724.7" r="2.19" fill="#ee8cba"/>
<ellipse cx="278.2" cy="681.2" rx="5.53" ry="5.29" transform="rotate(117 278.2 681.2)" fill="#c07cd0"/><circle cx="278.2" cy="681.2" r="2.76" fill="#d29ad8"/>
<ellipse cx="252.0" cy="690.7" rx="4.40" ry="3.93" transform="rotate(65 252.0 690.7)" fill="#e66aa0"/><circle cx="252.0" cy="690.7" r="2.20" fill="#ee8cba"/>
<ellipse cx="260.3" cy="689.5" rx="4.61" ry="4.46" transform="rotate(164 260.3 689.5)" fill="#d080c8"/><circle cx="260.3" cy="689.5" r="2.31" fill="#de9ed6"/>
<ellipse cx="267.5" cy="693.1" rx="4.35" ry="3.68" transform="rotate(142 267.5 693.1)" fill="#e66aa0"/><circle cx="267.5" cy="693.1" r="2.18" fill="#ee8cba"/>
<ellipse cx="276.4" cy="691.3" rx="5.14" ry="4.79" transform="rotate(113 276.4 691.3)" fill="#c07cd0"/><circle cx="276.4" cy="691.3" r="2.57" fill="#d29ad8"/>
<ellipse cx="294.9" cy="693.1" rx="4.33" ry="4.15" transform="rotate(115 294.9 693.1)" fill="#e66aa0"/><circle cx="294.9" cy="693.1" r="2.17" fill="#ee8cba"/>
<ellipse cx="287.1" cy="697.9" rx="4.05" ry="3.94" transform="rotate(159 287.1 697.9)" fill="#e66aa0"/><circle cx="287.1" cy="697.9" r="2.03" fill="#ee8cba"/>
<ellipse cx="303.8" cy="700.3" rx="4.49" ry="4.18" transform="rotate(125 303.8 700.3)" fill="#e66aa0"/><circle cx="303.8" cy="700.3" r="2.24" fill="#ee8cba"/>
<ellipse cx="247.2" cy="691.9" rx="4.28" ry="3.45" transform="rotate(120 247.2 691.9)" fill="#d080c8"/><circle cx="247.2" cy="691.9" r="2.14" fill="#de9ed6"/>
<ellipse cx="262.7" cy="701.5" rx="5.00" ry="4.08" transform="rotate(13 262.7 701.5)" fill="#c07cd0"/><circle cx="262.7" cy="701.5" r="2.50" fill="#d29ad8"/>
<ellipse cx="265.1" cy="707.4" rx="4.98" ry="4.50" transform="rotate(116 265.1 707.4)" fill="#c07cd0"/><circle cx="265.1" cy="707.4" r="2.49" fill="#d29ad8"/>
<ellipse cx="259.1" cy="703.8" rx="4.57" ry="4.24" transform="rotate(168 259.1 703.8)" fill="#d080c8"/><circle cx="259.1" cy="703.8" r="2.29" fill="#de9ed6"/>
<ellipse cx="250.8" cy="710.4" rx="4.02" ry="3.22" transform="rotate(14 250.8 710.4)" fill="#e66aa0"/><circle cx="250.8" cy="710.4" r="2.01" fill="#ee8cba"/>
<ellipse cx="279.4" cy="709.8" rx="4.03" ry="3.29" transform="rotate(61 279.4 709.8)" fill="#e66aa0"/><circle cx="279.4" cy="709.8" r="2.02" fill="#ee8cba"/>
<ellipse cx="294.9" cy="711.6" rx="4.30" ry="3.76" transform="rotate(87 294.9 711.6)" fill="#e66aa0"/><circle cx="294.9" cy="711.6" r="2.15" fill="#ee8cba"/>
<ellipse cx="260.3" cy="712.8" rx="4.01" ry="3.65" transform="rotate(107 260.3 712.8)" fill="#e66aa0"/><circle cx="260.3" cy="712.8" r="2.00" fill="#ee8cba"/>
<ellipse cx="266.9" cy="714.6" rx="4.25" ry="4.25" transform="rotate(126 266.9 714.6)" fill="#e66aa0"/><circle cx="266.9" cy="714.6" r="2.13" fill="#ee8cba"/>
<ellipse cx="284.1" cy="716.4" rx="4.55" ry="3.83" transform="rotate(176 284.1 716.4)" fill="#e66aa0"/><circle cx="284.1" cy="716.4" r="2.28" fill="#ee8cba"/>
<ellipse cx="271.6" cy="719.3" rx="5.20" ry="5.19" transform="rotate(50 271.6 719.3)" fill="#c07cd0"/><circle cx="271.6" cy="719.3" r="2.60" fill="#d29ad8"/>
<ellipse cx="292.5" cy="719.3" rx="4.43" ry="3.65" transform="rotate(92 292.5 719.3)" fill="#e66aa0"/><circle cx="292.5" cy="719.3" r="2.21" fill="#ee8cba"/>
<ellipse cx="252.0" cy="719.3" rx="4.03" ry="3.91" transform="rotate(6 252.0 719.3)" fill="#e66aa0"/><circle cx="252.0" cy="719.3" r="2.01" fill="#ee8cba"/>
<ellipse cx="259.1" cy="721.1" rx="4.90" ry="4.47" transform="rotate(87 259.1 721.1)" fill="#c07cd0"/><circle cx="259.1" cy="721.1" r="2.45" fill="#d29ad8"/>
<ellipse cx="303.8" cy="714.6" rx="4.54" ry="3.72" transform="rotate(86 303.8 714.6)" fill="#e66aa0"/><circle cx="303.8" cy="714.6" r="2.27" fill="#ee8cba"/>
</g></g>
<text x="66.2" y="634.4" font-size="8.3" fill="#2a2a2a" stroke="#2a2a2a" stroke-width="0.25" textLength="35.3" lengthAdjust="spacingAndGlyphs">C57BL/6</text>
<text x="188" y="634.2" font-size="8.3" fill="#2a2a2a" stroke="#2a2a2a" stroke-width="0.25" textLength="22.5" lengthAdjust="spacingAndGlyphs">HbAA</text>
<text x="66" y="725.6" font-size="8.3" fill="#2a2a2a" stroke="#2a2a2a" stroke-width="0.25" textLength="23.9" lengthAdjust="spacingAndGlyphs">HbSC</text>
<text x="188.8" y="726.2" font-size="8.3" fill="#2a2a2a" stroke="#2a2a2a" stroke-width="0.25" textLength="23" lengthAdjust="spacingAndGlyphs">HbSS</text>
<line x1="158.5" y1="633.9" x2="184.4" y2="633.9" stroke="#222" stroke-width="1"/>
<line x1="280" y1="633.3" x2="304.5" y2="633.3" stroke="#222" stroke-width="1"/>
<line x1="157" y1="724.8" x2="182" y2="724.8" stroke="#222" stroke-width="1"/>
<line x1="280" y1="724.7" x2="303.4" y2="724.7" stroke="#222" stroke-width="1"/>
<rect x="65.7" y="637.7" width="32.6" height="25.8" fill="#fdf6fa" stroke="#2a2a2a" stroke-width="1"/>
<circle cx="83.3" cy="650.5" r="11" fill="#ee8ab2"/><circle cx="83.3" cy="650.5" r="7.5" fill="#f3afca"/><circle cx="82" cy="650" r="3.2" fill="#f6c3d6"/>
<line x1="97" y1="639.3" x2="93" y2="643.5" stroke="#111" stroke-width="1"/><path d="M92.2,644.4 L92.9,641.5 L95,643.4 Z" fill="#111"/>
<rect x="153" y="638.5" width="32.3" height="26" fill="#fdf6fa" stroke="#2a2a2a" stroke-width="1"/>
<circle cx="173.5" cy="649" r="9.2" fill="#ee86b0"/><circle cx="173.5" cy="649" r="6" fill="#f6bcd3"/><circle cx="173.5" cy="649" r="2.8" fill="#ee9cbe"/>
<path d="M155,657 C160,653 168,656 172,662 C166,662 160,661 155,657 Z" fill="#ee8ab2"/>
<path transform="translate(162.5,648) rotate(180) scale(0.9)" d="M0,0 L4,-3.2 L4,-1.4 L8,-1.4 L8,1.4 L4,1.4 L4,3.2 Z" fill="#111" stroke="none" stroke-width="0.6"/>
<path transform="translate(174.5,659.6) rotate(0) scale(0.85)" d="M0,0 L4,-3.2 L4,-1.4 L8,-1.4 L8,1.4 L4,1.4 L4,3.2 Z" fill="#fff" stroke="#333" stroke-width="0.6"/>
<path transform="translate(135.5,655.3) rotate(0) scale(0.95)" d="M0,0 L4,-3.2 L4,-1.4 L8,-1.4 L8,1.4 L4,1.4 L4,3.2 Z" fill="#111" stroke="none" stroke-width="0.6"/>
<path transform="translate(115.5,664.5) rotate(-30) scale(0.8)" d="M0,0 L4,-3.2 L4,-1.4 L8,-1.4 L8,1.4 L4,1.4 L4,3.2 Z" fill="#fff" stroke="#333" stroke-width="0.6"/>
<line x1="86" y1="705" x2="92" y2="701" stroke="#111" stroke-width="1"/><path d="M83.5,707 L85.2,703.5 L87.2,706 Z" fill="#111"/>
<path transform="translate(269.6,583.6) rotate(-45) scale(0.75)" d="M0,0 L4,-3.2 L4,-1.4 L8,-1.4 L8,1.4 L4,1.4 L4,3.2 Z" fill="#111" stroke="none" stroke-width="0.6"/>
<path transform="translate(260.5,677.7) rotate(0) scale(0.9)" d="M0,0 L4,-3.2 L4,-1.4 L8,-1.4 L8,1.4 L4,1.4 L4,3.2 Z" fill="#111" stroke="none" stroke-width="0.6"/>
<path transform="translate(0,0)" d="M236,665.4 L238.3,669.8 L234.4,671.2 Z M240,666 L242.3,670.4 L238.4,671.8 Z" fill="#111"/>
<path transform="translate(-21.6,34.7)" d="M236,665.4 L238.3,669.8 L234.4,671.2 Z M240,666 L242.3,670.4 L238.4,671.8 Z" fill="#111"/>
<text x="323.40" y="538.60" font-size="12.3" text-anchor="start" font-weight="bold" fill="#111" stroke="#111" stroke-width="0.55" stroke-linejoin="round">J</text>
<text x="355.3" y="564.5" font-size="7.3" fill="#222" textLength="23.2" lengthAdjust="spacingAndGlyphs">CHCM:</text>
<text x="356.4" y="575.6" font-size="7.3" fill="#222" textLength="22.2" lengthAdjust="spacingAndGlyphs">Reti %:</text>
<text x="394.20" y="564.50" font-size="7.1" text-anchor="middle" font-weight="normal" fill="#222" >25.5</text>
<text x="394.20" y="575.60" font-size="7.1" text-anchor="middle" font-weight="normal" fill="#222" >6.47</text>
<text x="421.60" y="564.50" font-size="7.1" text-anchor="middle" font-weight="normal" fill="#222" >28.1</text>
<text x="421.60" y="575.60" font-size="7.1" text-anchor="middle" font-weight="normal" fill="#222" >25.6</text>
<text x="449.70" y="564.50" font-size="7.1" text-anchor="middle" font-weight="normal" fill="#222" >22.3</text>
<text x="449.70" y="575.60" font-size="7.1" text-anchor="middle" font-weight="normal" fill="#222" >50.1</text>
<text x="347.00" y="603.70" font-size="7.6" text-anchor="end" font-weight="normal" fill="#222" >1.02</text>
<text x="347.00" y="611.40" font-size="7.6" text-anchor="end" font-weight="normal" fill="#222" >1.04</text>
<text x="347.00" y="618.90" font-size="7.6" text-anchor="end" font-weight="normal" fill="#222" >1.06</text>
<text x="347.00" y="632.80" font-size="7.6" text-anchor="end" font-weight="normal" fill="#222" >1.08</text>
<text x="347.00" y="650.30" font-size="7.6" text-anchor="end" font-weight="normal" fill="#222" >1.09</text>
<text x="347.00" y="658.60" font-size="7.6" text-anchor="end" font-weight="normal" fill="#222" >g/ml</text>
<defs><linearGradient id="gAA" gradientUnits="userSpaceOnUse" x1="0" y1="588" x2="0" y2="691"><stop offset="0.000" stop-color="#efe7e3"/><stop offset="0.233" stop-color="#f0dcd2"/><stop offset="0.301" stop-color="#ecc0ac"/><stop offset="0.350" stop-color="#d8744e"/><stop offset="0.427" stop-color="#b63a2c"/><stop offset="0.495" stop-color="#921a2a"/><stop offset="0.631" stop-color="#8e1824"/><stop offset="0.684" stop-color="#a8402e"/><stop offset="0.728" stop-color="#d8b0a0"/><stop offset="0.777" stop-color="#e8e0dc"/><stop offset="1.000" stop-color="#e6dedb"/></linearGradient><linearGradient id="gSC" gradientUnits="userSpaceOnUse" x1="0" y1="588" x2="0" y2="691"><stop offset="0.000" stop-color="#efe5e1"/><stop offset="0.175" stop-color="#f0dcd0"/><stop offset="0.252" stop-color="#eec4ac"/><stop offset="0.330" stop-color="#e49070"/><stop offset="0.398" stop-color="#d0603e"/><stop offset="0.485" stop-color="#b42832"/><stop offset="0.583" stop-color="#a21c28"/><stop offset="0.670" stop-color="#a82228"/><stop offset="0.718" stop-color="#c87060"/><stop offset="0.757" stop-color="#dcb4a8"/><stop offset="0.806" stop-color="#e8e0dc"/><stop offset="1.000" stop-color="#e6dedb"/></linearGradient><linearGradient id="gSS" gradientUnits="userSpaceOnUse" x1="0" y1="588" x2="0" y2="691"><stop offset="0.000" stop-color="#efe7e4"/><stop offset="0.097" stop-color="#eed8cc"/><stop offset="0.136" stop-color="#e8ac90"/><stop offset="0.184" stop-color="#e08460"/><stop offset="0.243" stop-color="#da7050"/><stop offset="0.359" stop-color="#cc5236"/><stop offset="0.476" stop-color="#bc3430"/><stop offset="0.544" stop-color="#b42a28"/><stop offset="0.602" stop-color="#b84032"/><stop offset="0.641" stop-color="#c8705c"/><stop offset="0.680" stop-color="#dab4a6"/><stop offset="0.738" stop-color="#e8e0dc"/><stop offset="1.000" stop-color="#e6dedb"/></linearGradient><linearGradient id="gPost" x1="0" y1="0" x2="1" y2="0"><stop offset="0" stop-color="#e6dcbc"/><stop offset="0.35" stop-color="#f2ecd6"/><stop offset="0.7" stop-color="#e8dec0"/><stop offset="1" stop-color="#ded2ae"/></linearGradient><filter id="bl1" x="-20%" y="-100%" width="140%" height="300%"><feGaussianBlur stdDeviation="0.9"/></filter><filter id="bl2" x="-10%" y="-10%" width="120%" height="120%"><feGaussianBlur stdDeviation="0.5"/></filter></defs>
<rect x="350" y="580.3" width="112" height="112.2" fill="#ebe6e3"/>
<rect x="353" y="589" width="24" height="0.9" fill="#b4aaa6"/>
<g filter="url(#bl1)">
<rect x="352.5" y="593.8" width="22" height="5" fill="#ece4ee"/>
<rect x="352.5" y="600.6" width="24" height="3.4" fill="#c4e48c"/>
<rect x="351.5" y="607.6" width="27" height="2.2" fill="#f08e48"/>
</g>
<rect x="350" y="610.3" width="33" height="82.2" fill="#ebe0c6"/>
<rect x="354.7" y="611" width="18.1" height="79.5" fill="#dedde3"/>
<g opacity="0.8"><circle cx="365.9" cy="679.7" r="0.45" fill="#a8aac8"/><circle cx="368.9" cy="687.7" r="0.45" fill="#a8aac8"/><circle cx="367.9" cy="686.9" r="0.45" fill="#a8aac8"/><circle cx="355.5" cy="668.6" r="0.45" fill="#a8aac8"/><circle cx="371.5" cy="676.0" r="0.45" fill="#a8aac8"/><circle cx="370.8" cy="654.5" r="0.45" fill="#a8aac8"/><circle cx="363.2" cy="659.9" r="0.45" fill="#a8aac8"/><circle cx="364.5" cy="673.0" r="0.45" fill="#a8aac8"/><circle cx="355.2" cy="658.7" r="0.45" fill="#a8aac8"/><circle cx="359.9" cy="686.7" r="0.45" fill="#a8aac8"/><circle cx="368.4" cy="656.4" r="0.45" fill="#a8aac8"/><circle cx="369.0" cy="655.6" r="0.45" fill="#a8aac8"/><circle cx="365.8" cy="655.1" r="0.45" fill="#a8aac8"/><circle cx="355.0" cy="684.9" r="0.45" fill="#a8aac8"/><circle cx="358.7" cy="658.6" r="0.45" fill="#a8aac8"/><circle cx="372.2" cy="684.9" r="0.45" fill="#a8aac8"/><circle cx="360.1" cy="688.5" r="0.45" fill="#a8aac8"/><circle cx="364.4" cy="677.1" r="0.45" fill="#a8aac8"/><circle cx="358.6" cy="687.6" r="0.45" fill="#a8aac8"/><circle cx="367.1" cy="688.7" r="0.45" fill="#a8aac8"/><circle cx="370.6" cy="662.0" r="0.45" fill="#a8aac8"/><circle cx="361.3" cy="656.6" r="0.45" fill="#a8aac8"/><circle cx="357.5" cy="652.6" r="0.45" fill="#a8aac8"/><circle cx="360.3" cy="674.1" r="0.45" fill="#a8aac8"/><circle cx="355.1" cy="677.1" r="0.45" fill="#a8aac8"/><circle cx="360.9" cy="662.4" r="0.45" fill="#a8aac8"/><circle cx="369.3" cy="669.2" r="0.45" fill="#a8aac8"/><circle cx="360.5" cy="669.2" r="0.45" fill="#a8aac8"/><circle cx="367.3" cy="652.3" r="0.45" fill="#a8aac8"/><circle cx="372.1" cy="650.9" r="0.45" fill="#a8aac8"/><circle cx="368.1" cy="683.8" r="0.45" fill="#a8aac8"/><circle cx="355.3" cy="681.5" r="0.45" fill="#a8aac8"/><circle cx="361.4" cy="673.1" r="0.45" fill="#a8aac8"/><circle cx="355.2" cy="651.9" r="0.45" fill="#a8aac8"/><circle cx="358.2" cy="688.2" r="0.45" fill="#a8aac8"/><circle cx="358.4" cy="680.2" r="0.45" fill="#a8aac8"/><circle cx="371.3" cy="687.7" r="0.45" fill="#a8aac8"/><circle cx="361.0" cy="664.2" r="0.45" fill="#a8aac8"/><circle cx="364.2" cy="681.0" r="0.45" fill="#a8aac8"/><circle cx="356.9" cy="679.9" r="0.45" fill="#a8aac8"/><circle cx="369.0" cy="684.4" r="0.45" fill="#a8aac8"/><circle cx="355.6" cy="687.8" r="0.45" fill="#a8aac8"/><circle cx="356.6" cy="663.6" r="0.45" fill="#a8aac8"/><circle cx="365.7" cy="686.7" r="0.45" fill="#a8aac8"/><circle cx="360.9" cy="687.0" r="0.45" fill="#a8aac8"/><circle cx="364.5" cy="662.5" r="0.45" fill="#a8aac8"/><circle cx="360.5" cy="657.1" r="0.45" fill="#a8aac8"/><circle cx="356.4" cy="656.0" r="0.45" fill="#a8aac8"/><circle cx="367.1" cy="689.9" r="0.45" fill="#a8aac8"/><circle cx="357.8" cy="651.9" r="0.45" fill="#a8aac8"/><circle cx="372.3" cy="671.3" r="0.45" fill="#a8aac8"/><circle cx="362.1" cy="659.5" r="0.45" fill="#a8aac8"/><circle cx="365.4" cy="683.1" r="0.45" fill="#a8aac8"/><circle cx="363.0" cy="666.9" r="0.45" fill="#a8aac8"/><circle cx="356.0" cy="686.6" r="0.45" fill="#a8aac8"/><circle cx="355.6" cy="669.7" r="0.45" fill="#a8aac8"/><circle cx="369.7" cy="655.2" r="0.45" fill="#a8aac8"/><circle cx="367.8" cy="688.0" r="0.45" fill="#a8aac8"/><circle cx="366.0" cy="681.5" r="0.45" fill="#a8aac8"/><circle cx="356.9" cy="667.4" r="0.45" fill="#a8aac8"/><circle cx="357.6" cy="683.8" r="0.45" fill="#a8aac8"/><circle cx="360.2" cy="668.1" r="0.45" fill="#a8aac8"/><circle cx="372.5" cy="684.1" r="0.45" fill="#a8aac8"/><circle cx="372.1" cy="668.1" r="0.45" fill="#a8aac8"/><circle cx="363.5" cy="679.2" r="0.45" fill="#a8aac8"/><circle cx="363.4" cy="661.6" r="0.45" fill="#a8aac8"/><circle cx="362.1" cy="655.9" r="0.45" fill="#a8aac8"/><circle cx="361.6" cy="689.5" r="0.45" fill="#a8aac8"/><circle cx="371.8" cy="675.1" r="0.45" fill="#a8aac8"/><circle cx="363.7" cy="663.5" r="0.45" fill="#a8aac8"/><circle cx="356.6" cy="660.9" r="0.45" fill="#a8aac8"/><circle cx="368.7" cy="684.7" r="0.45" fill="#a8aac8"/><circle cx="361.3" cy="681.4" r="0.45" fill="#a8aac8"/><circle cx="368.6" cy="677.8" r="0.45" fill="#a8aac8"/><circle cx="366.6" cy="680.4" r="0.45" fill="#a8aac8"/><circle cx="361.4" cy="678.2" r="0.45" fill="#a8aac8"/><circle cx="359.9" cy="669.4" r="0.45" fill="#a8aac8"/><circle cx="368.5" cy="677.6" r="0.45" fill="#a8aac8"/><circle cx="360.1" cy="687.8" r="0.45" fill="#a8aac8"/><circle cx="366.4" cy="673.2" r="0.45" fill="#a8aac8"/><circle cx="355.2" cy="671.9" r="0.45" fill="#a8aac8"/><circle cx="359.4" cy="676.9" r="0.45" fill="#a8aac8"/><circle cx="363.1" cy="682.7" r="0.45" fill="#a8aac8"/><circle cx="366.3" cy="681.9" r="0.45" fill="#a8aac8"/><circle cx="361.1" cy="675.8" r="0.45" fill="#a8aac8"/><circle cx="367.9" cy="683.1" r="0.45" fill="#a8aac8"/><circle cx="361.1" cy="683.7" r="0.45" fill="#a8aac8"/><circle cx="370.2" cy="677.5" r="0.45" fill="#a8aac8"/><circle cx="372.1" cy="688.3" r="0.45" fill="#a8aac8"/><circle cx="364.1" cy="671.2" r="0.45" fill="#a8aac8"/><circle cx="357.9" cy="683.5" r="0.45" fill="#a8aac8"/><circle cx="371.4" cy="669.1" r="0.45" fill="#a8aac8"/><circle cx="367.1" cy="678.8" r="0.45" fill="#a8aac8"/><circle cx="367.8" cy="656.9" r="0.45" fill="#a8aac8"/><circle cx="368.7" cy="673.2" r="0.45" fill="#a8aac8"/><circle cx="366.6" cy="666.8" r="0.45" fill="#a8aac8"/><circle cx="365.9" cy="681.0" r="0.45" fill="#a8aac8"/><circle cx="366.1" cy="678.8" r="0.45" fill="#a8aac8"/><circle cx="355.5" cy="656.4" r="0.45" fill="#a8aac8"/><circle cx="362.7" cy="676.0" r="0.45" fill="#a8aac8"/><circle cx="358.8" cy="677.4" r="0.45" fill="#a8aac8"/><circle cx="366.0" cy="651.7" r="0.45" fill="#a8aac8"/><circle cx="363.3" cy="659.0" r="0.45" fill="#a8aac8"/><circle cx="355.9" cy="655.3" r="0.45" fill="#a8aac8"/><circle cx="360.6" cy="657.3" r="0.45" fill="#a8aac8"/><circle cx="358.4" cy="651.4" r="0.45" fill="#a8aac8"/><circle cx="363.1" cy="665.2" r="0.45" fill="#a8aac8"/><circle cx="365.7" cy="673.6" r="0.45" fill="#a8aac8"/><circle cx="359.2" cy="686.1" r="0.45" fill="#a8aac8"/><circle cx="355.0" cy="666.2" r="0.45" fill="#a8aac8"/><circle cx="359.9" cy="666.4" r="0.45" fill="#a8aac8"/><circle cx="357.0" cy="683.3" r="0.45" fill="#a8aac8"/><circle cx="361.5" cy="651.4" r="0.45" fill="#a8aac8"/><circle cx="365.7" cy="653.8" r="0.45" fill="#a8aac8"/><circle cx="364.5" cy="663.6" r="0.45" fill="#a8aac8"/><circle cx="365.2" cy="688.3" r="0.45" fill="#a8aac8"/><circle cx="369.3" cy="666.8" r="0.45" fill="#a8aac8"/><circle cx="369.2" cy="675.7" r="0.45" fill="#a8aac8"/><circle cx="361.5" cy="655.7" r="0.45" fill="#a8aac8"/><circle cx="365.4" cy="672.6" r="0.45" fill="#a8aac8"/><circle cx="371.8" cy="688.7" r="0.45" fill="#a8aac8"/><circle cx="365.7" cy="664.0" r="0.45" fill="#a8aac8"/><circle cx="370.6" cy="650.0" r="0.45" fill="#a8aac8"/><circle cx="356.9" cy="672.6" r="0.45" fill="#a8aac8"/><circle cx="365.8" cy="655.6" r="0.45" fill="#a8aac8"/><circle cx="366.0" cy="685.7" r="0.45" fill="#a8aac8"/><circle cx="361.6" cy="667.3" r="0.45" fill="#a8aac8"/><circle cx="359.0" cy="661.7" r="0.45" fill="#a8aac8"/><circle cx="372.0" cy="665.2" r="0.45" fill="#a8aac8"/><circle cx="371.8" cy="686.5" r="0.45" fill="#a8aac8"/><circle cx="365.4" cy="660.4" r="0.45" fill="#a8aac8"/><circle cx="372.2" cy="669.9" r="0.45" fill="#a8aac8"/><circle cx="362.3" cy="662.8" r="0.45" fill="#a8aac8"/><circle cx="372.2" cy="669.7" r="0.45" fill="#a8aac8"/><circle cx="360.0" cy="669.1" r="0.45" fill="#a8aac8"/><circle cx="357.1" cy="674.9" r="0.45" fill="#a8aac8"/><circle cx="362.8" cy="661.7" r="0.45" fill="#a8aac8"/><circle cx="368.7" cy="683.1" r="0.45" fill="#a8aac8"/><circle cx="355.2" cy="671.3" r="0.45" fill="#a8aac8"/><circle cx="359.8" cy="687.4" r="0.45" fill="#a8aac8"/><circle cx="368.7" cy="621.3" r="0.45" fill="#b0b0cc"/><circle cx="359.7" cy="617.9" r="0.45" fill="#b0b0cc"/><circle cx="372.3" cy="623.1" r="0.45" fill="#b0b0cc"/><circle cx="365.6" cy="630.0" r="0.45" fill="#b0b0cc"/><circle cx="366.3" cy="634.9" r="0.45" fill="#b0b0cc"/><circle cx="368.0" cy="616.5" r="0.45" fill="#b0b0cc"/><circle cx="368.3" cy="623.4" r="0.45" fill="#b0b0cc"/><circle cx="364.3" cy="624.8" r="0.45" fill="#b0b0cc"/><circle cx="360.2" cy="632.1" r="0.45" fill="#b0b0cc"/><circle cx="363.1" cy="625.7" r="0.45" fill="#b0b0cc"/><circle cx="368.0" cy="634.5" r="0.45" fill="#b0b0cc"/><circle cx="355.6" cy="621.6" r="0.45" fill="#b0b0cc"/><circle cx="363.0" cy="646.8" r="0.45" fill="#b0b0cc"/><circle cx="370.5" cy="632.7" r="0.45" fill="#b0b0cc"/><circle cx="355.3" cy="641.6" r="0.45" fill="#b0b0cc"/><circle cx="362.5" cy="633.9" r="0.45" fill="#b0b0cc"/><circle cx="367.4" cy="636.0" r="0.45" fill="#b0b0cc"/><circle cx="363.4" cy="646.6" r="0.45" fill="#b0b0cc"/><circle cx="361.7" cy="626.9" r="0.45" fill="#b0b0cc"/><circle cx="369.9" cy="619.5" r="0.45" fill="#b0b0cc"/><circle cx="360.2" cy="643.5" r="0.45" fill="#b0b0cc"/><circle cx="356.2" cy="643.8" r="0.45" fill="#b0b0cc"/><circle cx="367.2" cy="628.4" r="0.45" fill="#b0b0cc"/><circle cx="360.0" cy="641.7" r="0.45" fill="#b0b0cc"/><circle cx="370.9" cy="617.4" r="0.45" fill="#b0b0cc"/><circle cx="363.4" cy="632.9" r="0.45" fill="#b0b0cc"/><circle cx="363.7" cy="624.6" r="0.45" fill="#b0b0cc"/><circle cx="357.7" cy="634.3" r="0.45" fill="#b0b0cc"/><circle cx="369.2" cy="614.6" r="0.45" fill="#b0b0cc"/><circle cx="359.0" cy="643.1" r="0.45" fill="#b0b0cc"/></g>
<g filter="url(#bl1)">
<rect x="355.5" y="615.2" width="16" height="3" fill="#9448c8"/>
<rect x="355.5" y="627.9" width="16" height="2.8" fill="#7280c0"/>
<rect x="355.5" y="644.8" width="16.5" height="3.6" fill="#f04a5c"/>
</g>
<g filter="url(#bl2)">
<rect x="382.6" y="588" width="18.4" height="103" fill="url(#gAA)"/>
<rect x="410.6" y="588" width="19.8" height="103" fill="url(#gSC)"/>
<rect x="438.8" y="588" width="20.4" height="103" fill="url(#gSS)"/>
</g>
<rect x="382.6" y="587.2" width="18.4" height="1.2" fill="#a8948c"/>
<rect x="383.6" y="689.4" width="16.4" height="1.0" fill="#cbb0a4"/>
<rect x="410.6" y="587.2" width="19.8" height="1.2" fill="#a8948c"/>
<rect x="411.6" y="689.4" width="17.8" height="1.0" fill="#cbb0a4"/>
<rect x="438.8" y="587.2" width="20.4" height="1.2" fill="#a8948c"/>
<rect x="439.8" y="689.4" width="18.4" height="1.0" fill="#cbb0a4"/>
<rect x="373.5" y="609.8" width="9.1" height="82.7" rx="1" fill="url(#gPost)"/>
<rect x="377.05" y="580.3" width="2" height="29.5" fill="#f3eee8"/>
<rect x="400.6" y="609.8" width="10.6" height="82.7" rx="1" fill="url(#gPost)"/>
<rect x="404.90000000000003" y="580.3" width="2" height="29.5" fill="#f3eee8"/>
<rect x="430.2" y="609.8" width="8.7" height="82.7" rx="1" fill="url(#gPost)"/>
<rect x="433.55" y="580.3" width="2" height="29.5" fill="#f3eee8"/>
<rect x="459.1" y="609.8" width="2.9" height="82.7" rx="1" fill="url(#gPost)"/>
<rect x="459.55" y="580.3" width="2" height="29.5" fill="#f3eee8"/>
<rect x="350" y="610.3" width="4.7" height="82.2" fill="#e6d8b4"/>
<text x="363.00" y="706.20" font-size="7.0" text-anchor="middle" font-weight="normal" fill="#222" >Density</text>
<text x="363.00" y="714.60" font-size="7.0" text-anchor="middle" font-weight="normal" fill="#222" >beads</text>
<text x="392.70" y="706.20" font-size="7.0" text-anchor="middle" font-weight="normal" fill="#222" >HbAA</text>
<text x="420.60" y="706.20" font-size="7.0" text-anchor="middle" font-weight="normal" fill="#222" >HbSC</text>
<text x="449.40" y="706.20" font-size="7.0" text-anchor="middle" font-weight="normal" fill="#222" >HbSS</text>
<rect x="0.6" y="0.6" width="518.8" height="734.8" fill="none" stroke="#333" stroke-width="1.2"/>
</svg>
</body></html>
